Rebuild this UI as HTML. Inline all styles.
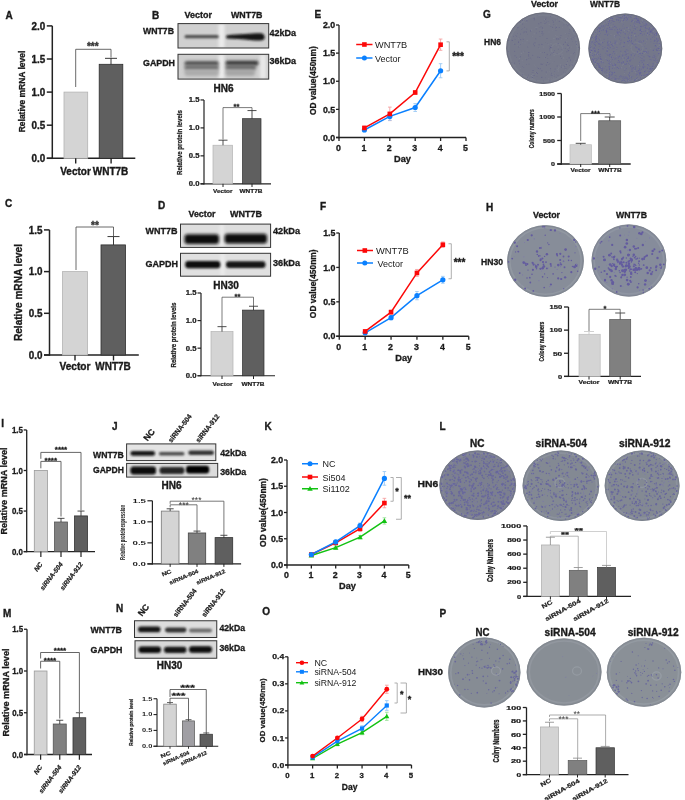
<!DOCTYPE html>
<html><head><meta charset="utf-8"><style>
html,body{margin:0;padding:0;background:#fff;}
svg{display:block;will-change:transform;filter:blur(0.3px);}
text{font-family:"Liberation Sans", sans-serif;}
</style></head><body>
<svg width="685" height="800" viewBox="0 0 685 800">
<defs>
<filter id="bl1" x="-30%" y="-100%" width="160%" height="300%"><feGaussianBlur stdDeviation="1.0"/></filter>
<filter id="bl2" x="-100%" y="-20%" width="300%" height="140%"><feGaussianBlur stdDeviation="1.5"/></filter>
<filter id="bl3" x="-20%" y="-20%" width="140%" height="140%"><feGaussianBlur stdDeviation="3"/></filter>
<filter id="bl15" x="-30%" y="-100%" width="160%" height="300%"><feGaussianBlur stdDeviation="1.4"/></filter>
<filter id="bl07" x="-100%" y="-100%" width="300%" height="300%"><feGaussianBlur stdDeviation="0.65"/></filter>
<filter id="bl05"><feGaussianBlur stdDeviation="0.4"/></filter>
</defs>
<rect width="685" height="800" fill="#fff"/>
<text x="5.60" y="18.80" font-size="10" font-weight="bold" text-anchor="start" fill="#1a1a1a" stroke="#1a1a1a" stroke-width="0.35">A</text>
<line x1="52.30" y1="159.05" x2="52.30" y2="25.90" stroke="#222" stroke-width="1.5"/>
<line x1="46.80" y1="158.30" x2="52.30" y2="158.30" stroke="#222" stroke-width="1.5"/>
<text x="45.30" y="161.90" font-size="10" font-weight="bold" text-anchor="end" fill="#1a1a1a" stroke="#1a1a1a" stroke-width="0.35" textLength="13.7" lengthAdjust="spacingAndGlyphs">0.0</text>
<line x1="46.80" y1="125.20" x2="52.30" y2="125.20" stroke="#222" stroke-width="1.5"/>
<text x="45.30" y="128.80" font-size="10" font-weight="bold" text-anchor="end" fill="#1a1a1a" stroke="#1a1a1a" stroke-width="0.35" textLength="13.7" lengthAdjust="spacingAndGlyphs">0.5</text>
<line x1="46.80" y1="92.10" x2="52.30" y2="92.10" stroke="#222" stroke-width="1.5"/>
<text x="45.30" y="95.70" font-size="10" font-weight="bold" text-anchor="end" fill="#1a1a1a" stroke="#1a1a1a" stroke-width="0.35" textLength="13.7" lengthAdjust="spacingAndGlyphs">1.0</text>
<line x1="46.80" y1="59.00" x2="52.30" y2="59.00" stroke="#222" stroke-width="1.5"/>
<text x="45.30" y="62.60" font-size="10" font-weight="bold" text-anchor="end" fill="#1a1a1a" stroke="#1a1a1a" stroke-width="0.35" textLength="13.7" lengthAdjust="spacingAndGlyphs">1.5</text>
<line x1="46.80" y1="25.90" x2="52.30" y2="25.90" stroke="#222" stroke-width="1.5"/>
<text x="45.30" y="29.50" font-size="10" font-weight="bold" text-anchor="end" fill="#1a1a1a" stroke="#1a1a1a" stroke-width="0.35" textLength="13.7" lengthAdjust="spacingAndGlyphs">2.0</text>
<line x1="46.80" y1="158.30" x2="135.30" y2="158.30" stroke="#222" stroke-width="1.5"/>
<rect x="64.00" y="92.10" width="23.70" height="66.20" fill="#d4d4d4" stroke="#b3b3b3" stroke-width="0.8"/>
<rect x="99.20" y="64.30" width="23.60" height="94.00" fill="#5f5f5f" stroke="#2e2e2e" stroke-width="0.8"/>
<line x1="111.00" y1="64.30" x2="111.00" y2="58.34" stroke="#222" stroke-width="0.9"/>
<line x1="105.00" y1="58.34" x2="117.00" y2="58.34" stroke="#222" stroke-width="0.9"/>
<polyline points="75.70,87.00 75.70,49.30 111.00,49.30 111.00,57.50" fill="none" stroke="#444" stroke-width="0.8"/>
<text x="92.80" y="50.10" font-size="10" font-weight="bold" text-anchor="middle" fill="#333" stroke="#333" stroke-width="0.35">***</text>
<line x1="75.70" y1="158.30" x2="75.70" y2="163.40" stroke="#222" stroke-width="1.4"/>
<line x1="111.10" y1="158.30" x2="111.10" y2="163.40" stroke="#222" stroke-width="1.4"/>
<text x="75.50" y="174.50" font-size="10" font-weight="bold" text-anchor="middle" fill="#1a1a1a" stroke="#1a1a1a" stroke-width="0.35">Vector</text>
<text x="110.50" y="174.50" font-size="10" font-weight="bold" text-anchor="middle" fill="#1a1a1a" stroke="#1a1a1a" stroke-width="0.35">WNT7B</text>
<text x="25.20" y="91.50" font-size="8.8" font-weight="bold" text-anchor="middle" fill="#1a1a1a" stroke="#1a1a1a" stroke-width="0.31" textLength="81.5" lengthAdjust="spacingAndGlyphs" transform="rotate(-90 25.20 91.50)">Relative mRNA level</text>
<text x="152.00" y="18.50" font-size="10" font-weight="bold" text-anchor="start" fill="#1a1a1a" stroke="#1a1a1a" stroke-width="0.35">B</text>
<text x="198.25" y="18.20" font-size="9" font-weight="bold" text-anchor="middle" fill="#1a1a1a" stroke="#1a1a1a" stroke-width="0.32" textLength="27.5" lengthAdjust="spacingAndGlyphs">Vector</text>
<text x="246.75" y="18.20" font-size="9" font-weight="bold" text-anchor="middle" fill="#1a1a1a" stroke="#1a1a1a" stroke-width="0.32" textLength="31.5" lengthAdjust="spacingAndGlyphs">WNT7B</text>
<text x="143.00" y="34.40" font-size="9" font-weight="bold" text-anchor="start" fill="#1a1a1a" stroke="#1a1a1a" stroke-width="0.32" textLength="31" lengthAdjust="spacingAndGlyphs">WNT7B</text>
<text x="143.00" y="65.60" font-size="9" font-weight="bold" text-anchor="start" fill="#1a1a1a" stroke="#1a1a1a" stroke-width="0.32" textLength="32" lengthAdjust="spacingAndGlyphs">GAPDH</text>
<text x="269.50" y="35.70" font-size="9" font-weight="bold" text-anchor="start" fill="#1a1a1a" stroke="#1a1a1a" stroke-width="0.32" textLength="26.5" lengthAdjust="spacingAndGlyphs">42kDa</text>
<text x="269.50" y="63.50" font-size="9" font-weight="bold" text-anchor="start" fill="#1a1a1a" stroke="#1a1a1a" stroke-width="0.32" textLength="26.5" lengthAdjust="spacingAndGlyphs">36kDa</text>
<text x="223.50" y="91.70" font-size="10" font-weight="bold" text-anchor="middle" fill="#1a1a1a" stroke="#1a1a1a" stroke-width="0.35">HN6</text>
<clipPath id="cl1"><rect x="178" y="23.6" width="90.69999999999999" height="24.4"/></clipPath>
<g clip-path="url(#cl1)">
<rect x="178.00" y="23.60" width="90.70" height="24.40" fill="#d0d0d0"/>
<rect x="218.50" y="23.6" width="6" height="24.4" fill="#ececec" filter="url(#bl2)"/>
<rect x="184.50" y="35.00" width="34.30" height="3.30" rx="1.65" fill="#4e4e4e" opacity="1" filter="url(#bl1)"/>
<path d="M227.5,35.2 C240,34.4 252,33.4 260,33.3 C264.5,33.3 265,36.5 264.5,38.5 C263.5,41 258,40.8 252,40.2 C242,39.4 234,38.8 227.5,38.6 C225.8,38.4 225.8,35.4 227.5,35.2 Z" fill="#141414" filter="url(#bl1)"/>
</g>
<rect x="178" y="23.6" width="90.69999999999999" height="24.4" fill="none" stroke="#333" stroke-width="1.0"/>
<clipPath id="cl2"><rect x="178" y="54.3" width="90.69999999999999" height="24.799999999999997"/></clipPath>
<g clip-path="url(#cl2)">
<rect x="178.00" y="54.30" width="90.70" height="24.80" fill="#cfcfcf"/>
<rect x="218.50" y="54.3" width="6" height="24.799999999999997" fill="#ececec" filter="url(#bl2)"/>
<rect x="260.00" y="54.3" width="6" height="24.799999999999997" fill="#e8e8e8" filter="url(#bl2)"/>
<rect x="184.50" y="61.30" width="34.30" height="4.30" rx="2.15" fill="#474747" opacity="1" filter="url(#bl15)"/>
<rect x="184.50" y="64.80" width="34.30" height="5.70" rx="2.85" fill="#707070" opacity="1" filter="url(#bl15)"/>
<rect x="184.50" y="69.50" width="34.30" height="6.50" rx="3.00" fill="#acacac" opacity="1" filter="url(#bl15)"/>
<rect x="225.50" y="60.80" width="33.00" height="4.60" rx="2.30" fill="#303030" opacity="1" filter="url(#bl15)"/>
<rect x="225.50" y="64.50" width="30.50" height="6.00" rx="3.00" fill="#6a6a6a" opacity="1" filter="url(#bl15)"/>
<rect x="225.50" y="69.50" width="29.50" height="6.50" rx="3.00" fill="#a6a6a6" opacity="1" filter="url(#bl15)"/>
</g>
<rect x="178" y="54.3" width="90.69999999999999" height="24.799999999999997" fill="none" stroke="#333" stroke-width="1.0"/>
<line x1="204.00" y1="184.40" x2="204.00" y2="99.95" stroke="#222" stroke-width="1.2"/>
<line x1="200.50" y1="183.80" x2="204.00" y2="183.80" stroke="#222" stroke-width="1.2"/>
<text x="199.50" y="186.14" font-size="6.5" font-weight="bold" text-anchor="end" fill="#1a1a1a" stroke="#1a1a1a" stroke-width="0.23" textLength="10.7" lengthAdjust="spacingAndGlyphs">0.0</text>
<line x1="200.50" y1="155.85" x2="204.00" y2="155.85" stroke="#222" stroke-width="1.2"/>
<text x="199.50" y="158.19" font-size="6.5" font-weight="bold" text-anchor="end" fill="#1a1a1a" stroke="#1a1a1a" stroke-width="0.23" textLength="10.7" lengthAdjust="spacingAndGlyphs">0.5</text>
<line x1="200.50" y1="127.90" x2="204.00" y2="127.90" stroke="#222" stroke-width="1.2"/>
<text x="199.50" y="130.24" font-size="6.5" font-weight="bold" text-anchor="end" fill="#1a1a1a" stroke="#1a1a1a" stroke-width="0.23" textLength="10.7" lengthAdjust="spacingAndGlyphs">1.0</text>
<line x1="200.50" y1="99.95" x2="204.00" y2="99.95" stroke="#222" stroke-width="1.2"/>
<text x="199.50" y="102.29" font-size="6.5" font-weight="bold" text-anchor="end" fill="#1a1a1a" stroke="#1a1a1a" stroke-width="0.23" textLength="10.7" lengthAdjust="spacingAndGlyphs">1.5</text>
<line x1="200.50" y1="183.80" x2="271.00" y2="183.80" stroke="#222" stroke-width="1.2"/>
<rect x="213.00" y="145.23" width="19.50" height="38.57" fill="#d4d4d4" stroke="#b3b3b3" stroke-width="0.7"/>
<rect x="242.50" y="118.68" width="18.50" height="65.12" fill="#5f5f5f" stroke="#2e2e2e" stroke-width="0.7"/>
<line x1="223.00" y1="145.23" x2="223.00" y2="140.20" stroke="#222" stroke-width="0.8"/>
<line x1="218.50" y1="140.20" x2="227.50" y2="140.20" stroke="#222" stroke-width="0.8"/>
<line x1="252.00" y1="118.68" x2="252.00" y2="110.57" stroke="#222" stroke-width="0.8"/>
<line x1="247.50" y1="110.57" x2="256.50" y2="110.57" stroke="#222" stroke-width="0.8"/>
<polyline points="223.00,139.50 223.00,107.60 252.00,107.60 252.00,110.80" fill="none" stroke="#444" stroke-width="0.7"/>
<text x="236.50" y="109.00" font-size="7.5" font-weight="bold" text-anchor="middle" fill="#1a1a1a" stroke="#1a1a1a" stroke-width="0.26">**</text>
<line x1="223.00" y1="183.80" x2="223.00" y2="187.00" stroke="#222" stroke-width="1.0"/>
<line x1="252.00" y1="183.80" x2="252.00" y2="187.00" stroke="#222" stroke-width="1.0"/>
<text x="222.75" y="193.30" font-size="5.8" font-weight="bold" text-anchor="middle" fill="#1a1a1a" stroke="#1a1a1a" stroke-width="0.20" textLength="19.5" lengthAdjust="spacingAndGlyphs">Vector</text>
<text x="251.00" y="193.30" font-size="5.8" font-weight="bold" text-anchor="middle" fill="#1a1a1a" stroke="#1a1a1a" stroke-width="0.20" textLength="23" lengthAdjust="spacingAndGlyphs">WNT7B</text>
<text x="181.60" y="142.50" font-size="7.2" font-weight="bold" text-anchor="middle" fill="#1a1a1a" stroke="#1a1a1a" stroke-width="0.25" textLength="65" lengthAdjust="spacingAndGlyphs" transform="rotate(-90 181.60 142.50)">Relative protein levels</text>
<text x="314.50" y="17.60" font-size="10" font-weight="bold" text-anchor="start" fill="#1a1a1a" stroke="#1a1a1a" stroke-width="0.35">E</text>
<line x1="339.00" y1="138.15" x2="339.00" y2="25.00" stroke="#222" stroke-width="1.3"/>
<line x1="336.00" y1="137.50" x2="339.00" y2="137.50" stroke="#222" stroke-width="1.3"/>
<text x="335.20" y="140.67" font-size="8.8" font-weight="bold" text-anchor="end" fill="#1a1a1a" stroke="#1a1a1a" stroke-width="0.31">0.0</text>
<line x1="336.00" y1="109.38" x2="339.00" y2="109.38" stroke="#222" stroke-width="1.3"/>
<text x="335.20" y="112.54" font-size="8.8" font-weight="bold" text-anchor="end" fill="#1a1a1a" stroke="#1a1a1a" stroke-width="0.31">0.5</text>
<line x1="336.00" y1="81.25" x2="339.00" y2="81.25" stroke="#222" stroke-width="1.3"/>
<text x="335.20" y="84.42" font-size="8.8" font-weight="bold" text-anchor="end" fill="#1a1a1a" stroke="#1a1a1a" stroke-width="0.31">1.0</text>
<line x1="336.00" y1="53.12" x2="339.00" y2="53.12" stroke="#222" stroke-width="1.3"/>
<text x="335.20" y="56.29" font-size="8.8" font-weight="bold" text-anchor="end" fill="#1a1a1a" stroke="#1a1a1a" stroke-width="0.31">1.5</text>
<line x1="336.00" y1="25.00" x2="339.00" y2="25.00" stroke="#222" stroke-width="1.3"/>
<text x="335.20" y="28.17" font-size="8.8" font-weight="bold" text-anchor="end" fill="#1a1a1a" stroke="#1a1a1a" stroke-width="0.31">2.0</text>
<line x1="336.00" y1="137.50" x2="466.00" y2="137.50" stroke="#222" stroke-width="1.3"/>
<line x1="339.00" y1="137.50" x2="339.00" y2="141.00" stroke="#222" stroke-width="1.3"/>
<text x="338.50" y="151.00" font-size="8.8" font-weight="bold" text-anchor="middle" fill="#1a1a1a" stroke="#1a1a1a" stroke-width="0.31">0</text>
<line x1="364.40" y1="137.50" x2="364.40" y2="141.00" stroke="#222" stroke-width="1.3"/>
<text x="363.90" y="151.00" font-size="8.8" font-weight="bold" text-anchor="middle" fill="#1a1a1a" stroke="#1a1a1a" stroke-width="0.31">1</text>
<line x1="389.80" y1="137.50" x2="389.80" y2="141.00" stroke="#222" stroke-width="1.3"/>
<text x="389.30" y="151.00" font-size="8.8" font-weight="bold" text-anchor="middle" fill="#1a1a1a" stroke="#1a1a1a" stroke-width="0.31">2</text>
<line x1="415.20" y1="137.50" x2="415.20" y2="141.00" stroke="#222" stroke-width="1.3"/>
<text x="414.70" y="151.00" font-size="8.8" font-weight="bold" text-anchor="middle" fill="#1a1a1a" stroke="#1a1a1a" stroke-width="0.31">3</text>
<line x1="440.60" y1="137.50" x2="440.60" y2="141.00" stroke="#222" stroke-width="1.3"/>
<text x="440.10" y="151.00" font-size="8.8" font-weight="bold" text-anchor="middle" fill="#1a1a1a" stroke="#1a1a1a" stroke-width="0.31">4</text>
<line x1="466.00" y1="137.50" x2="466.00" y2="141.00" stroke="#222" stroke-width="1.3"/>
<text x="465.50" y="151.00" font-size="8.8" font-weight="bold" text-anchor="middle" fill="#1a1a1a" stroke="#1a1a1a" stroke-width="0.31">5</text>
<text x="402.50" y="162.00" font-size="9.2" font-weight="bold" text-anchor="middle" fill="#1a1a1a" stroke="#1a1a1a" stroke-width="0.32">Day</text>
<text x="315.70" y="80.60" font-size="8.5" font-weight="bold" text-anchor="middle" fill="#1a1a1a" stroke="#1a1a1a" stroke-width="0.30" textLength="68.8" lengthAdjust="spacingAndGlyphs" transform="rotate(-90 315.70 80.60)">OD value(450nm)</text>
<line x1="364.40" y1="126.25" x2="364.40" y2="129.62" stroke="#f5a0a0" stroke-width="0.9"/>
<line x1="362.60" y1="126.25" x2="366.20" y2="126.25" stroke="#f5a0a0" stroke-width="0.9"/>
<line x1="362.60" y1="129.62" x2="366.20" y2="129.62" stroke="#f5a0a0" stroke-width="0.9"/>
<line x1="389.80" y1="107.12" x2="389.80" y2="120.62" stroke="#f5a0a0" stroke-width="0.9"/>
<line x1="388.00" y1="107.12" x2="391.60" y2="107.12" stroke="#f5a0a0" stroke-width="0.9"/>
<line x1="388.00" y1="120.62" x2="391.60" y2="120.62" stroke="#f5a0a0" stroke-width="0.9"/>
<line x1="415.20" y1="90.81" x2="415.20" y2="94.19" stroke="#f5a0a0" stroke-width="0.9"/>
<line x1="413.40" y1="90.81" x2="417.00" y2="90.81" stroke="#f5a0a0" stroke-width="0.9"/>
<line x1="413.40" y1="94.19" x2="417.00" y2="94.19" stroke="#f5a0a0" stroke-width="0.9"/>
<line x1="440.60" y1="39.06" x2="440.60" y2="50.31" stroke="#f5a0a0" stroke-width="0.9"/>
<line x1="438.80" y1="39.06" x2="442.40" y2="39.06" stroke="#f5a0a0" stroke-width="0.9"/>
<line x1="438.80" y1="50.31" x2="442.40" y2="50.31" stroke="#f5a0a0" stroke-width="0.9"/>
<line x1="364.40" y1="128.33" x2="364.40" y2="131.71" stroke="#9ccaf5" stroke-width="0.9"/>
<line x1="362.60" y1="128.33" x2="366.20" y2="128.33" stroke="#9ccaf5" stroke-width="0.9"/>
<line x1="362.60" y1="131.71" x2="366.20" y2="131.71" stroke="#9ccaf5" stroke-width="0.9"/>
<line x1="389.80" y1="112.47" x2="389.80" y2="120.34" stroke="#9ccaf5" stroke-width="0.9"/>
<line x1="388.00" y1="112.47" x2="391.60" y2="112.47" stroke="#9ccaf5" stroke-width="0.9"/>
<line x1="388.00" y1="120.34" x2="391.60" y2="120.34" stroke="#9ccaf5" stroke-width="0.9"/>
<line x1="415.20" y1="103.58" x2="415.20" y2="111.46" stroke="#9ccaf5" stroke-width="0.9"/>
<line x1="413.40" y1="103.58" x2="417.00" y2="103.58" stroke="#9ccaf5" stroke-width="0.9"/>
<line x1="413.40" y1="111.46" x2="417.00" y2="111.46" stroke="#9ccaf5" stroke-width="0.9"/>
<line x1="440.60" y1="63.70" x2="440.60" y2="77.76" stroke="#9ccaf5" stroke-width="0.9"/>
<line x1="438.80" y1="63.70" x2="442.40" y2="63.70" stroke="#9ccaf5" stroke-width="0.9"/>
<line x1="438.80" y1="77.76" x2="442.40" y2="77.76" stroke="#9ccaf5" stroke-width="0.9"/>
<polyline points="364.40,130.02 389.80,116.41 415.20,107.52 440.60,70.73" fill="none" stroke="#0a80ff" stroke-width="1.5"/>
<polyline points="364.40,127.94 389.80,113.88 415.20,92.50 440.60,44.69" fill="none" stroke="#fc0808" stroke-width="1.5"/>
<circle cx="364.40" cy="130.02" r="2.60" fill="#0a80ff"/>
<circle cx="389.80" cy="116.41" r="2.60" fill="#0a80ff"/>
<circle cx="415.20" cy="107.52" r="2.60" fill="#0a80ff"/>
<circle cx="440.60" cy="70.73" r="2.60" fill="#0a80ff"/>
<rect x="362.10" y="125.64" width="4.60" height="4.60" fill="#fc0808"/>
<rect x="387.50" y="111.58" width="4.60" height="4.60" fill="#fc0808"/>
<rect x="412.90" y="90.20" width="4.60" height="4.60" fill="#fc0808"/>
<rect x="438.30" y="42.39" width="4.60" height="4.60" fill="#fc0808"/>
<line x1="356.20" y1="44.50" x2="372.50" y2="44.50" stroke="#fc0808" stroke-width="1.5"/>
<rect x="362.10" y="42.20" width="4.60" height="4.60" fill="#fc0808"/>
<text x="375.00" y="48.00" font-size="9" font-weight="normal" text-anchor="start" fill="#1a1a1a" textLength="32.2" lengthAdjust="spacingAndGlyphs">WNT7B</text>
<line x1="356.20" y1="58.00" x2="372.50" y2="58.00" stroke="#0a80ff" stroke-width="1.5"/>
<circle cx="364.40" cy="58.00" r="2.50" fill="#0a80ff"/>
<text x="375.00" y="61.50" font-size="9" font-weight="normal" text-anchor="start" fill="#1a1a1a">Vector</text>
<polyline points="446.50,41.80 449.30,41.80 449.30,70.90 446.50,70.90" fill="none" stroke="#9a9a9a" stroke-width="0.8"/>
<text x="458.00" y="60.00" font-size="10" font-weight="bold" text-anchor="middle" fill="#1a1a1a" stroke="#1a1a1a" stroke-width="0.35">***</text>
<text x="483.00" y="17.60" font-size="10" font-weight="bold" text-anchor="start" fill="#1a1a1a" stroke="#1a1a1a" stroke-width="0.35">G</text>
<text x="544.50" y="7.20" font-size="9" font-weight="bold" text-anchor="middle" fill="#1a1a1a" stroke="#1a1a1a" stroke-width="0.32" textLength="27" lengthAdjust="spacingAndGlyphs">Vector</text>
<text x="605.00" y="7.20" font-size="9" font-weight="bold" text-anchor="middle" fill="#1a1a1a" stroke="#1a1a1a" stroke-width="0.32" textLength="30" lengthAdjust="spacingAndGlyphs">WNT7B</text>
<text x="484.00" y="45.20" font-size="9" font-weight="bold" text-anchor="start" fill="#1a1a1a" stroke="#1a1a1a" stroke-width="0.32" textLength="17" lengthAdjust="spacingAndGlyphs">HN6</text>
<clipPath id="pc1"><ellipse cx="543.1" cy="48.2" rx="36.9" ry="35.7"/></clipPath>
<ellipse cx="543.1" cy="48.2" rx="36.9" ry="35.7" fill="#76798a"/>
<g clip-path="url(#pc1)">
<ellipse cx="543.1" cy="48.2" rx="34.3" ry="33.1" fill="none" stroke="#7c808e" stroke-opacity="0.7" stroke-width="1.6" filter="url(#bl05)"/>
<ellipse cx="557" cy="49" rx="6" ry="5.4" fill="none" stroke="#7c808e" stroke-opacity="0.8" stroke-width="1.3" filter="url(#bl05)"/>
<g fill="#65658a" filter="url(#bl05)">
<circle cx="520.7" cy="39.7" r="0.58"/>
<circle cx="518.7" cy="47.0" r="0.48"/>
<circle cx="527.8" cy="47.1" r="0.49"/>
<circle cx="569.6" cy="65.4" r="0.39"/>
<circle cx="547.0" cy="38.5" r="0.51"/>
<circle cx="550.4" cy="47.4" r="0.59"/>
<circle cx="521.5" cy="29.6" r="0.35"/>
<circle cx="538.8" cy="47.4" r="0.32"/>
<circle cx="543.9" cy="63.3" r="0.31"/>
<circle cx="520.4" cy="56.8" r="0.55"/>
<circle cx="526.7" cy="28.9" r="0.45"/>
<circle cx="515.0" cy="55.7" r="0.38"/>
<circle cx="578.8" cy="47.3" r="0.55"/>
<circle cx="531.1" cy="74.9" r="0.37"/>
<circle cx="560.5" cy="56.2" r="0.53"/>
<circle cx="556.0" cy="30.2" r="0.42"/>
<circle cx="563.2" cy="20.4" r="0.30"/>
<circle cx="557.0" cy="39.7" r="0.44"/>
<circle cx="514.8" cy="68.8" r="0.32"/>
<circle cx="548.2" cy="21.2" r="0.38"/>
<circle cx="537.9" cy="57.1" r="0.59"/>
<circle cx="566.1" cy="68.6" r="0.37"/>
<circle cx="553.7" cy="52.2" r="0.54"/>
<circle cx="529.0" cy="42.9" r="0.43"/>
<circle cx="541.3" cy="33.2" r="0.34"/>
<circle cx="564.5" cy="66.8" r="0.43"/>
<circle cx="541.1" cy="64.1" r="0.59"/>
<circle cx="532.4" cy="77.5" r="0.57"/>
<circle cx="530.2" cy="58.0" r="0.56"/>
<circle cx="566.3" cy="64.6" r="0.60"/>
<circle cx="542.2" cy="64.2" r="0.53"/>
<circle cx="537.2" cy="67.2" r="0.32"/>
<circle cx="533.8" cy="43.0" r="0.37"/>
<circle cx="523.9" cy="67.6" r="0.44"/>
<circle cx="508.2" cy="51.7" r="0.47"/>
<circle cx="556.7" cy="77.6" r="0.35"/>
<circle cx="557.2" cy="18.1" r="0.37"/>
<circle cx="542.1" cy="33.1" r="0.58"/>
<circle cx="558.2" cy="43.5" r="0.56"/>
<circle cx="518.6" cy="60.9" r="0.33"/>
<circle cx="549.9" cy="46.6" r="0.37"/>
<circle cx="541.8" cy="77.2" r="0.55"/>
<circle cx="535.6" cy="74.0" r="0.35"/>
<circle cx="570.7" cy="60.5" r="0.37"/>
<circle cx="559.2" cy="27.5" r="0.48"/>
<circle cx="559.5" cy="39.1" r="0.36"/>
<circle cx="542.5" cy="52.6" r="0.43"/>
<circle cx="547.0" cy="55.8" r="0.41"/>
<circle cx="561.4" cy="67.5" r="0.41"/>
<circle cx="576.6" cy="44.2" r="0.50"/>
<circle cx="517.4" cy="33.6" r="0.34"/>
<circle cx="549.8" cy="48.9" r="0.57"/>
<circle cx="572.3" cy="41.5" r="0.31"/>
<circle cx="514.7" cy="51.3" r="0.52"/>
<circle cx="563.3" cy="48.1" r="0.32"/>
<circle cx="540.9" cy="22.7" r="0.57"/>
<circle cx="534.3" cy="19.7" r="0.54"/>
<circle cx="522.7" cy="74.8" r="0.51"/>
<circle cx="566.5" cy="24.4" r="0.43"/>
<circle cx="563.9" cy="24.9" r="0.47"/>
<circle cx="522.2" cy="66.6" r="0.47"/>
<circle cx="567.6" cy="61.2" r="0.49"/>
<circle cx="569.1" cy="24.5" r="0.52"/>
<circle cx="541.0" cy="26.7" r="0.47"/>
<circle cx="555.6" cy="28.7" r="0.33"/>
<circle cx="573.6" cy="53.8" r="0.48"/>
<circle cx="546.2" cy="72.0" r="0.51"/>
<circle cx="524.1" cy="32.1" r="0.58"/>
<circle cx="561.2" cy="49.4" r="0.39"/>
<circle cx="551.8" cy="75.5" r="0.35"/>
<circle cx="524.8" cy="20.4" r="0.43"/>
<circle cx="527.4" cy="77.2" r="0.50"/>
<circle cx="528.6" cy="54.7" r="0.54"/>
<circle cx="568.1" cy="25.6" r="0.42"/>
<circle cx="532.0" cy="72.4" r="0.34"/>
<circle cx="556.2" cy="27.4" r="0.55"/>
<circle cx="571.8" cy="39.2" r="0.38"/>
<circle cx="529.1" cy="52.5" r="0.38"/>
<circle cx="528.9" cy="56.4" r="0.49"/>
<circle cx="533.1" cy="70.5" r="0.55"/>
<circle cx="509.2" cy="58.3" r="0.32"/>
<circle cx="547.5" cy="43.8" r="0.31"/>
<circle cx="515.9" cy="35.7" r="0.39"/>
<circle cx="574.7" cy="51.9" r="0.34"/>
<circle cx="566.9" cy="51.8" r="0.55"/>
<circle cx="554.1" cy="61.3" r="0.31"/>
<circle cx="516.3" cy="57.3" r="0.49"/>
<circle cx="553.3" cy="22.0" r="0.59"/>
<circle cx="552.4" cy="75.4" r="0.44"/>
<circle cx="558.2" cy="49.2" r="0.44"/>
<circle cx="556.1" cy="74.6" r="0.38"/>
<circle cx="536.3" cy="28.9" r="0.46"/>
<circle cx="544.2" cy="21.1" r="0.42"/>
<circle cx="569.6" cy="31.1" r="0.33"/>
<circle cx="537.1" cy="15.3" r="0.34"/>
<circle cx="526.1" cy="31.7" r="0.57"/>
<circle cx="523.2" cy="39.3" r="0.56"/>
<circle cx="573.1" cy="37.6" r="0.44"/>
<circle cx="551.2" cy="75.0" r="0.52"/>
<circle cx="522.7" cy="23.9" r="0.52"/>
<circle cx="556.5" cy="38.8" r="0.59"/>
<circle cx="508.7" cy="40.3" r="0.54"/>
<circle cx="560.2" cy="37.7" r="0.56"/>
<circle cx="561.4" cy="58.4" r="0.43"/>
<circle cx="546.1" cy="22.7" r="0.45"/>
<circle cx="545.3" cy="42.8" r="0.32"/>
<circle cx="558.0" cy="75.6" r="0.40"/>
<circle cx="563.3" cy="71.9" r="0.34"/>
<circle cx="538.8" cy="23.7" r="0.55"/>
<circle cx="571.1" cy="38.6" r="0.45"/>
<circle cx="573.0" cy="65.6" r="0.37"/>
<circle cx="536.6" cy="72.5" r="0.52"/>
<circle cx="514.8" cy="44.3" r="0.55"/>
<circle cx="533.0" cy="72.2" r="0.41"/>
<circle cx="569.8" cy="29.6" r="0.36"/>
<circle cx="575.5" cy="41.9" r="0.46"/>
<circle cx="551.3" cy="73.2" r="0.46"/>
<circle cx="523.1" cy="33.1" r="0.31"/>
<circle cx="508.0" cy="44.8" r="0.42"/>
<circle cx="513.5" cy="36.3" r="0.45"/>
<circle cx="570.3" cy="59.8" r="0.46"/>
<circle cx="565.3" cy="42.2" r="0.58"/>
<circle cx="524.8" cy="51.2" r="0.34"/>
<circle cx="552.6" cy="27.3" r="0.57"/>
<circle cx="533.0" cy="70.0" r="0.36"/>
<circle cx="568.2" cy="35.9" r="0.34"/>
<circle cx="574.4" cy="52.6" r="0.36"/>
<circle cx="536.5" cy="33.0" r="0.40"/>
<circle cx="527.5" cy="34.1" r="0.33"/>
<circle cx="565.0" cy="68.8" r="0.45"/>
<circle cx="548.9" cy="64.6" r="0.46"/>
<circle cx="526.3" cy="64.3" r="0.42"/>
<circle cx="557.1" cy="69.4" r="0.36"/>
<circle cx="524.8" cy="27.2" r="0.46"/>
<circle cx="517.9" cy="27.6" r="0.56"/>
<circle cx="542.1" cy="31.5" r="0.54"/>
<circle cx="529.4" cy="78.3" r="0.39"/>
<circle cx="549.9" cy="80.8" r="0.60"/>
<circle cx="565.6" cy="72.5" r="0.37"/>
<circle cx="541.3" cy="77.7" r="0.33"/>
<circle cx="514.3" cy="63.1" r="0.54"/>
<circle cx="532.7" cy="55.3" r="0.51"/>
<circle cx="544.5" cy="52.6" r="0.50"/>
<circle cx="576.6" cy="41.7" r="0.33"/>
<circle cx="544.4" cy="23.6" r="0.45"/>
<circle cx="554.2" cy="74.8" r="0.32"/>
<circle cx="554.4" cy="50.8" r="0.47"/>
<circle cx="519.8" cy="37.8" r="0.34"/>
<circle cx="547.5" cy="62.5" r="0.55"/>
<circle cx="575.0" cy="32.9" r="0.33"/>
<circle cx="551.6" cy="45.6" r="0.44"/>
<circle cx="528.6" cy="75.0" r="0.44"/>
<circle cx="519.8" cy="58.8" r="0.48"/>
<circle cx="541.9" cy="44.4" r="0.55"/>
<circle cx="528.5" cy="52.4" r="0.52"/>
<circle cx="550.8" cy="68.9" r="0.35"/>
<circle cx="568.6" cy="50.6" r="0.57"/>
<circle cx="534.1" cy="18.4" r="0.56"/>
<circle cx="519.7" cy="63.7" r="0.48"/>
<circle cx="568.4" cy="45.5" r="0.54"/>
<circle cx="558.5" cy="38.9" r="0.52"/>
<circle cx="555.6" cy="20.1" r="0.42"/>
<circle cx="567.8" cy="25.7" r="0.51"/>
<circle cx="546.1" cy="18.0" r="0.42"/>
<circle cx="570.6" cy="60.8" r="0.40"/>
<circle cx="567.6" cy="49.8" r="0.41"/>
<circle cx="522.7" cy="28.8" r="0.37"/>
<circle cx="525.6" cy="19.1" r="0.40"/>
<circle cx="516.8" cy="36.3" r="0.46"/>
<circle cx="565.4" cy="48.2" r="0.49"/>
<circle cx="545.3" cy="19.3" r="0.59"/>
<circle cx="539.1" cy="44.7" r="0.52"/>
<circle cx="528.3" cy="58.4" r="0.32"/>
<circle cx="531.9" cy="59.0" r="0.33"/>
<circle cx="558.0" cy="38.5" r="0.47"/>
<circle cx="568.1" cy="43.1" r="0.47"/>
<circle cx="520.0" cy="21.9" r="0.54"/>
<circle cx="535.0" cy="42.7" r="0.53"/>
<circle cx="550.0" cy="45.1" r="0.35"/>
<circle cx="555.1" cy="69.0" r="0.45"/>
<circle cx="569.2" cy="57.9" r="0.58"/>
<circle cx="520.2" cy="44.4" r="0.48"/>
<circle cx="538.3" cy="68.6" r="0.50"/>
<circle cx="537.5" cy="73.6" r="0.51"/>
<circle cx="562.5" cy="49.9" r="0.37"/>
<circle cx="547.2" cy="54.2" r="0.53"/>
<circle cx="561.0" cy="35.2" r="0.52"/>
<circle cx="551.1" cy="47.7" r="0.58"/>
<circle cx="551.1" cy="42.9" r="0.43"/>
<circle cx="567.5" cy="44.2" r="0.37"/>
<circle cx="567.0" cy="38.6" r="0.52"/>
<circle cx="567.4" cy="45.1" r="0.55"/>
<circle cx="563.9" cy="66.0" r="0.49"/>
<circle cx="550.0" cy="70.6" r="0.32"/>
<circle cx="561.6" cy="65.9" r="0.43"/>
<circle cx="515.0" cy="56.0" r="0.38"/>
<circle cx="519.2" cy="61.0" r="0.53"/>
<circle cx="569.2" cy="47.8" r="0.59"/>
<circle cx="545.3" cy="77.8" r="0.33"/>
<circle cx="550.3" cy="16.2" r="0.49"/>
<circle cx="540.2" cy="68.8" r="0.51"/>
<circle cx="520.5" cy="34.0" r="0.49"/>
<circle cx="554.6" cy="76.1" r="0.37"/>
<circle cx="573.7" cy="30.9" r="0.56"/>
<circle cx="549.7" cy="50.8" r="0.38"/>
<circle cx="526.4" cy="32.4" r="0.33"/>
<circle cx="566.8" cy="59.4" r="0.33"/>
<circle cx="515.1" cy="39.3" r="0.49"/>
<circle cx="521.4" cy="51.0" r="0.36"/>
<circle cx="542.4" cy="27.9" r="0.55"/>
<circle cx="550.2" cy="54.7" r="0.54"/>
<circle cx="546.4" cy="21.0" r="0.36"/>
<circle cx="541.9" cy="70.7" r="0.54"/>
<circle cx="530.7" cy="30.9" r="0.60"/>
<circle cx="523.6" cy="42.3" r="0.52"/>
<circle cx="512.2" cy="62.8" r="0.41"/>
<circle cx="551.0" cy="40.6" r="0.32"/>
<circle cx="533.6" cy="44.3" r="0.45"/>
<circle cx="534.1" cy="75.5" r="0.53"/>
<circle cx="545.4" cy="57.5" r="0.50"/>
<circle cx="539.7" cy="57.5" r="0.52"/>
<circle cx="537.0" cy="76.4" r="0.34"/>
<circle cx="539.9" cy="27.7" r="0.41"/>
<circle cx="540.0" cy="36.7" r="0.47"/>
<circle cx="575.0" cy="36.0" r="0.57"/>
<circle cx="550.9" cy="26.5" r="0.39"/>
<circle cx="526.8" cy="59.7" r="0.58"/>
<circle cx="543.5" cy="81.0" r="0.41"/>
<circle cx="529.0" cy="64.1" r="0.42"/>
<circle cx="550.7" cy="68.5" r="0.47"/>
<circle cx="512.2" cy="40.4" r="0.55"/>
<circle cx="555.1" cy="71.5" r="0.53"/>
<circle cx="536.5" cy="80.1" r="0.31"/>
<circle cx="518.4" cy="41.4" r="0.47"/>
<circle cx="522.6" cy="20.5" r="0.54"/>
<circle cx="534.4" cy="45.7" r="0.54"/>
<circle cx="552.1" cy="53.1" r="0.52"/>
<circle cx="572.3" cy="64.9" r="0.49"/>
<circle cx="542.7" cy="35.1" r="0.49"/>
<circle cx="546.4" cy="65.1" r="0.53"/>
<circle cx="545.5" cy="23.3" r="0.42"/>
<circle cx="563.5" cy="44.2" r="0.50"/>
<circle cx="518.6" cy="42.5" r="0.52"/>
<circle cx="569.0" cy="33.4" r="0.42"/>
<circle cx="526.8" cy="20.9" r="0.56"/>
<circle cx="559.3" cy="21.3" r="0.57"/>
<circle cx="520.8" cy="22.1" r="0.46"/>
<circle cx="552.8" cy="20.6" r="0.43"/>
<circle cx="557.2" cy="66.0" r="0.52"/>
<circle cx="517.8" cy="72.5" r="0.35"/>
<circle cx="528.7" cy="55.3" r="0.39"/>
<circle cx="575.9" cy="60.6" r="0.39"/>
<circle cx="535.8" cy="38.8" r="0.53"/>
<circle cx="557.1" cy="53.8" r="0.44"/>
<circle cx="566.1" cy="33.9" r="0.31"/>
<circle cx="547.8" cy="58.7" r="0.37"/>
<circle cx="539.6" cy="31.8" r="0.48"/>
<circle cx="549.8" cy="63.2" r="0.38"/>
<circle cx="543.8" cy="33.8" r="0.39"/>
<circle cx="553.9" cy="24.8" r="0.44"/>
</g>
<g fill="#7f8392" filter="url(#bl05)">
<circle cx="557.0" cy="36.7" r="0.57"/>
<circle cx="523.1" cy="42.3" r="0.59"/>
<circle cx="547.6" cy="71.9" r="0.31"/>
<circle cx="554.2" cy="16.2" r="0.42"/>
<circle cx="517.2" cy="45.7" r="0.38"/>
<circle cx="523.6" cy="19.4" r="0.37"/>
<circle cx="539.4" cy="48.8" r="0.41"/>
<circle cx="535.8" cy="18.1" r="0.48"/>
<circle cx="550.9" cy="59.7" r="0.40"/>
<circle cx="555.5" cy="35.3" r="0.45"/>
<circle cx="571.6" cy="47.0" r="0.38"/>
<circle cx="558.4" cy="68.7" r="0.53"/>
<circle cx="543.7" cy="47.0" r="0.55"/>
<circle cx="571.3" cy="63.7" r="0.38"/>
<circle cx="567.9" cy="65.0" r="0.44"/>
<circle cx="566.7" cy="41.7" r="0.48"/>
<circle cx="532.1" cy="78.5" r="0.54"/>
<circle cx="563.1" cy="37.0" r="0.33"/>
<circle cx="551.5" cy="78.6" r="0.46"/>
<circle cx="557.3" cy="69.2" r="0.55"/>
<circle cx="535.7" cy="66.1" r="0.32"/>
<circle cx="523.7" cy="52.1" r="0.51"/>
<circle cx="534.8" cy="29.0" r="0.33"/>
<circle cx="521.3" cy="53.4" r="0.59"/>
<circle cx="524.6" cy="22.2" r="0.30"/>
<circle cx="537.6" cy="27.6" r="0.37"/>
<circle cx="517.1" cy="55.0" r="0.30"/>
<circle cx="554.0" cy="15.4" r="0.36"/>
<circle cx="536.0" cy="74.5" r="0.41"/>
<circle cx="535.3" cy="72.5" r="0.40"/>
<circle cx="531.9" cy="29.4" r="0.38"/>
<circle cx="541.2" cy="32.8" r="0.40"/>
<circle cx="511.0" cy="35.3" r="0.52"/>
<circle cx="552.7" cy="30.5" r="0.33"/>
<circle cx="554.2" cy="55.5" r="0.50"/>
<circle cx="555.9" cy="74.6" r="0.42"/>
<circle cx="515.8" cy="30.8" r="0.33"/>
<circle cx="552.5" cy="62.0" r="0.34"/>
<circle cx="563.6" cy="57.9" r="0.58"/>
<circle cx="519.8" cy="46.6" r="0.49"/>
<circle cx="556.6" cy="20.9" r="0.42"/>
<circle cx="525.6" cy="58.7" r="0.30"/>
<circle cx="536.1" cy="27.4" r="0.59"/>
<circle cx="526.1" cy="22.2" r="0.48"/>
<circle cx="540.7" cy="52.3" r="0.40"/>
<circle cx="565.8" cy="65.5" r="0.41"/>
<circle cx="549.2" cy="24.2" r="0.55"/>
<circle cx="558.3" cy="70.9" r="0.53"/>
<circle cx="510.6" cy="38.4" r="0.41"/>
<circle cx="559.0" cy="67.2" r="0.51"/>
<circle cx="507.7" cy="44.7" r="0.51"/>
<circle cx="553.8" cy="78.1" r="0.58"/>
<circle cx="552.2" cy="74.2" r="0.32"/>
<circle cx="527.4" cy="40.3" r="0.51"/>
<circle cx="561.6" cy="39.6" r="0.41"/>
<circle cx="560.4" cy="64.8" r="0.59"/>
<circle cx="554.0" cy="41.0" r="0.46"/>
<circle cx="518.2" cy="38.6" r="0.38"/>
<circle cx="577.2" cy="46.6" r="0.55"/>
<circle cx="563.0" cy="66.9" r="0.55"/>
<circle cx="558.4" cy="37.0" r="0.37"/>
<circle cx="556.3" cy="25.3" r="0.36"/>
<circle cx="566.6" cy="60.0" r="0.31"/>
<circle cx="558.2" cy="47.0" r="0.58"/>
<circle cx="532.8" cy="74.5" r="0.50"/>
<circle cx="520.5" cy="68.3" r="0.48"/>
<circle cx="575.0" cy="51.4" r="0.36"/>
<circle cx="558.4" cy="66.7" r="0.42"/>
<circle cx="555.6" cy="71.4" r="0.46"/>
<circle cx="526.4" cy="40.8" r="0.40"/>
<circle cx="571.0" cy="54.7" r="0.50"/>
<circle cx="556.3" cy="44.9" r="0.48"/>
<circle cx="522.3" cy="60.7" r="0.49"/>
<circle cx="544.6" cy="19.5" r="0.53"/>
<circle cx="568.0" cy="47.4" r="0.55"/>
<circle cx="515.3" cy="65.5" r="0.43"/>
<circle cx="565.4" cy="33.6" r="0.46"/>
<circle cx="519.5" cy="58.6" r="0.57"/>
<circle cx="562.2" cy="54.8" r="0.52"/>
<circle cx="539.3" cy="15.6" r="0.48"/>
<circle cx="532.6" cy="76.5" r="0.48"/>
<circle cx="549.8" cy="54.6" r="0.43"/>
<circle cx="522.9" cy="63.0" r="0.32"/>
<circle cx="513.7" cy="43.5" r="0.37"/>
<circle cx="527.4" cy="59.9" r="0.37"/>
<circle cx="551.0" cy="43.4" r="0.59"/>
<circle cx="562.6" cy="27.2" r="0.43"/>
<circle cx="548.8" cy="78.8" r="0.52"/>
<circle cx="565.2" cy="33.3" r="0.33"/>
<circle cx="565.8" cy="69.8" r="0.46"/>
<circle cx="578.0" cy="48.3" r="0.37"/>
<circle cx="534.2" cy="65.1" r="0.32"/>
<circle cx="556.6" cy="18.2" r="0.42"/>
<circle cx="524.7" cy="37.6" r="0.31"/>
<circle cx="548.2" cy="44.6" r="0.39"/>
<circle cx="566.2" cy="38.3" r="0.59"/>
<circle cx="549.7" cy="71.1" r="0.39"/>
<circle cx="570.5" cy="28.1" r="0.36"/>
<circle cx="523.2" cy="73.3" r="0.44"/>
<circle cx="553.9" cy="38.4" r="0.60"/>
<circle cx="532.3" cy="36.7" r="0.36"/>
<circle cx="575.0" cy="58.2" r="0.33"/>
<circle cx="531.3" cy="75.4" r="0.57"/>
<circle cx="535.4" cy="16.8" r="0.34"/>
<circle cx="570.7" cy="37.2" r="0.43"/>
<circle cx="544.8" cy="57.8" r="0.39"/>
<circle cx="553.1" cy="75.8" r="0.35"/>
<circle cx="534.2" cy="33.8" r="0.54"/>
<circle cx="531.6" cy="30.2" r="0.57"/>
<circle cx="546.7" cy="74.6" r="0.39"/>
<circle cx="525.9" cy="19.3" r="0.38"/>
<circle cx="567.3" cy="63.0" r="0.59"/>
<circle cx="519.7" cy="44.1" r="0.46"/>
<circle cx="536.9" cy="43.9" r="0.39"/>
<circle cx="549.0" cy="31.8" r="0.33"/>
<circle cx="543.8" cy="29.7" r="0.37"/>
<circle cx="525.0" cy="42.8" r="0.36"/>
<circle cx="576.9" cy="45.7" r="0.31"/>
<circle cx="543.2" cy="24.7" r="0.42"/>
<circle cx="508.6" cy="48.2" r="0.35"/>
</g>
</g>
<ellipse cx="543.1" cy="48.2" rx="36.5" ry="35.300000000000004" fill="none" stroke="#676a76" stroke-opacity="0.8" stroke-width="0.9"/>
<clipPath id="pc2"><ellipse cx="625.3" cy="48.6" rx="36.9" ry="35.0"/></clipPath>
<ellipse cx="625.3" cy="48.6" rx="36.9" ry="35.0" fill="#74778a"/>
<g clip-path="url(#pc2)">
<ellipse cx="625.3" cy="48.6" rx="34.3" ry="32.4" fill="none" stroke="#7b7e8d" stroke-opacity="0.7" stroke-width="1.6" filter="url(#bl05)"/>
<ellipse cx="637" cy="48" rx="6" ry="5.4" fill="none" stroke="#7b7e8d" stroke-opacity="0.8" stroke-width="1.3" filter="url(#bl05)"/>
<g fill="#63629a" filter="url(#bl05)">
<circle cx="611.8" cy="29.1" r="0.50"/>
<circle cx="638.8" cy="49.5" r="0.41"/>
<circle cx="632.2" cy="32.1" r="0.51"/>
<circle cx="599.4" cy="39.2" r="0.50"/>
<circle cx="612.6" cy="53.4" r="0.35"/>
<circle cx="657.1" cy="60.3" r="0.55"/>
<circle cx="621.5" cy="40.0" r="0.40"/>
<circle cx="637.8" cy="30.5" r="0.31"/>
<circle cx="632.9" cy="44.3" r="0.45"/>
<circle cx="636.1" cy="47.8" r="0.58"/>
<circle cx="614.7" cy="53.9" r="0.34"/>
<circle cx="610.8" cy="35.5" r="0.35"/>
<circle cx="653.6" cy="57.6" r="0.35"/>
<circle cx="599.1" cy="66.5" r="0.43"/>
<circle cx="598.0" cy="52.4" r="0.42"/>
<circle cx="624.4" cy="42.7" r="0.59"/>
<circle cx="607.0" cy="19.9" r="0.41"/>
<circle cx="617.4" cy="29.6" r="0.50"/>
<circle cx="626.4" cy="60.0" r="0.41"/>
<circle cx="634.7" cy="26.0" r="0.45"/>
<circle cx="627.9" cy="43.5" r="0.43"/>
<circle cx="629.8" cy="72.7" r="0.43"/>
<circle cx="628.4" cy="27.6" r="0.33"/>
<circle cx="636.9" cy="71.2" r="0.51"/>
<circle cx="624.2" cy="55.0" r="0.40"/>
<circle cx="652.4" cy="57.3" r="0.44"/>
<circle cx="622.0" cy="63.8" r="0.44"/>
<circle cx="590.5" cy="52.6" r="0.59"/>
<circle cx="638.3" cy="42.2" r="0.41"/>
<circle cx="625.2" cy="33.8" r="0.57"/>
<circle cx="625.0" cy="51.4" r="0.53"/>
<circle cx="626.4" cy="68.4" r="0.30"/>
<circle cx="620.1" cy="44.0" r="0.60"/>
<circle cx="589.5" cy="47.8" r="0.31"/>
<circle cx="630.0" cy="29.9" r="0.55"/>
<circle cx="629.0" cy="75.5" r="0.46"/>
<circle cx="608.0" cy="31.8" r="0.38"/>
<circle cx="652.7" cy="28.2" r="0.35"/>
<circle cx="638.8" cy="35.5" r="0.38"/>
<circle cx="590.7" cy="45.5" r="0.51"/>
<circle cx="632.0" cy="76.4" r="0.39"/>
<circle cx="617.9" cy="32.9" r="0.51"/>
<circle cx="635.1" cy="40.5" r="0.43"/>
<circle cx="609.2" cy="55.2" r="0.59"/>
<circle cx="606.3" cy="30.7" r="0.58"/>
<circle cx="627.6" cy="15.4" r="0.43"/>
<circle cx="647.6" cy="33.4" r="0.54"/>
<circle cx="609.6" cy="69.8" r="0.41"/>
<circle cx="597.0" cy="37.3" r="0.31"/>
<circle cx="650.1" cy="32.3" r="0.54"/>
<circle cx="654.0" cy="31.5" r="0.46"/>
<circle cx="602.2" cy="69.3" r="0.33"/>
<circle cx="617.2" cy="67.3" r="0.58"/>
<circle cx="596.6" cy="41.3" r="0.49"/>
<circle cx="613.0" cy="46.0" r="0.51"/>
<circle cx="625.9" cy="69.9" r="0.42"/>
<circle cx="617.2" cy="30.9" r="0.34"/>
<circle cx="621.2" cy="58.0" r="0.51"/>
<circle cx="608.5" cy="23.7" r="0.58"/>
<circle cx="646.6" cy="52.4" r="0.45"/>
<circle cx="635.5" cy="69.0" r="0.50"/>
<circle cx="626.8" cy="68.4" r="0.40"/>
<circle cx="660.0" cy="50.2" r="0.41"/>
<circle cx="631.0" cy="65.7" r="0.43"/>
<circle cx="640.0" cy="40.8" r="0.45"/>
<circle cx="641.0" cy="72.8" r="0.44"/>
<circle cx="640.7" cy="26.5" r="0.37"/>
<circle cx="640.2" cy="30.4" r="0.55"/>
<circle cx="608.7" cy="44.8" r="0.53"/>
<circle cx="614.9" cy="29.7" r="0.50"/>
<circle cx="592.0" cy="37.5" r="0.50"/>
<circle cx="622.9" cy="28.6" r="0.40"/>
<circle cx="609.1" cy="67.0" r="0.39"/>
<circle cx="627.3" cy="61.0" r="0.46"/>
<circle cx="642.5" cy="53.4" r="0.54"/>
<circle cx="642.9" cy="41.5" r="0.48"/>
<circle cx="640.9" cy="33.4" r="0.57"/>
<circle cx="639.6" cy="62.3" r="0.49"/>
<circle cx="599.8" cy="29.0" r="0.54"/>
<circle cx="608.3" cy="33.9" r="0.38"/>
<circle cx="608.7" cy="63.5" r="0.42"/>
<circle cx="633.3" cy="28.5" r="0.35"/>
<circle cx="624.8" cy="64.0" r="0.59"/>
<circle cx="649.8" cy="56.6" r="0.55"/>
<circle cx="639.8" cy="20.0" r="0.41"/>
<circle cx="614.8" cy="75.9" r="0.34"/>
<circle cx="641.9" cy="21.2" r="0.36"/>
<circle cx="658.5" cy="53.5" r="0.39"/>
<circle cx="627.2" cy="52.0" r="0.35"/>
<circle cx="616.6" cy="76.1" r="0.36"/>
<circle cx="619.5" cy="62.1" r="0.56"/>
<circle cx="647.6" cy="64.5" r="0.51"/>
<circle cx="600.5" cy="56.5" r="0.46"/>
<circle cx="634.3" cy="22.6" r="0.45"/>
<circle cx="597.4" cy="54.1" r="0.49"/>
<circle cx="606.1" cy="59.4" r="0.45"/>
<circle cx="619.9" cy="76.8" r="0.58"/>
<circle cx="640.7" cy="29.8" r="0.51"/>
<circle cx="610.9" cy="18.3" r="0.43"/>
<circle cx="607.5" cy="35.1" r="0.53"/>
<circle cx="647.8" cy="71.2" r="0.32"/>
<circle cx="635.5" cy="54.2" r="0.32"/>
<circle cx="625.3" cy="51.7" r="0.33"/>
<circle cx="603.2" cy="29.9" r="0.59"/>
<circle cx="624.6" cy="15.3" r="0.58"/>
<circle cx="626.1" cy="54.2" r="0.58"/>
<circle cx="631.9" cy="71.1" r="0.53"/>
<circle cx="602.9" cy="42.7" r="0.39"/>
<circle cx="640.3" cy="57.3" r="0.48"/>
<circle cx="660.1" cy="45.8" r="0.53"/>
<circle cx="602.9" cy="73.6" r="0.39"/>
<circle cx="597.5" cy="29.4" r="0.50"/>
<circle cx="625.8" cy="52.4" r="0.44"/>
<circle cx="639.3" cy="22.8" r="0.53"/>
<circle cx="609.9" cy="62.0" r="0.56"/>
<circle cx="589.9" cy="51.8" r="0.36"/>
<circle cx="597.7" cy="42.6" r="0.41"/>
<circle cx="612.4" cy="59.4" r="0.48"/>
<circle cx="613.0" cy="45.5" r="0.59"/>
<circle cx="624.9" cy="77.9" r="0.43"/>
<circle cx="624.4" cy="37.8" r="0.49"/>
<circle cx="611.1" cy="44.4" r="0.48"/>
<circle cx="605.7" cy="66.4" r="0.39"/>
<circle cx="646.6" cy="48.3" r="0.40"/>
<circle cx="600.7" cy="54.6" r="0.35"/>
<circle cx="631.6" cy="69.2" r="0.40"/>
<circle cx="612.6" cy="65.3" r="0.58"/>
<circle cx="615.7" cy="64.7" r="0.50"/>
<circle cx="602.9" cy="46.5" r="0.49"/>
<circle cx="620.7" cy="40.5" r="0.33"/>
<circle cx="631.9" cy="32.8" r="0.60"/>
<circle cx="639.2" cy="73.2" r="0.43"/>
<circle cx="635.6" cy="33.4" r="0.37"/>
<circle cx="615.0" cy="37.1" r="0.49"/>
<circle cx="598.1" cy="52.1" r="0.59"/>
<circle cx="647.7" cy="39.7" r="0.42"/>
<circle cx="609.8" cy="66.5" r="0.51"/>
<circle cx="627.4" cy="78.0" r="0.46"/>
<circle cx="594.8" cy="48.3" r="0.50"/>
<circle cx="619.1" cy="22.6" r="0.41"/>
<circle cx="644.9" cy="51.5" r="0.57"/>
<circle cx="600.8" cy="67.8" r="0.59"/>
<circle cx="645.0" cy="74.9" r="0.55"/>
<circle cx="616.2" cy="68.9" r="0.38"/>
<circle cx="647.1" cy="55.6" r="0.32"/>
<circle cx="621.0" cy="59.5" r="0.35"/>
<circle cx="631.4" cy="38.3" r="0.41"/>
<circle cx="605.1" cy="34.5" r="0.58"/>
<circle cx="627.2" cy="61.5" r="0.56"/>
<circle cx="656.4" cy="35.1" r="0.46"/>
<circle cx="633.5" cy="67.7" r="0.57"/>
<circle cx="595.6" cy="39.1" r="0.54"/>
<circle cx="607.4" cy="45.0" r="0.57"/>
<circle cx="616.6" cy="41.1" r="0.36"/>
<circle cx="642.7" cy="22.3" r="0.49"/>
<circle cx="648.7" cy="51.6" r="0.45"/>
<circle cx="607.9" cy="60.5" r="0.32"/>
<circle cx="591.3" cy="44.1" r="0.47"/>
<circle cx="651.4" cy="29.7" r="0.46"/>
<circle cx="640.4" cy="28.1" r="0.41"/>
<circle cx="658.9" cy="53.5" r="0.54"/>
<circle cx="606.6" cy="31.4" r="0.60"/>
<circle cx="611.3" cy="57.4" r="0.54"/>
<circle cx="594.7" cy="44.2" r="0.53"/>
<circle cx="645.4" cy="28.1" r="0.50"/>
<circle cx="620.4" cy="68.5" r="0.32"/>
<circle cx="637.4" cy="51.7" r="0.59"/>
<circle cx="614.6" cy="40.9" r="0.34"/>
<circle cx="590.9" cy="41.8" r="0.35"/>
<circle cx="646.1" cy="24.8" r="0.59"/>
<circle cx="611.5" cy="57.8" r="0.50"/>
<circle cx="608.1" cy="41.0" r="0.51"/>
<circle cx="639.2" cy="22.3" r="0.53"/>
<circle cx="626.0" cy="30.5" r="0.43"/>
<circle cx="639.9" cy="50.4" r="0.49"/>
<circle cx="643.1" cy="59.9" r="0.45"/>
<circle cx="614.8" cy="68.1" r="0.47"/>
<circle cx="599.5" cy="44.0" r="0.60"/>
<circle cx="615.0" cy="79.4" r="0.56"/>
<circle cx="643.8" cy="41.3" r="0.32"/>
<circle cx="643.7" cy="40.7" r="0.50"/>
<circle cx="633.8" cy="76.0" r="0.34"/>
<circle cx="657.4" cy="62.0" r="0.35"/>
<circle cx="635.2" cy="28.4" r="0.50"/>
<circle cx="631.8" cy="15.2" r="0.43"/>
<circle cx="611.4" cy="78.2" r="0.32"/>
<circle cx="651.0" cy="26.0" r="0.50"/>
<circle cx="632.4" cy="71.1" r="0.37"/>
<circle cx="633.0" cy="53.5" r="0.44"/>
<circle cx="656.2" cy="35.3" r="0.45"/>
<circle cx="596.5" cy="54.2" r="0.53"/>
<circle cx="655.2" cy="45.9" r="0.55"/>
<circle cx="600.5" cy="33.6" r="0.35"/>
<circle cx="602.0" cy="56.1" r="0.35"/>
<circle cx="611.7" cy="56.7" r="0.35"/>
<circle cx="612.0" cy="72.3" r="0.60"/>
<circle cx="595.9" cy="45.7" r="0.43"/>
<circle cx="632.2" cy="68.8" r="0.59"/>
<circle cx="605.2" cy="22.3" r="0.50"/>
<circle cx="612.2" cy="45.3" r="0.35"/>
<circle cx="607.9" cy="38.5" r="0.35"/>
<circle cx="623.2" cy="32.3" r="0.45"/>
<circle cx="643.5" cy="75.6" r="0.33"/>
<circle cx="598.4" cy="27.8" r="0.51"/>
<circle cx="641.2" cy="69.0" r="0.59"/>
<circle cx="646.5" cy="35.7" r="0.34"/>
<circle cx="607.4" cy="43.2" r="0.37"/>
<circle cx="623.1" cy="80.0" r="0.32"/>
<circle cx="623.3" cy="62.2" r="0.58"/>
<circle cx="609.1" cy="20.8" r="0.43"/>
<circle cx="628.9" cy="42.6" r="0.34"/>
<circle cx="610.6" cy="54.6" r="0.56"/>
<circle cx="639.4" cy="54.2" r="0.57"/>
<circle cx="625.0" cy="45.5" r="0.34"/>
<circle cx="630.5" cy="66.5" r="0.43"/>
<circle cx="643.7" cy="21.1" r="0.46"/>
<circle cx="630.1" cy="57.6" r="0.39"/>
<circle cx="652.8" cy="33.4" r="0.31"/>
<circle cx="645.3" cy="43.7" r="0.35"/>
<circle cx="624.3" cy="58.1" r="0.57"/>
<circle cx="622.0" cy="31.5" r="0.34"/>
<circle cx="639.4" cy="72.7" r="0.48"/>
<circle cx="647.6" cy="28.4" r="0.43"/>
<circle cx="595.8" cy="67.3" r="0.58"/>
<circle cx="659.5" cy="48.3" r="0.33"/>
<circle cx="619.1" cy="31.9" r="0.57"/>
<circle cx="627.4" cy="31.5" r="0.44"/>
<circle cx="627.3" cy="49.7" r="0.30"/>
<circle cx="640.9" cy="41.9" r="0.50"/>
<circle cx="654.1" cy="32.8" r="0.42"/>
<circle cx="608.4" cy="25.2" r="0.51"/>
<circle cx="633.6" cy="41.9" r="0.35"/>
<circle cx="616.2" cy="27.7" r="0.52"/>
<circle cx="612.9" cy="77.1" r="0.39"/>
<circle cx="654.5" cy="57.0" r="0.56"/>
<circle cx="609.6" cy="60.5" r="0.39"/>
<circle cx="639.2" cy="74.1" r="0.34"/>
<circle cx="631.6" cy="55.0" r="0.49"/>
<circle cx="660.9" cy="49.8" r="0.44"/>
<circle cx="617.4" cy="67.4" r="0.40"/>
<circle cx="614.9" cy="53.7" r="0.38"/>
<circle cx="631.1" cy="54.8" r="0.58"/>
<circle cx="655.5" cy="45.5" r="0.54"/>
<circle cx="629.8" cy="77.5" r="0.33"/>
<circle cx="611.1" cy="17.7" r="0.52"/>
<circle cx="628.8" cy="36.2" r="0.46"/>
<circle cx="627.9" cy="58.4" r="0.59"/>
<circle cx="649.1" cy="63.1" r="0.32"/>
<circle cx="606.7" cy="72.2" r="0.44"/>
<circle cx="631.1" cy="59.9" r="0.45"/>
<circle cx="634.5" cy="69.0" r="0.35"/>
<circle cx="643.4" cy="63.4" r="0.32"/>
<circle cx="648.7" cy="56.0" r="0.52"/>
<circle cx="616.6" cy="20.0" r="0.59"/>
<circle cx="612.5" cy="55.1" r="0.42"/>
<circle cx="631.4" cy="41.6" r="0.31"/>
<circle cx="609.3" cy="18.5" r="0.60"/>
<circle cx="632.2" cy="43.4" r="0.59"/>
<circle cx="597.6" cy="34.2" r="0.49"/>
<circle cx="640.3" cy="29.8" r="0.47"/>
<circle cx="603.4" cy="62.7" r="0.49"/>
<circle cx="650.8" cy="39.1" r="0.53"/>
<circle cx="621.5" cy="29.4" r="0.37"/>
<circle cx="600.8" cy="44.8" r="0.52"/>
<circle cx="631.1" cy="55.9" r="0.35"/>
<circle cx="638.8" cy="72.1" r="0.47"/>
<circle cx="595.1" cy="62.6" r="0.37"/>
<circle cx="601.8" cy="62.5" r="0.43"/>
<circle cx="619.1" cy="35.5" r="0.40"/>
<circle cx="589.8" cy="49.3" r="0.50"/>
<circle cx="659.5" cy="45.3" r="0.31"/>
<circle cx="652.7" cy="68.4" r="0.58"/>
<circle cx="624.0" cy="78.7" r="0.51"/>
<circle cx="599.6" cy="56.1" r="0.49"/>
<circle cx="612.0" cy="29.4" r="0.51"/>
<circle cx="623.6" cy="46.6" r="0.51"/>
<circle cx="592.8" cy="41.5" r="0.46"/>
<circle cx="629.9" cy="60.8" r="0.57"/>
<circle cx="632.5" cy="43.7" r="0.34"/>
<circle cx="609.4" cy="34.0" r="0.31"/>
<circle cx="632.5" cy="26.9" r="0.42"/>
<circle cx="639.3" cy="53.8" r="0.58"/>
<circle cx="619.7" cy="39.0" r="0.49"/>
<circle cx="607.6" cy="42.2" r="0.51"/>
<circle cx="625.8" cy="64.1" r="0.58"/>
<circle cx="609.0" cy="49.7" r="0.44"/>
<circle cx="645.0" cy="25.2" r="0.53"/>
<circle cx="597.9" cy="41.8" r="0.33"/>
<circle cx="600.5" cy="59.1" r="0.53"/>
<circle cx="641.1" cy="63.1" r="0.42"/>
<circle cx="592.7" cy="49.3" r="0.50"/>
<circle cx="626.8" cy="56.5" r="0.38"/>
<circle cx="643.6" cy="64.7" r="0.58"/>
<circle cx="645.9" cy="48.7" r="0.37"/>
<circle cx="606.4" cy="32.6" r="0.54"/>
<circle cx="635.7" cy="46.8" r="0.56"/>
<circle cx="609.8" cy="29.2" r="0.39"/>
<circle cx="639.1" cy="49.4" r="0.59"/>
<circle cx="593.4" cy="59.2" r="0.48"/>
<circle cx="616.0" cy="26.9" r="0.33"/>
<circle cx="639.4" cy="74.9" r="0.48"/>
<circle cx="641.6" cy="26.7" r="0.48"/>
<circle cx="631.3" cy="35.5" r="0.41"/>
<circle cx="633.7" cy="24.4" r="0.59"/>
<circle cx="614.2" cy="51.7" r="0.39"/>
<circle cx="598.9" cy="67.3" r="0.57"/>
<circle cx="597.4" cy="63.3" r="0.53"/>
<circle cx="647.2" cy="67.4" r="0.39"/>
<circle cx="631.8" cy="37.7" r="0.42"/>
<circle cx="621.3" cy="30.4" r="0.60"/>
<circle cx="620.5" cy="36.7" r="0.37"/>
<circle cx="624.5" cy="18.4" r="0.53"/>
<circle cx="644.9" cy="66.7" r="0.56"/>
<circle cx="614.9" cy="43.2" r="0.59"/>
<circle cx="606.9" cy="50.7" r="0.50"/>
<circle cx="612.5" cy="73.0" r="0.42"/>
<circle cx="618.1" cy="17.2" r="0.35"/>
<circle cx="643.0" cy="26.2" r="0.48"/>
<circle cx="622.1" cy="80.6" r="0.39"/>
<circle cx="623.9" cy="80.2" r="0.34"/>
<circle cx="635.5" cy="39.8" r="0.55"/>
<circle cx="624.5" cy="33.5" r="0.36"/>
<circle cx="653.5" cy="50.4" r="0.47"/>
<circle cx="594.3" cy="47.7" r="0.49"/>
<circle cx="613.5" cy="51.7" r="0.54"/>
<circle cx="624.4" cy="27.9" r="0.48"/>
<circle cx="623.1" cy="18.2" r="0.39"/>
<circle cx="638.5" cy="20.5" r="0.43"/>
<circle cx="599.3" cy="63.4" r="0.47"/>
<circle cx="605.5" cy="53.2" r="0.39"/>
<circle cx="599.6" cy="27.7" r="0.48"/>
<circle cx="600.1" cy="54.1" r="0.35"/>
<circle cx="598.1" cy="57.7" r="0.40"/>
<circle cx="642.8" cy="66.4" r="0.49"/>
<circle cx="604.1" cy="70.9" r="0.35"/>
<circle cx="599.6" cy="25.8" r="0.40"/>
<circle cx="615.7" cy="44.1" r="0.37"/>
<circle cx="618.2" cy="17.1" r="0.38"/>
<circle cx="644.8" cy="59.8" r="0.37"/>
<circle cx="645.1" cy="31.5" r="0.43"/>
<circle cx="624.0" cy="81.9" r="0.33"/>
<circle cx="601.7" cy="70.2" r="0.38"/>
<circle cx="607.1" cy="34.0" r="0.37"/>
<circle cx="615.7" cy="42.2" r="0.50"/>
<circle cx="639.7" cy="70.0" r="0.56"/>
<circle cx="602.6" cy="42.8" r="0.57"/>
<circle cx="612.2" cy="48.9" r="0.43"/>
<circle cx="629.7" cy="75.4" r="0.37"/>
<circle cx="609.4" cy="42.8" r="0.39"/>
<circle cx="649.0" cy="24.9" r="0.52"/>
<circle cx="635.6" cy="29.3" r="0.47"/>
<circle cx="655.7" cy="40.2" r="0.34"/>
<circle cx="651.0" cy="31.8" r="0.42"/>
<circle cx="645.8" cy="52.5" r="0.57"/>
<circle cx="641.6" cy="49.4" r="0.33"/>
<circle cx="614.8" cy="26.4" r="0.57"/>
<circle cx="648.7" cy="65.1" r="0.58"/>
<circle cx="637.0" cy="18.9" r="0.57"/>
<circle cx="612.1" cy="20.2" r="0.53"/>
<circle cx="630.7" cy="48.3" r="0.30"/>
<circle cx="604.1" cy="39.2" r="0.45"/>
<circle cx="604.5" cy="47.6" r="0.39"/>
<circle cx="653.9" cy="53.8" r="0.40"/>
<circle cx="597.5" cy="56.0" r="0.31"/>
<circle cx="647.1" cy="38.5" r="0.46"/>
<circle cx="602.6" cy="68.1" r="0.59"/>
<circle cx="634.9" cy="25.8" r="0.49"/>
<circle cx="600.1" cy="67.8" r="0.58"/>
<circle cx="653.8" cy="28.4" r="0.57"/>
<circle cx="613.9" cy="66.0" r="0.57"/>
<circle cx="597.9" cy="31.9" r="0.47"/>
<circle cx="621.7" cy="47.3" r="0.32"/>
<circle cx="629.6" cy="72.9" r="0.48"/>
<circle cx="618.6" cy="60.5" r="0.53"/>
<circle cx="643.6" cy="67.8" r="0.60"/>
<circle cx="620.8" cy="51.2" r="0.51"/>
<circle cx="609.6" cy="27.4" r="0.57"/>
<circle cx="614.2" cy="48.1" r="0.38"/>
<circle cx="598.3" cy="54.4" r="0.49"/>
<circle cx="593.3" cy="48.3" r="0.43"/>
<circle cx="638.4" cy="70.6" r="0.57"/>
<circle cx="602.9" cy="48.8" r="0.55"/>
<circle cx="658.0" cy="48.1" r="0.51"/>
<circle cx="601.7" cy="59.2" r="0.53"/>
<circle cx="653.4" cy="50.4" r="0.47"/>
<circle cx="606.8" cy="70.1" r="0.55"/>
<circle cx="648.5" cy="29.4" r="0.39"/>
<circle cx="598.3" cy="38.2" r="0.40"/>
<circle cx="641.9" cy="58.3" r="0.55"/>
<circle cx="614.6" cy="63.3" r="0.38"/>
<circle cx="598.6" cy="49.5" r="0.56"/>
<circle cx="619.7" cy="56.6" r="0.55"/>
<circle cx="654.7" cy="60.4" r="0.43"/>
<circle cx="660.7" cy="44.2" r="0.40"/>
<circle cx="610.3" cy="74.2" r="0.32"/>
<circle cx="649.2" cy="71.4" r="0.60"/>
<circle cx="639.8" cy="30.4" r="0.44"/>
<circle cx="624.5" cy="16.4" r="0.35"/>
<circle cx="628.0" cy="53.2" r="0.48"/>
<circle cx="635.9" cy="53.6" r="0.41"/>
<circle cx="622.4" cy="56.0" r="0.49"/>
<circle cx="629.6" cy="33.0" r="0.38"/>
<circle cx="607.5" cy="60.2" r="0.55"/>
<circle cx="628.2" cy="41.7" r="0.33"/>
<circle cx="592.2" cy="37.2" r="0.53"/>
<circle cx="613.0" cy="27.2" r="0.51"/>
<circle cx="630.0" cy="60.8" r="0.57"/>
<circle cx="626.0" cy="64.5" r="0.32"/>
<circle cx="632.4" cy="20.7" r="0.31"/>
<circle cx="650.3" cy="69.4" r="0.45"/>
<circle cx="624.9" cy="72.9" r="0.40"/>
<circle cx="630.5" cy="25.3" r="0.38"/>
<circle cx="642.4" cy="46.2" r="0.38"/>
<circle cx="635.8" cy="44.0" r="0.58"/>
<circle cx="609.0" cy="45.7" r="0.56"/>
<circle cx="614.3" cy="64.8" r="0.30"/>
<circle cx="615.2" cy="41.0" r="0.45"/>
<circle cx="594.0" cy="59.2" r="0.38"/>
<circle cx="639.6" cy="65.0" r="0.44"/>
<circle cx="637.2" cy="74.5" r="0.48"/>
<circle cx="613.5" cy="16.6" r="0.40"/>
<circle cx="647.5" cy="66.0" r="0.33"/>
<circle cx="616.8" cy="19.2" r="0.49"/>
<circle cx="609.5" cy="69.1" r="0.55"/>
<circle cx="637.0" cy="26.9" r="0.52"/>
<circle cx="633.6" cy="30.6" r="0.40"/>
<circle cx="640.8" cy="26.4" r="0.59"/>
<circle cx="634.0" cy="74.1" r="0.35"/>
<circle cx="613.7" cy="77.5" r="0.34"/>
<circle cx="601.7" cy="61.4" r="0.52"/>
<circle cx="610.2" cy="47.6" r="0.59"/>
<circle cx="613.9" cy="57.7" r="0.42"/>
<circle cx="633.3" cy="58.2" r="0.39"/>
<circle cx="642.6" cy="67.7" r="0.49"/>
<circle cx="618.5" cy="68.3" r="0.56"/>
<circle cx="596.3" cy="58.5" r="0.38"/>
<circle cx="610.1" cy="29.1" r="0.53"/>
<circle cx="654.4" cy="48.8" r="0.35"/>
<circle cx="591.1" cy="38.8" r="0.45"/>
<circle cx="628.1" cy="37.4" r="0.55"/>
<circle cx="622.7" cy="67.3" r="0.32"/>
<circle cx="605.6" cy="47.1" r="0.43"/>
<circle cx="628.0" cy="50.4" r="0.37"/>
<circle cx="657.1" cy="41.8" r="0.56"/>
<circle cx="609.0" cy="66.7" r="0.57"/>
<circle cx="606.4" cy="25.1" r="0.51"/>
<circle cx="591.1" cy="43.2" r="0.38"/>
<circle cx="653.1" cy="36.3" r="0.37"/>
<circle cx="627.0" cy="27.6" r="0.54"/>
<circle cx="628.1" cy="41.4" r="0.37"/>
<circle cx="637.5" cy="52.2" r="0.44"/>
<circle cx="634.7" cy="69.6" r="0.51"/>
<circle cx="639.2" cy="42.2" r="0.60"/>
<circle cx="645.7" cy="51.4" r="0.32"/>
<circle cx="609.3" cy="68.3" r="0.53"/>
<circle cx="624.3" cy="70.3" r="0.35"/>
<circle cx="628.5" cy="14.9" r="0.50"/>
<circle cx="609.5" cy="54.2" r="0.53"/>
<circle cx="620.3" cy="75.5" r="0.41"/>
<circle cx="655.7" cy="58.8" r="0.49"/>
<circle cx="595.4" cy="45.7" r="0.47"/>
<circle cx="609.8" cy="77.7" r="0.53"/>
<circle cx="623.2" cy="19.8" r="0.32"/>
<circle cx="604.2" cy="68.5" r="0.34"/>
<circle cx="622.0" cy="80.8" r="0.44"/>
<circle cx="640.4" cy="60.8" r="0.39"/>
<circle cx="607.3" cy="28.2" r="0.52"/>
<circle cx="623.2" cy="61.7" r="0.55"/>
<circle cx="623.5" cy="24.1" r="0.44"/>
<circle cx="648.0" cy="53.1" r="0.55"/>
<circle cx="617.9" cy="17.1" r="0.36"/>
<circle cx="613.2" cy="24.2" r="0.38"/>
<circle cx="642.2" cy="35.3" r="0.38"/>
<circle cx="652.1" cy="56.3" r="0.31"/>
<circle cx="622.8" cy="55.2" r="0.58"/>
<circle cx="598.2" cy="51.2" r="0.34"/>
<circle cx="643.6" cy="67.0" r="0.32"/>
<circle cx="624.3" cy="68.2" r="0.53"/>
<circle cx="608.2" cy="28.9" r="0.38"/>
<circle cx="642.2" cy="62.6" r="0.39"/>
<circle cx="608.0" cy="19.0" r="0.40"/>
<circle cx="649.4" cy="34.3" r="0.54"/>
<circle cx="639.7" cy="69.0" r="0.32"/>
<circle cx="629.4" cy="40.4" r="0.53"/>
<circle cx="620.2" cy="20.6" r="0.34"/>
<circle cx="652.5" cy="50.1" r="0.31"/>
<circle cx="653.4" cy="49.8" r="0.42"/>
<circle cx="639.8" cy="33.9" r="0.41"/>
<circle cx="618.4" cy="34.7" r="0.35"/>
<circle cx="656.6" cy="32.9" r="0.60"/>
<circle cx="637.1" cy="72.8" r="0.36"/>
<circle cx="597.2" cy="59.3" r="0.51"/>
<circle cx="610.4" cy="42.1" r="0.56"/>
<circle cx="635.0" cy="32.9" r="0.34"/>
<circle cx="653.5" cy="55.8" r="0.37"/>
<circle cx="628.4" cy="57.2" r="0.46"/>
<circle cx="637.8" cy="20.4" r="0.57"/>
<circle cx="641.7" cy="42.1" r="0.43"/>
<circle cx="620.3" cy="21.3" r="0.38"/>
<circle cx="607.8" cy="55.6" r="0.40"/>
<circle cx="645.7" cy="27.0" r="0.50"/>
<circle cx="627.6" cy="41.4" r="0.53"/>
<circle cx="638.7" cy="79.8" r="0.58"/>
<circle cx="604.1" cy="41.3" r="0.36"/>
<circle cx="609.5" cy="56.6" r="0.47"/>
<circle cx="608.2" cy="43.0" r="0.43"/>
<circle cx="615.2" cy="35.9" r="0.40"/>
<circle cx="625.7" cy="55.1" r="0.43"/>
<circle cx="650.9" cy="59.7" r="0.57"/>
<circle cx="634.8" cy="45.5" r="0.31"/>
<circle cx="615.1" cy="64.8" r="0.50"/>
<circle cx="628.1" cy="58.4" r="0.55"/>
<circle cx="657.5" cy="59.8" r="0.33"/>
<circle cx="611.8" cy="63.7" r="0.50"/>
<circle cx="602.3" cy="23.9" r="0.40"/>
<circle cx="640.8" cy="54.8" r="0.32"/>
<circle cx="647.3" cy="24.9" r="0.41"/>
<circle cx="636.2" cy="36.5" r="0.37"/>
<circle cx="642.7" cy="34.6" r="0.31"/>
<circle cx="632.0" cy="67.8" r="0.43"/>
<circle cx="658.7" cy="40.1" r="0.53"/>
<circle cx="601.8" cy="70.5" r="0.52"/>
<circle cx="650.5" cy="32.2" r="0.41"/>
<circle cx="637.5" cy="77.7" r="0.48"/>
<circle cx="624.0" cy="15.6" r="0.53"/>
<circle cx="614.7" cy="59.0" r="0.47"/>
<circle cx="627.7" cy="79.0" r="0.46"/>
<circle cx="613.7" cy="21.4" r="0.38"/>
<circle cx="618.1" cy="56.8" r="0.36"/>
<circle cx="598.8" cy="44.4" r="0.31"/>
<circle cx="655.1" cy="31.8" r="0.36"/>
<circle cx="643.3" cy="44.0" r="0.31"/>
<circle cx="615.8" cy="58.8" r="0.55"/>
<circle cx="616.9" cy="47.2" r="0.53"/>
<circle cx="598.8" cy="58.2" r="0.50"/>
<circle cx="595.3" cy="51.5" r="0.38"/>
<circle cx="635.1" cy="23.2" r="0.33"/>
<circle cx="600.2" cy="61.9" r="0.35"/>
<circle cx="643.9" cy="56.8" r="0.55"/>
<circle cx="600.7" cy="58.6" r="0.56"/>
<circle cx="599.4" cy="67.4" r="0.31"/>
<circle cx="628.3" cy="74.5" r="0.48"/>
<circle cx="628.7" cy="38.4" r="0.56"/>
<circle cx="631.7" cy="35.5" r="0.33"/>
<circle cx="612.8" cy="43.6" r="0.37"/>
<circle cx="609.9" cy="64.1" r="0.53"/>
<circle cx="648.9" cy="28.8" r="0.37"/>
<circle cx="634.3" cy="33.5" r="0.42"/>
<circle cx="613.2" cy="48.3" r="0.37"/>
<circle cx="601.8" cy="63.8" r="0.35"/>
<circle cx="649.4" cy="30.0" r="0.35"/>
<circle cx="608.8" cy="48.6" r="0.35"/>
<circle cx="593.0" cy="61.6" r="0.32"/>
<circle cx="628.5" cy="63.5" r="0.38"/>
<circle cx="645.6" cy="30.4" r="0.42"/>
<circle cx="650.9" cy="41.9" r="0.45"/>
<circle cx="640.6" cy="33.5" r="0.50"/>
<circle cx="634.4" cy="28.5" r="0.37"/>
<circle cx="626.4" cy="59.3" r="0.40"/>
<circle cx="624.5" cy="80.0" r="0.32"/>
<circle cx="629.0" cy="38.0" r="0.45"/>
<circle cx="607.7" cy="77.2" r="0.34"/>
<circle cx="625.5" cy="34.1" r="0.45"/>
<circle cx="656.5" cy="38.7" r="0.45"/>
<circle cx="631.6" cy="40.3" r="0.56"/>
<circle cx="598.7" cy="43.5" r="0.53"/>
<circle cx="646.5" cy="51.2" r="0.59"/>
<circle cx="612.3" cy="68.3" r="0.56"/>
<circle cx="593.6" cy="60.6" r="0.52"/>
<circle cx="589.7" cy="45.0" r="0.45"/>
<circle cx="648.5" cy="73.0" r="0.51"/>
<circle cx="618.0" cy="62.3" r="0.53"/>
<circle cx="633.9" cy="43.9" r="0.52"/>
<circle cx="644.9" cy="21.7" r="0.48"/>
<circle cx="644.0" cy="60.8" r="0.57"/>
<circle cx="611.9" cy="75.7" r="0.39"/>
<circle cx="608.4" cy="77.9" r="0.35"/>
<circle cx="620.8" cy="32.9" r="0.54"/>
<circle cx="617.3" cy="32.7" r="0.48"/>
<circle cx="640.5" cy="72.3" r="0.53"/>
<circle cx="634.4" cy="55.3" r="0.48"/>
<circle cx="612.7" cy="18.6" r="0.56"/>
<circle cx="609.1" cy="21.2" r="0.58"/>
<circle cx="643.7" cy="20.0" r="0.34"/>
<circle cx="607.1" cy="54.3" r="0.46"/>
<circle cx="644.2" cy="33.9" r="0.49"/>
<circle cx="659.6" cy="46.4" r="0.31"/>
<circle cx="644.4" cy="46.8" r="0.33"/>
<circle cx="635.6" cy="67.1" r="0.50"/>
<circle cx="641.6" cy="31.6" r="0.59"/>
<circle cx="612.8" cy="78.2" r="0.49"/>
<circle cx="593.8" cy="64.4" r="0.43"/>
<circle cx="593.2" cy="34.0" r="0.30"/>
<circle cx="643.6" cy="67.2" r="0.31"/>
<circle cx="626.3" cy="16.8" r="0.42"/>
<circle cx="631.9" cy="80.8" r="0.31"/>
<circle cx="616.8" cy="49.2" r="0.38"/>
<circle cx="653.9" cy="43.4" r="0.44"/>
<circle cx="649.9" cy="69.0" r="0.52"/>
<circle cx="635.4" cy="36.4" r="0.46"/>
<circle cx="608.7" cy="61.6" r="0.37"/>
<circle cx="595.0" cy="51.2" r="0.34"/>
<circle cx="611.6" cy="60.9" r="0.38"/>
<circle cx="611.7" cy="44.4" r="0.51"/>
<circle cx="624.5" cy="46.6" r="0.36"/>
<circle cx="634.5" cy="26.2" r="0.39"/>
<circle cx="653.1" cy="65.2" r="0.39"/>
<circle cx="626.2" cy="49.8" r="0.51"/>
<circle cx="629.7" cy="16.2" r="0.37"/>
<circle cx="606.7" cy="29.0" r="0.38"/>
<circle cx="631.2" cy="42.0" r="0.58"/>
<circle cx="641.8" cy="60.8" r="0.54"/>
<circle cx="640.3" cy="53.2" r="0.60"/>
<circle cx="626.4" cy="63.8" r="0.50"/>
<circle cx="607.0" cy="25.6" r="0.35"/>
<circle cx="602.5" cy="72.5" r="0.36"/>
<circle cx="629.7" cy="78.5" r="0.43"/>
<circle cx="607.2" cy="51.4" r="0.53"/>
<circle cx="638.0" cy="48.6" r="0.45"/>
<circle cx="593.8" cy="57.9" r="0.41"/>
<circle cx="649.6" cy="59.6" r="0.36"/>
<circle cx="630.8" cy="59.2" r="0.38"/>
<circle cx="638.3" cy="41.8" r="0.31"/>
<circle cx="641.9" cy="55.5" r="0.48"/>
<circle cx="593.3" cy="38.6" r="0.42"/>
<circle cx="599.5" cy="31.3" r="0.51"/>
<circle cx="623.4" cy="77.4" r="0.32"/>
<circle cx="630.3" cy="66.6" r="0.52"/>
<circle cx="655.5" cy="60.9" r="0.47"/>
<circle cx="600.5" cy="56.9" r="0.37"/>
<circle cx="636.3" cy="16.4" r="0.53"/>
<circle cx="654.3" cy="34.6" r="0.57"/>
<circle cx="609.8" cy="22.4" r="0.31"/>
<circle cx="615.2" cy="65.3" r="0.53"/>
<circle cx="624.4" cy="42.6" r="0.43"/>
<circle cx="617.1" cy="56.2" r="0.38"/>
<circle cx="623.8" cy="76.4" r="0.37"/>
<circle cx="599.5" cy="67.0" r="0.53"/>
<circle cx="615.9" cy="57.5" r="0.35"/>
<circle cx="607.5" cy="48.1" r="0.56"/>
<circle cx="643.1" cy="31.4" r="0.40"/>
<circle cx="630.0" cy="41.3" r="0.39"/>
<circle cx="617.1" cy="32.0" r="0.60"/>
<circle cx="599.3" cy="46.5" r="0.37"/>
<circle cx="619.6" cy="55.4" r="0.36"/>
<circle cx="643.2" cy="66.9" r="0.38"/>
<circle cx="643.8" cy="51.4" r="0.54"/>
<circle cx="619.6" cy="29.0" r="0.52"/>
<circle cx="595.2" cy="44.8" r="0.36"/>
<circle cx="610.7" cy="71.2" r="0.38"/>
<circle cx="649.6" cy="27.9" r="0.56"/>
<circle cx="598.9" cy="28.2" r="0.55"/>
<circle cx="647.9" cy="32.4" r="0.36"/>
<circle cx="638.1" cy="56.6" r="0.42"/>
<circle cx="593.1" cy="34.5" r="0.39"/>
<circle cx="613.0" cy="73.1" r="0.48"/>
<circle cx="618.7" cy="20.3" r="0.48"/>
<circle cx="635.3" cy="68.1" r="0.33"/>
<circle cx="618.3" cy="57.1" r="0.55"/>
<circle cx="636.5" cy="78.4" r="0.52"/>
<circle cx="610.0" cy="63.2" r="0.57"/>
<circle cx="599.5" cy="39.8" r="0.58"/>
<circle cx="619.8" cy="66.1" r="0.33"/>
<circle cx="620.7" cy="30.8" r="0.32"/>
<circle cx="639.3" cy="68.7" r="0.45"/>
<circle cx="620.9" cy="42.2" r="0.44"/>
<circle cx="627.7" cy="80.1" r="0.34"/>
<circle cx="614.6" cy="72.3" r="0.58"/>
<circle cx="643.5" cy="27.4" r="0.48"/>
<circle cx="625.1" cy="76.9" r="0.46"/>
<circle cx="616.9" cy="35.2" r="0.43"/>
<circle cx="597.1" cy="29.9" r="0.52"/>
<circle cx="636.9" cy="47.5" r="0.53"/>
<circle cx="618.1" cy="33.0" r="0.51"/>
<circle cx="620.2" cy="67.8" r="0.32"/>
<circle cx="618.1" cy="58.7" r="0.38"/>
<circle cx="636.9" cy="38.0" r="0.36"/>
<circle cx="642.4" cy="62.1" r="0.42"/>
<circle cx="628.4" cy="56.8" r="0.56"/>
<circle cx="606.0" cy="30.0" r="0.46"/>
<circle cx="640.4" cy="70.7" r="0.31"/>
<circle cx="629.1" cy="73.8" r="0.30"/>
<circle cx="600.4" cy="28.0" r="0.53"/>
<circle cx="632.2" cy="65.7" r="0.53"/>
<circle cx="621.4" cy="62.8" r="0.58"/>
<circle cx="631.7" cy="21.6" r="0.55"/>
<circle cx="634.2" cy="55.9" r="0.38"/>
<circle cx="652.6" cy="29.1" r="0.33"/>
<circle cx="649.8" cy="56.9" r="0.44"/>
<circle cx="594.6" cy="58.6" r="0.38"/>
<circle cx="628.1" cy="34.1" r="0.45"/>
<circle cx="626.7" cy="54.1" r="0.33"/>
<circle cx="640.0" cy="66.7" r="0.42"/>
<circle cx="638.9" cy="48.5" r="0.52"/>
<circle cx="623.5" cy="41.9" r="0.33"/>
<circle cx="596.6" cy="35.8" r="0.53"/>
<circle cx="622.8" cy="26.0" r="0.41"/>
<circle cx="621.6" cy="76.0" r="0.34"/>
<circle cx="652.6" cy="37.6" r="0.48"/>
<circle cx="629.4" cy="64.3" r="0.36"/>
</g>
<g fill="#63629a" filter="url(#bl05)">
<circle cx="595.3" cy="58.3" r="0.39"/>
<circle cx="599.3" cy="30.9" r="0.36"/>
<circle cx="653.7" cy="64.6" r="0.34"/>
<circle cx="604.4" cy="28.0" r="0.42"/>
<circle cx="611.2" cy="78.2" r="0.35"/>
<circle cx="648.8" cy="29.0" r="0.36"/>
<circle cx="590.9" cy="50.3" r="0.47"/>
<circle cx="640.2" cy="78.3" r="0.36"/>
<circle cx="636.6" cy="18.5" r="0.58"/>
<circle cx="657.1" cy="39.8" r="0.50"/>
<circle cx="640.2" cy="19.1" r="0.40"/>
<circle cx="638.4" cy="20.2" r="0.49"/>
<circle cx="602.8" cy="71.4" r="0.43"/>
<circle cx="628.5" cy="79.7" r="0.37"/>
<circle cx="592.8" cy="58.8" r="0.51"/>
<circle cx="654.4" cy="66.7" r="0.33"/>
<circle cx="629.9" cy="76.4" r="0.56"/>
<circle cx="615.5" cy="75.4" r="0.40"/>
<circle cx="605.2" cy="25.9" r="0.31"/>
<circle cx="604.6" cy="73.0" r="0.53"/>
<circle cx="656.4" cy="34.0" r="0.46"/>
<circle cx="626.2" cy="78.3" r="0.57"/>
<circle cx="603.2" cy="25.8" r="0.54"/>
<circle cx="601.4" cy="68.3" r="0.47"/>
<circle cx="644.0" cy="75.5" r="0.53"/>
<circle cx="616.4" cy="79.0" r="0.41"/>
<circle cx="640.6" cy="72.7" r="0.40"/>
<circle cx="606.8" cy="75.8" r="0.47"/>
<circle cx="656.0" cy="35.6" r="0.38"/>
<circle cx="594.1" cy="62.3" r="0.37"/>
<circle cx="640.1" cy="74.0" r="0.51"/>
<circle cx="659.2" cy="43.5" r="0.56"/>
<circle cx="621.4" cy="81.3" r="0.40"/>
<circle cx="609.4" cy="74.2" r="0.57"/>
<circle cx="609.4" cy="77.1" r="0.37"/>
<circle cx="624.2" cy="15.7" r="0.44"/>
<circle cx="612.3" cy="18.7" r="0.37"/>
<circle cx="604.4" cy="26.7" r="0.32"/>
<circle cx="653.9" cy="63.3" r="0.33"/>
<circle cx="595.8" cy="62.7" r="0.41"/>
<circle cx="627.4" cy="19.6" r="0.53"/>
<circle cx="614.6" cy="21.4" r="0.43"/>
<circle cx="658.4" cy="50.1" r="0.36"/>
<circle cx="654.0" cy="41.1" r="0.48"/>
<circle cx="598.5" cy="64.8" r="0.54"/>
<circle cx="595.2" cy="62.3" r="0.56"/>
<circle cx="646.9" cy="24.1" r="0.59"/>
<circle cx="653.0" cy="33.4" r="0.34"/>
<circle cx="647.3" cy="68.4" r="0.50"/>
<circle cx="593.5" cy="43.4" r="0.35"/>
<circle cx="600.2" cy="65.9" r="0.32"/>
<circle cx="594.8" cy="51.2" r="0.40"/>
<circle cx="596.2" cy="60.7" r="0.36"/>
<circle cx="624.8" cy="15.6" r="0.48"/>
<circle cx="655.8" cy="33.4" r="0.31"/>
<circle cx="617.4" cy="16.3" r="0.38"/>
<circle cx="621.2" cy="17.9" r="0.59"/>
<circle cx="591.0" cy="46.8" r="0.44"/>
<circle cx="655.7" cy="59.2" r="0.42"/>
<circle cx="654.0" cy="60.3" r="0.36"/>
<circle cx="653.4" cy="29.7" r="0.46"/>
<circle cx="651.7" cy="31.9" r="0.50"/>
<circle cx="610.9" cy="18.4" r="0.51"/>
<circle cx="619.0" cy="78.8" r="0.54"/>
<circle cx="632.1" cy="20.0" r="0.58"/>
<circle cx="592.0" cy="42.2" r="0.59"/>
<circle cx="640.1" cy="23.4" r="0.44"/>
<circle cx="649.6" cy="66.4" r="0.33"/>
<circle cx="626.2" cy="77.1" r="0.52"/>
<circle cx="657.8" cy="41.0" r="0.55"/>
<circle cx="603.6" cy="26.0" r="0.43"/>
<circle cx="658.3" cy="55.0" r="0.34"/>
<circle cx="649.1" cy="29.8" r="0.44"/>
<circle cx="602.7" cy="27.1" r="0.43"/>
<circle cx="659.3" cy="48.1" r="0.35"/>
<circle cx="607.8" cy="21.4" r="0.39"/>
<circle cx="650.0" cy="68.6" r="0.42"/>
<circle cx="595.1" cy="61.7" r="0.33"/>
<circle cx="595.7" cy="32.3" r="0.54"/>
<circle cx="618.3" cy="20.5" r="0.39"/>
<circle cx="608.8" cy="77.9" r="0.56"/>
<circle cx="596.5" cy="38.2" r="0.51"/>
<circle cx="656.5" cy="33.9" r="0.57"/>
<circle cx="625.8" cy="81.8" r="0.51"/>
<circle cx="634.7" cy="21.2" r="0.58"/>
<circle cx="652.3" cy="30.1" r="0.50"/>
<circle cx="596.6" cy="36.5" r="0.54"/>
<circle cx="620.0" cy="17.3" r="0.48"/>
<circle cx="637.6" cy="20.6" r="0.53"/>
<circle cx="616.1" cy="17.0" r="0.43"/>
<circle cx="654.6" cy="39.9" r="0.46"/>
<circle cx="590.5" cy="47.6" r="0.50"/>
<circle cx="612.0" cy="74.6" r="0.45"/>
<circle cx="602.9" cy="69.4" r="0.41"/>
<circle cx="601.2" cy="26.8" r="0.33"/>
<circle cx="651.3" cy="68.8" r="0.44"/>
<circle cx="637.8" cy="22.2" r="0.56"/>
<circle cx="620.0" cy="17.7" r="0.58"/>
<circle cx="641.6" cy="75.6" r="0.60"/>
<circle cx="644.6" cy="71.5" r="0.52"/>
<circle cx="624.3" cy="80.5" r="0.30"/>
<circle cx="650.7" cy="68.5" r="0.39"/>
<circle cx="625.0" cy="17.1" r="0.47"/>
<circle cx="655.9" cy="56.6" r="0.33"/>
<circle cx="596.6" cy="60.2" r="0.36"/>
<circle cx="619.5" cy="81.1" r="0.38"/>
<circle cx="639.9" cy="23.6" r="0.49"/>
<circle cx="598.1" cy="64.2" r="0.35"/>
<circle cx="613.7" cy="21.2" r="0.42"/>
<circle cx="609.5" cy="75.4" r="0.36"/>
<circle cx="640.4" cy="77.5" r="0.49"/>
<circle cx="631.6" cy="17.3" r="0.39"/>
<circle cx="656.3" cy="39.1" r="0.30"/>
<circle cx="600.2" cy="27.3" r="0.31"/>
<circle cx="612.4" cy="21.2" r="0.35"/>
<circle cx="591.7" cy="49.9" r="0.55"/>
<circle cx="654.4" cy="35.9" r="0.34"/>
<circle cx="618.2" cy="19.3" r="0.49"/>
<circle cx="595.4" cy="37.3" r="0.49"/>
<circle cx="616.0" cy="16.9" r="0.47"/>
<circle cx="602.0" cy="70.5" r="0.59"/>
<circle cx="609.6" cy="72.4" r="0.32"/>
<circle cx="640.6" cy="18.9" r="0.44"/>
<circle cx="645.8" cy="70.7" r="0.45"/>
<circle cx="626.2" cy="17.4" r="0.55"/>
<circle cx="656.5" cy="46.1" r="0.41"/>
<circle cx="657.0" cy="62.4" r="0.58"/>
<circle cx="598.8" cy="69.9" r="0.54"/>
<circle cx="628.8" cy="16.9" r="0.51"/>
<circle cx="596.0" cy="39.1" r="0.42"/>
<circle cx="610.0" cy="76.3" r="0.37"/>
<circle cx="645.1" cy="25.3" r="0.33"/>
<circle cx="591.0" cy="55.1" r="0.49"/>
<circle cx="609.5" cy="72.7" r="0.32"/>
<circle cx="651.4" cy="69.7" r="0.48"/>
<circle cx="603.3" cy="29.7" r="0.42"/>
<circle cx="624.7" cy="80.7" r="0.42"/>
<circle cx="627.8" cy="81.7" r="0.31"/>
<circle cx="652.8" cy="66.4" r="0.57"/>
<circle cx="611.1" cy="75.0" r="0.35"/>
<circle cx="593.2" cy="56.4" r="0.43"/>
<circle cx="656.5" cy="50.3" r="0.49"/>
<circle cx="615.3" cy="78.8" r="0.59"/>
<circle cx="593.2" cy="61.8" r="0.31"/>
<circle cx="621.9" cy="76.8" r="0.54"/>
<circle cx="605.3" cy="71.2" r="0.36"/>
<circle cx="623.4" cy="20.6" r="0.51"/>
<circle cx="655.3" cy="65.1" r="0.49"/>
<circle cx="596.0" cy="53.5" r="0.30"/>
<circle cx="596.7" cy="65.3" r="0.50"/>
<circle cx="595.7" cy="40.1" r="0.53"/>
<circle cx="601.3" cy="25.9" r="0.56"/>
<circle cx="650.0" cy="31.5" r="0.51"/>
<circle cx="634.6" cy="18.5" r="0.44"/>
<circle cx="596.3" cy="41.6" r="0.51"/>
<circle cx="636.4" cy="17.8" r="0.41"/>
<circle cx="651.1" cy="30.9" r="0.55"/>
<circle cx="638.3" cy="21.0" r="0.50"/>
<circle cx="593.5" cy="36.3" r="0.30"/>
<circle cx="647.4" cy="74.4" r="0.55"/>
<circle cx="658.5" cy="48.3" r="0.60"/>
<circle cx="625.0" cy="19.7" r="0.51"/>
<circle cx="656.4" cy="33.9" r="0.49"/>
<circle cx="654.5" cy="31.7" r="0.31"/>
<circle cx="634.7" cy="80.3" r="0.59"/>
<circle cx="609.1" cy="72.4" r="0.53"/>
<circle cx="592.3" cy="59.5" r="0.55"/>
<circle cx="650.2" cy="68.4" r="0.45"/>
<circle cx="659.8" cy="50.6" r="0.43"/>
<circle cx="599.2" cy="65.6" r="0.53"/>
<circle cx="654.8" cy="40.9" r="0.55"/>
<circle cx="595.4" cy="36.6" r="0.31"/>
<circle cx="627.7" cy="81.1" r="0.55"/>
<circle cx="591.8" cy="46.9" r="0.37"/>
<circle cx="635.3" cy="18.0" r="0.57"/>
<circle cx="595.0" cy="50.7" r="0.52"/>
<circle cx="646.0" cy="23.6" r="0.51"/>
<circle cx="634.8" cy="18.7" r="0.34"/>
<circle cx="657.2" cy="50.4" r="0.55"/>
<circle cx="614.9" cy="77.8" r="0.41"/>
<circle cx="599.4" cy="31.6" r="0.39"/>
<circle cx="595.0" cy="42.4" r="0.58"/>
<circle cx="654.6" cy="37.5" r="0.37"/>
<circle cx="627.1" cy="18.4" r="0.54"/>
<circle cx="658.7" cy="53.7" r="0.49"/>
<circle cx="645.4" cy="27.8" r="0.33"/>
<circle cx="645.4" cy="22.7" r="0.37"/>
<circle cx="599.2" cy="27.8" r="0.44"/>
<circle cx="610.9" cy="23.6" r="0.33"/>
<circle cx="657.5" cy="43.5" r="0.32"/>
<circle cx="636.3" cy="75.1" r="0.51"/>
<circle cx="652.5" cy="63.8" r="0.41"/>
<circle cx="656.1" cy="43.7" r="0.38"/>
<circle cx="591.6" cy="50.4" r="0.59"/>
<circle cx="599.1" cy="35.0" r="0.55"/>
<circle cx="653.4" cy="63.1" r="0.40"/>
<circle cx="639.4" cy="21.6" r="0.44"/>
<circle cx="656.3" cy="49.2" r="0.60"/>
<circle cx="654.3" cy="55.2" r="0.49"/>
<circle cx="596.9" cy="37.6" r="0.35"/>
<circle cx="601.3" cy="30.5" r="0.40"/>
<circle cx="635.2" cy="79.6" r="0.54"/>
<circle cx="643.9" cy="24.0" r="0.42"/>
<circle cx="594.8" cy="50.1" r="0.59"/>
<circle cx="629.9" cy="80.5" r="0.50"/>
<circle cx="646.5" cy="74.2" r="0.50"/>
<circle cx="631.6" cy="77.4" r="0.44"/>
<circle cx="622.6" cy="16.5" r="0.57"/>
<circle cx="597.9" cy="63.5" r="0.50"/>
<circle cx="594.4" cy="54.8" r="0.58"/>
<circle cx="646.6" cy="28.5" r="0.39"/>
<circle cx="655.9" cy="54.3" r="0.32"/>
<circle cx="652.4" cy="32.6" r="0.35"/>
<circle cx="609.3" cy="76.0" r="0.38"/>
<circle cx="653.2" cy="60.0" r="0.45"/>
<circle cx="622.4" cy="78.4" r="0.43"/>
<circle cx="643.9" cy="25.3" r="0.36"/>
<circle cx="592.3" cy="53.2" r="0.50"/>
<circle cx="623.2" cy="80.8" r="0.30"/>
<circle cx="611.5" cy="22.7" r="0.36"/>
<circle cx="651.1" cy="70.8" r="0.42"/>
<circle cx="658.3" cy="38.6" r="0.40"/>
<circle cx="632.9" cy="20.6" r="0.46"/>
<circle cx="656.9" cy="38.0" r="0.53"/>
<circle cx="627.1" cy="20.5" r="0.55"/>
<circle cx="651.0" cy="66.7" r="0.51"/>
<circle cx="609.7" cy="20.6" r="0.59"/>
<circle cx="612.1" cy="74.0" r="0.53"/>
<circle cx="594.1" cy="63.6" r="0.46"/>
<circle cx="622.3" cy="80.2" r="0.40"/>
<circle cx="650.5" cy="31.4" r="0.47"/>
<circle cx="634.3" cy="80.0" r="0.39"/>
<circle cx="639.9" cy="73.3" r="0.58"/>
<circle cx="650.3" cy="30.1" r="0.33"/>
<circle cx="631.8" cy="78.9" r="0.32"/>
<circle cx="640.2" cy="73.1" r="0.48"/>
<circle cx="644.6" cy="71.7" r="0.57"/>
<circle cx="596.2" cy="38.8" r="0.52"/>
<circle cx="638.2" cy="18.9" r="0.58"/>
<circle cx="617.2" cy="78.8" r="0.42"/>
<circle cx="636.5" cy="21.9" r="0.59"/>
<circle cx="650.6" cy="31.6" r="0.45"/>
<circle cx="595.3" cy="37.1" r="0.43"/>
<circle cx="650.6" cy="71.1" r="0.49"/>
<circle cx="655.2" cy="33.6" r="0.37"/>
<circle cx="631.5" cy="76.9" r="0.39"/>
<circle cx="627.7" cy="79.5" r="0.35"/>
<circle cx="592.7" cy="55.5" r="0.54"/>
<circle cx="593.4" cy="61.5" r="0.40"/>
<circle cx="630.6" cy="16.8" r="0.58"/>
</g>
<g fill="#808494" filter="url(#bl05)">
<circle cx="635.9" cy="25.8" r="0.54"/>
<circle cx="624.4" cy="30.6" r="0.53"/>
<circle cx="605.6" cy="58.1" r="0.44"/>
<circle cx="601.2" cy="42.1" r="0.59"/>
<circle cx="634.5" cy="20.7" r="0.47"/>
<circle cx="627.4" cy="81.8" r="0.36"/>
<circle cx="625.0" cy="16.8" r="0.31"/>
<circle cx="615.1" cy="20.6" r="0.44"/>
<circle cx="621.8" cy="67.7" r="0.59"/>
<circle cx="627.5" cy="43.8" r="0.31"/>
<circle cx="646.4" cy="50.8" r="0.51"/>
<circle cx="595.3" cy="53.2" r="0.49"/>
<circle cx="628.8" cy="45.1" r="0.35"/>
<circle cx="602.7" cy="61.8" r="0.49"/>
<circle cx="590.8" cy="45.4" r="0.36"/>
<circle cx="622.6" cy="65.2" r="0.43"/>
<circle cx="659.3" cy="45.6" r="0.50"/>
<circle cx="657.2" cy="46.4" r="0.36"/>
<circle cx="638.8" cy="42.9" r="0.55"/>
<circle cx="604.1" cy="73.6" r="0.40"/>
<circle cx="651.1" cy="71.4" r="0.48"/>
<circle cx="645.4" cy="52.3" r="0.56"/>
<circle cx="611.1" cy="26.2" r="0.48"/>
<circle cx="617.9" cy="56.9" r="0.33"/>
<circle cx="614.4" cy="35.6" r="0.52"/>
<circle cx="615.2" cy="39.0" r="0.31"/>
<circle cx="627.4" cy="20.2" r="0.40"/>
<circle cx="613.0" cy="77.9" r="0.47"/>
<circle cx="614.3" cy="37.1" r="0.50"/>
<circle cx="614.7" cy="35.2" r="0.39"/>
<circle cx="629.0" cy="30.5" r="0.59"/>
<circle cx="660.1" cy="45.3" r="0.31"/>
<circle cx="634.2" cy="58.0" r="0.36"/>
<circle cx="643.3" cy="27.8" r="0.45"/>
<circle cx="592.7" cy="52.9" r="0.31"/>
<circle cx="648.0" cy="37.9" r="0.40"/>
<circle cx="633.9" cy="24.8" r="0.54"/>
<circle cx="628.2" cy="70.9" r="0.46"/>
<circle cx="614.2" cy="66.6" r="0.54"/>
<circle cx="623.6" cy="59.4" r="0.32"/>
<circle cx="635.8" cy="72.3" r="0.50"/>
<circle cx="653.9" cy="31.5" r="0.54"/>
<circle cx="607.2" cy="77.5" r="0.59"/>
<circle cx="638.4" cy="65.6" r="0.59"/>
<circle cx="641.0" cy="56.9" r="0.46"/>
<circle cx="627.8" cy="52.5" r="0.39"/>
<circle cx="617.1" cy="43.1" r="0.54"/>
<circle cx="621.3" cy="21.4" r="0.42"/>
<circle cx="634.7" cy="70.1" r="0.53"/>
<circle cx="629.4" cy="36.2" r="0.46"/>
<circle cx="636.9" cy="26.0" r="0.41"/>
<circle cx="634.6" cy="36.8" r="0.30"/>
<circle cx="610.9" cy="60.6" r="0.44"/>
<circle cx="601.9" cy="61.0" r="0.32"/>
<circle cx="624.2" cy="34.0" r="0.30"/>
<circle cx="611.0" cy="34.5" r="0.38"/>
<circle cx="622.1" cy="45.0" r="0.49"/>
<circle cx="609.6" cy="18.4" r="0.55"/>
<circle cx="610.7" cy="63.5" r="0.50"/>
<circle cx="597.4" cy="54.6" r="0.55"/>
<circle cx="594.2" cy="49.4" r="0.32"/>
<circle cx="639.7" cy="54.5" r="0.41"/>
<circle cx="623.1" cy="64.4" r="0.52"/>
<circle cx="594.7" cy="60.7" r="0.36"/>
<circle cx="642.6" cy="20.8" r="0.54"/>
<circle cx="629.2" cy="82.0" r="0.52"/>
<circle cx="650.8" cy="48.7" r="0.35"/>
<circle cx="647.7" cy="35.6" r="0.38"/>
<circle cx="634.6" cy="35.4" r="0.53"/>
<circle cx="622.8" cy="57.7" r="0.47"/>
<circle cx="592.1" cy="49.4" r="0.44"/>
<circle cx="628.4" cy="27.9" r="0.57"/>
<circle cx="642.6" cy="41.7" r="0.40"/>
<circle cx="635.2" cy="39.9" r="0.31"/>
<circle cx="624.4" cy="21.3" r="0.31"/>
<circle cx="616.6" cy="56.4" r="0.35"/>
<circle cx="651.2" cy="34.6" r="0.45"/>
<circle cx="647.3" cy="63.6" r="0.34"/>
<circle cx="642.0" cy="30.4" r="0.37"/>
<circle cx="616.6" cy="48.2" r="0.32"/>
<circle cx="622.0" cy="15.9" r="0.38"/>
<circle cx="595.7" cy="63.4" r="0.39"/>
<circle cx="608.5" cy="20.5" r="0.58"/>
<circle cx="650.4" cy="72.4" r="0.53"/>
<circle cx="619.1" cy="33.4" r="0.34"/>
<circle cx="607.8" cy="49.6" r="0.33"/>
<circle cx="622.3" cy="19.2" r="0.55"/>
<circle cx="625.4" cy="63.3" r="0.33"/>
<circle cx="623.3" cy="60.8" r="0.31"/>
<circle cx="591.9" cy="49.1" r="0.57"/>
<circle cx="629.4" cy="66.0" r="0.57"/>
<circle cx="610.9" cy="58.0" r="0.49"/>
<circle cx="600.8" cy="60.2" r="0.53"/>
<circle cx="605.0" cy="64.8" r="0.31"/>
<circle cx="628.7" cy="80.7" r="0.49"/>
<circle cx="633.8" cy="21.2" r="0.51"/>
<circle cx="630.7" cy="76.2" r="0.45"/>
<circle cx="607.2" cy="74.4" r="0.53"/>
<circle cx="600.1" cy="38.9" r="0.50"/>
<circle cx="595.6" cy="47.5" r="0.30"/>
<circle cx="616.8" cy="53.1" r="0.33"/>
<circle cx="601.7" cy="67.5" r="0.51"/>
<circle cx="622.0" cy="22.5" r="0.48"/>
<circle cx="606.7" cy="25.9" r="0.43"/>
<circle cx="598.0" cy="35.4" r="0.46"/>
<circle cx="646.9" cy="43.8" r="0.42"/>
<circle cx="638.7" cy="80.1" r="0.31"/>
<circle cx="624.4" cy="68.7" r="0.51"/>
<circle cx="608.8" cy="72.6" r="0.42"/>
<circle cx="613.3" cy="44.9" r="0.51"/>
<circle cx="646.2" cy="40.4" r="0.30"/>
<circle cx="647.3" cy="31.1" r="0.58"/>
<circle cx="624.4" cy="73.5" r="0.46"/>
<circle cx="644.6" cy="53.5" r="0.38"/>
<circle cx="636.6" cy="79.4" r="0.51"/>
<circle cx="609.2" cy="42.5" r="0.51"/>
<circle cx="590.6" cy="53.8" r="0.49"/>
<circle cx="621.5" cy="53.1" r="0.43"/>
<circle cx="641.1" cy="22.9" r="0.49"/>
<circle cx="647.5" cy="34.7" r="0.50"/>
</g>
</g>
<ellipse cx="625.3" cy="48.6" rx="36.5" ry="34.6" fill="none" stroke="#666a76" stroke-opacity="0.8" stroke-width="0.9"/>
<line x1="561.30" y1="164.65" x2="561.30" y2="93.50" stroke="#222" stroke-width="1.3"/>
<line x1="557.20" y1="164.00" x2="561.30" y2="164.00" stroke="#222" stroke-width="1.3"/>
<text x="555.10" y="166.23" font-size="6.2" font-weight="bold" text-anchor="end" fill="#1a1a1a" stroke="#1a1a1a" stroke-width="0.22" textLength="4" lengthAdjust="spacingAndGlyphs">0</text>
<line x1="557.20" y1="140.50" x2="561.30" y2="140.50" stroke="#222" stroke-width="1.3"/>
<text x="555.10" y="142.73" font-size="6.2" font-weight="bold" text-anchor="end" fill="#1a1a1a" stroke="#1a1a1a" stroke-width="0.22" textLength="12" lengthAdjust="spacingAndGlyphs">500</text>
<line x1="557.20" y1="117.00" x2="561.30" y2="117.00" stroke="#222" stroke-width="1.3"/>
<text x="555.10" y="119.23" font-size="6.2" font-weight="bold" text-anchor="end" fill="#1a1a1a" stroke="#1a1a1a" stroke-width="0.22" textLength="15.9" lengthAdjust="spacingAndGlyphs">1000</text>
<line x1="557.20" y1="93.50" x2="561.30" y2="93.50" stroke="#222" stroke-width="1.3"/>
<text x="555.10" y="95.73" font-size="6.2" font-weight="bold" text-anchor="end" fill="#1a1a1a" stroke="#1a1a1a" stroke-width="0.22" textLength="15.9" lengthAdjust="spacingAndGlyphs">1500</text>
<line x1="557.20" y1="164.00" x2="630.70" y2="164.00" stroke="#222" stroke-width="1.3"/>
<rect x="570.00" y="144.73" width="21.50" height="19.27" fill="#d4d4d4" stroke="#bdbdbd" stroke-width="0.7"/>
<rect x="598.70" y="120.76" width="22.00" height="43.24" fill="#808080" stroke="#555" stroke-width="0.7"/>
<line x1="580.70" y1="144.73" x2="580.70" y2="143.32" stroke="#222" stroke-width="0.8"/>
<line x1="575.70" y1="143.32" x2="585.70" y2="143.32" stroke="#222" stroke-width="0.8"/>
<line x1="609.70" y1="120.76" x2="609.70" y2="117.00" stroke="#222" stroke-width="0.8"/>
<line x1="604.70" y1="117.00" x2="614.70" y2="117.00" stroke="#222" stroke-width="0.8"/>
<polyline points="580.70,141.00 580.70,113.60 610.00,113.60 610.00,116.50" fill="none" stroke="#444" stroke-width="0.7"/>
<text x="595.50" y="115.50" font-size="7.5" font-weight="bold" text-anchor="middle" fill="#1a1a1a" stroke="#1a1a1a" stroke-width="0.26">***</text>
<line x1="580.70" y1="164.00" x2="580.70" y2="167.00" stroke="#222" stroke-width="1.0"/>
<line x1="609.70" y1="164.00" x2="609.70" y2="167.00" stroke="#222" stroke-width="1.0"/>
<text x="580.50" y="172.20" font-size="5.6" font-weight="bold" text-anchor="middle" fill="#1a1a1a" stroke="#1a1a1a" stroke-width="0.20" textLength="20" lengthAdjust="spacingAndGlyphs">Vector</text>
<text x="610.00" y="172.20" font-size="5.6" font-weight="bold" text-anchor="middle" fill="#1a1a1a" stroke="#1a1a1a" stroke-width="0.20" textLength="23.5" lengthAdjust="spacingAndGlyphs">WNT7B</text>
<text x="534.50" y="128.70" font-size="7.6" font-weight="bold" text-anchor="middle" fill="#1a1a1a" stroke="#1a1a1a" stroke-width="0.27" textLength="39" lengthAdjust="spacingAndGlyphs" transform="rotate(-90 534.50 128.70)">Colony numbers</text>
<text x="5.00" y="207.30" font-size="10" font-weight="bold" text-anchor="start" fill="#1a1a1a" stroke="#1a1a1a" stroke-width="0.35">C</text>
<line x1="49.50" y1="355.75" x2="49.50" y2="229.90" stroke="#222" stroke-width="1.5"/>
<line x1="44.00" y1="355.00" x2="49.50" y2="355.00" stroke="#222" stroke-width="1.5"/>
<text x="42.50" y="358.60" font-size="10" font-weight="bold" text-anchor="end" fill="#1a1a1a" stroke="#1a1a1a" stroke-width="0.35" textLength="13.7" lengthAdjust="spacingAndGlyphs">0.0</text>
<line x1="44.00" y1="313.30" x2="49.50" y2="313.30" stroke="#222" stroke-width="1.5"/>
<text x="42.50" y="316.90" font-size="10" font-weight="bold" text-anchor="end" fill="#1a1a1a" stroke="#1a1a1a" stroke-width="0.35" textLength="13.7" lengthAdjust="spacingAndGlyphs">0.5</text>
<line x1="44.00" y1="271.60" x2="49.50" y2="271.60" stroke="#222" stroke-width="1.5"/>
<text x="42.50" y="275.20" font-size="10" font-weight="bold" text-anchor="end" fill="#1a1a1a" stroke="#1a1a1a" stroke-width="0.35" textLength="13.7" lengthAdjust="spacingAndGlyphs">1.0</text>
<line x1="44.00" y1="229.90" x2="49.50" y2="229.90" stroke="#222" stroke-width="1.5"/>
<text x="42.50" y="233.50" font-size="10" font-weight="bold" text-anchor="end" fill="#1a1a1a" stroke="#1a1a1a" stroke-width="0.35" textLength="13.7" lengthAdjust="spacingAndGlyphs">1.5</text>
<line x1="44.00" y1="355.00" x2="138.80" y2="355.00" stroke="#222" stroke-width="1.5"/>
<rect x="62.50" y="271.60" width="25.00" height="83.40" fill="#d4d4d4" stroke="#b3b3b3" stroke-width="0.8"/>
<rect x="101.00" y="244.91" width="24.50" height="110.09" fill="#5f5f5f" stroke="#2e2e2e" stroke-width="0.8"/>
<line x1="113.50" y1="244.91" x2="113.50" y2="236.57" stroke="#222" stroke-width="0.9"/>
<line x1="107.50" y1="236.57" x2="119.50" y2="236.57" stroke="#222" stroke-width="0.9"/>
<polyline points="76.00,270.00 76.00,227.00 113.50,227.00 113.50,237.00" fill="none" stroke="#444" stroke-width="0.8"/>
<text x="95.00" y="229.00" font-size="10" font-weight="bold" text-anchor="middle" fill="#333" stroke="#333" stroke-width="0.35">**</text>
<line x1="75.00" y1="355.00" x2="75.00" y2="360.50" stroke="#222" stroke-width="1.4"/>
<line x1="113.50" y1="355.00" x2="113.50" y2="360.50" stroke="#222" stroke-width="1.4"/>
<text x="75.00" y="370.40" font-size="10" font-weight="bold" text-anchor="middle" fill="#1a1a1a" stroke="#1a1a1a" stroke-width="0.35" textLength="31" lengthAdjust="spacingAndGlyphs">Vector</text>
<text x="113.00" y="370.40" font-size="10" font-weight="bold" text-anchor="middle" fill="#1a1a1a" stroke="#1a1a1a" stroke-width="0.35" textLength="35.5" lengthAdjust="spacingAndGlyphs">WNT7B</text>
<text x="22.00" y="292.50" font-size="10" font-weight="bold" text-anchor="middle" fill="#1a1a1a" stroke="#1a1a1a" stroke-width="0.35" textLength="97" lengthAdjust="spacingAndGlyphs" transform="rotate(-90 22.00 292.50)">Relative mRNA level</text>
<text x="158.00" y="209.00" font-size="10" font-weight="bold" text-anchor="start" fill="#1a1a1a" stroke="#1a1a1a" stroke-width="0.35">D</text>
<text x="202.00" y="217.00" font-size="9" font-weight="bold" text-anchor="middle" fill="#1a1a1a" stroke="#1a1a1a" stroke-width="0.32" textLength="27" lengthAdjust="spacingAndGlyphs">Vector</text>
<text x="246.00" y="217.00" font-size="9" font-weight="bold" text-anchor="middle" fill="#1a1a1a" stroke="#1a1a1a" stroke-width="0.32" textLength="32" lengthAdjust="spacingAndGlyphs">WNT7B</text>
<text x="145.50" y="234.30" font-size="9" font-weight="bold" text-anchor="start" fill="#1a1a1a" stroke="#1a1a1a" stroke-width="0.32" textLength="32" lengthAdjust="spacingAndGlyphs">WNT7B</text>
<text x="145.50" y="267.30" font-size="9" font-weight="bold" text-anchor="start" fill="#1a1a1a" stroke="#1a1a1a" stroke-width="0.32" textLength="32.5" lengthAdjust="spacingAndGlyphs">GAPDH</text>
<text x="273.00" y="234.30" font-size="9" font-weight="bold" text-anchor="start" fill="#1a1a1a" stroke="#1a1a1a" stroke-width="0.32" textLength="27" lengthAdjust="spacingAndGlyphs">42kDa</text>
<text x="273.00" y="265.80" font-size="9" font-weight="bold" text-anchor="start" fill="#1a1a1a" stroke="#1a1a1a" stroke-width="0.32" textLength="27" lengthAdjust="spacingAndGlyphs">36kDa</text>
<text x="226.00" y="289.00" font-size="10" font-weight="bold" text-anchor="middle" fill="#1a1a1a" stroke="#1a1a1a" stroke-width="0.35">HN30</text>
<clipPath id="cl3"><rect x="180.5" y="224.1" width="90.10000000000002" height="23.30000000000001"/></clipPath>
<g clip-path="url(#cl3)">
<rect x="180.50" y="224.10" width="90.10" height="23.30" fill="#dedede"/>
<rect x="219.80" y="224.1" width="4" height="23.30000000000001" fill="#ebebeb" filter="url(#bl2)"/>
<rect x="184.50" y="234.20" width="34.50" height="9.80" rx="3.00" fill="#0e0e0e" opacity="1" filter="url(#bl15)"/>
<rect x="224.60" y="233.80" width="42.40" height="9.60" rx="3.00" fill="#0c0c0c" opacity="1" filter="url(#bl15)"/>
</g>
<rect x="180.5" y="224.1" width="90.10000000000002" height="23.30000000000001" fill="none" stroke="#333" stroke-width="1.0"/>
<clipPath id="cl4"><rect x="180.5" y="253.3" width="90.10000000000002" height="22.899999999999977"/></clipPath>
<g clip-path="url(#cl4)">
<rect x="180.50" y="253.30" width="90.10" height="22.90" fill="#e0e0e0"/>
<rect x="220.50" y="253.3" width="4" height="22.899999999999977" fill="#ececec" filter="url(#bl2)"/>
<rect x="185.20" y="261.00" width="35.10" height="7.20" rx="3.00" fill="#0e0e0e" opacity="1" filter="url(#bl1)"/>
<rect x="226.00" y="261.30" width="39.50" height="6.70" rx="3.00" fill="#171717" opacity="1" filter="url(#bl1)"/>
</g>
<rect x="180.5" y="253.3" width="90.10000000000002" height="22.899999999999977" fill="none" stroke="#333" stroke-width="1.0"/>
<line x1="201.00" y1="376.35" x2="201.00" y2="293.00" stroke="#222" stroke-width="1.2"/>
<line x1="197.50" y1="375.75" x2="201.00" y2="375.75" stroke="#222" stroke-width="1.2"/>
<text x="196.50" y="378.09" font-size="6.5" font-weight="bold" text-anchor="end" fill="#1a1a1a" stroke="#1a1a1a" stroke-width="0.23" textLength="10.7" lengthAdjust="spacingAndGlyphs">0.0</text>
<line x1="197.50" y1="348.17" x2="201.00" y2="348.17" stroke="#222" stroke-width="1.2"/>
<text x="196.50" y="350.50" font-size="6.5" font-weight="bold" text-anchor="end" fill="#1a1a1a" stroke="#1a1a1a" stroke-width="0.23" textLength="10.7" lengthAdjust="spacingAndGlyphs">0.5</text>
<line x1="197.50" y1="320.58" x2="201.00" y2="320.58" stroke="#222" stroke-width="1.2"/>
<text x="196.50" y="322.92" font-size="6.5" font-weight="bold" text-anchor="end" fill="#1a1a1a" stroke="#1a1a1a" stroke-width="0.23" textLength="10.7" lengthAdjust="spacingAndGlyphs">1.0</text>
<line x1="197.50" y1="293.00" x2="201.00" y2="293.00" stroke="#222" stroke-width="1.2"/>
<text x="196.50" y="295.33" font-size="6.5" font-weight="bold" text-anchor="end" fill="#1a1a1a" stroke="#1a1a1a" stroke-width="0.23" textLength="10.7" lengthAdjust="spacingAndGlyphs">1.5</text>
<line x1="197.50" y1="375.75" x2="275.00" y2="375.75" stroke="#222" stroke-width="1.2"/>
<rect x="211.00" y="331.61" width="22.00" height="44.14" fill="#d4d4d4" stroke="#b3b3b3" stroke-width="0.7"/>
<rect x="242.50" y="310.10" width="21.50" height="65.65" fill="#5f5f5f" stroke="#2e2e2e" stroke-width="0.7"/>
<line x1="222.00" y1="331.61" x2="222.00" y2="326.65" stroke="#222" stroke-width="0.8"/>
<line x1="217.50" y1="326.65" x2="226.50" y2="326.65" stroke="#222" stroke-width="0.8"/>
<line x1="253.50" y1="310.10" x2="253.50" y2="306.24" stroke="#222" stroke-width="0.8"/>
<line x1="249.00" y1="306.24" x2="258.00" y2="306.24" stroke="#222" stroke-width="0.8"/>
<polyline points="222.00,326.50 222.00,297.20 253.50,297.20 253.50,306.50" fill="none" stroke="#444" stroke-width="0.7"/>
<text x="237.50" y="298.50" font-size="7.5" font-weight="bold" text-anchor="middle" fill="#1a1a1a" stroke="#1a1a1a" stroke-width="0.26">**</text>
<line x1="222.00" y1="375.75" x2="222.00" y2="379.00" stroke="#222" stroke-width="1.0"/>
<line x1="253.50" y1="375.75" x2="253.50" y2="379.00" stroke="#222" stroke-width="1.0"/>
<text x="222.50" y="385.50" font-size="5.8" font-weight="bold" text-anchor="middle" fill="#1a1a1a" stroke="#1a1a1a" stroke-width="0.20" textLength="20" lengthAdjust="spacingAndGlyphs">Vector</text>
<text x="253.00" y="385.50" font-size="5.8" font-weight="bold" text-anchor="middle" fill="#1a1a1a" stroke="#1a1a1a" stroke-width="0.20" textLength="23" lengthAdjust="spacingAndGlyphs">WNT7B</text>
<text x="176.20" y="335.00" font-size="7.2" font-weight="bold" text-anchor="middle" fill="#1a1a1a" stroke="#1a1a1a" stroke-width="0.25" textLength="65" lengthAdjust="spacingAndGlyphs" transform="rotate(-90 176.20 335.00)">Relative protein levels</text>
<text x="320.00" y="210.30" font-size="10" font-weight="bold" text-anchor="start" fill="#1a1a1a" stroke="#1a1a1a" stroke-width="0.35">F</text>
<line x1="339.25" y1="336.90" x2="339.25" y2="233.00" stroke="#222" stroke-width="1.3"/>
<line x1="336.25" y1="336.25" x2="339.25" y2="336.25" stroke="#222" stroke-width="1.3"/>
<text x="335.45" y="339.42" font-size="8.8" font-weight="bold" text-anchor="end" fill="#1a1a1a" stroke="#1a1a1a" stroke-width="0.31">0.0</text>
<line x1="336.25" y1="301.83" x2="339.25" y2="301.83" stroke="#222" stroke-width="1.3"/>
<text x="335.45" y="305.00" font-size="8.8" font-weight="bold" text-anchor="end" fill="#1a1a1a" stroke="#1a1a1a" stroke-width="0.31">0.5</text>
<line x1="336.25" y1="267.42" x2="339.25" y2="267.42" stroke="#222" stroke-width="1.3"/>
<text x="335.45" y="270.59" font-size="8.8" font-weight="bold" text-anchor="end" fill="#1a1a1a" stroke="#1a1a1a" stroke-width="0.31">1.0</text>
<line x1="336.25" y1="233.00" x2="339.25" y2="233.00" stroke="#222" stroke-width="1.3"/>
<text x="335.45" y="236.17" font-size="8.8" font-weight="bold" text-anchor="end" fill="#1a1a1a" stroke="#1a1a1a" stroke-width="0.31">1.5</text>
<line x1="336.25" y1="336.25" x2="468.75" y2="336.25" stroke="#222" stroke-width="1.3"/>
<line x1="339.25" y1="336.25" x2="339.25" y2="339.75" stroke="#222" stroke-width="1.3"/>
<text x="338.75" y="349.50" font-size="8.8" font-weight="bold" text-anchor="middle" fill="#1a1a1a" stroke="#1a1a1a" stroke-width="0.31">0</text>
<line x1="365.15" y1="336.25" x2="365.15" y2="339.75" stroke="#222" stroke-width="1.3"/>
<text x="364.65" y="349.50" font-size="8.8" font-weight="bold" text-anchor="middle" fill="#1a1a1a" stroke="#1a1a1a" stroke-width="0.31">1</text>
<line x1="391.05" y1="336.25" x2="391.05" y2="339.75" stroke="#222" stroke-width="1.3"/>
<text x="390.55" y="349.50" font-size="8.8" font-weight="bold" text-anchor="middle" fill="#1a1a1a" stroke="#1a1a1a" stroke-width="0.31">2</text>
<line x1="416.95" y1="336.25" x2="416.95" y2="339.75" stroke="#222" stroke-width="1.3"/>
<text x="416.45" y="349.50" font-size="8.8" font-weight="bold" text-anchor="middle" fill="#1a1a1a" stroke="#1a1a1a" stroke-width="0.31">3</text>
<line x1="442.85" y1="336.25" x2="442.85" y2="339.75" stroke="#222" stroke-width="1.3"/>
<text x="442.35" y="349.50" font-size="8.8" font-weight="bold" text-anchor="middle" fill="#1a1a1a" stroke="#1a1a1a" stroke-width="0.31">4</text>
<line x1="468.75" y1="336.25" x2="468.75" y2="339.75" stroke="#222" stroke-width="1.3"/>
<text x="468.25" y="349.50" font-size="8.8" font-weight="bold" text-anchor="middle" fill="#1a1a1a" stroke="#1a1a1a" stroke-width="0.31">5</text>
<text x="403.75" y="360.50" font-size="9.2" font-weight="bold" text-anchor="middle" fill="#1a1a1a" stroke="#1a1a1a" stroke-width="0.32">Day</text>
<text x="316.20" y="283.75" font-size="8.5" font-weight="bold" text-anchor="middle" fill="#1a1a1a" stroke="#1a1a1a" stroke-width="0.30" textLength="68.8" lengthAdjust="spacingAndGlyphs" transform="rotate(-90 316.20 283.75)">OD value(450nm)</text>
<line x1="365.15" y1="330.06" x2="365.15" y2="332.81" stroke="#f5a0a0" stroke-width="0.9"/>
<line x1="363.35" y1="330.06" x2="366.95" y2="330.06" stroke="#f5a0a0" stroke-width="0.9"/>
<line x1="363.35" y1="332.81" x2="366.95" y2="332.81" stroke="#f5a0a0" stroke-width="0.9"/>
<line x1="391.05" y1="310.09" x2="391.05" y2="314.22" stroke="#f5a0a0" stroke-width="0.9"/>
<line x1="389.25" y1="310.09" x2="392.85" y2="310.09" stroke="#f5a0a0" stroke-width="0.9"/>
<line x1="389.25" y1="314.22" x2="392.85" y2="314.22" stroke="#f5a0a0" stroke-width="0.9"/>
<line x1="416.95" y1="269.48" x2="416.95" y2="276.37" stroke="#f5a0a0" stroke-width="0.9"/>
<line x1="415.15" y1="269.48" x2="418.75" y2="269.48" stroke="#f5a0a0" stroke-width="0.9"/>
<line x1="415.15" y1="276.37" x2="418.75" y2="276.37" stroke="#f5a0a0" stroke-width="0.9"/>
<line x1="442.85" y1="241.95" x2="442.85" y2="247.46" stroke="#f5a0a0" stroke-width="0.9"/>
<line x1="441.05" y1="241.95" x2="444.65" y2="241.95" stroke="#f5a0a0" stroke-width="0.9"/>
<line x1="441.05" y1="247.46" x2="444.65" y2="247.46" stroke="#f5a0a0" stroke-width="0.9"/>
<line x1="365.15" y1="331.43" x2="365.15" y2="334.19" stroke="#9ccaf5" stroke-width="0.9"/>
<line x1="363.35" y1="331.43" x2="366.95" y2="331.43" stroke="#9ccaf5" stroke-width="0.9"/>
<line x1="363.35" y1="334.19" x2="366.95" y2="334.19" stroke="#9ccaf5" stroke-width="0.9"/>
<line x1="391.05" y1="315.60" x2="391.05" y2="319.73" stroke="#9ccaf5" stroke-width="0.9"/>
<line x1="389.25" y1="315.60" x2="392.85" y2="315.60" stroke="#9ccaf5" stroke-width="0.9"/>
<line x1="389.25" y1="319.73" x2="392.85" y2="319.73" stroke="#9ccaf5" stroke-width="0.9"/>
<line x1="416.95" y1="291.51" x2="416.95" y2="299.77" stroke="#9ccaf5" stroke-width="0.9"/>
<line x1="415.15" y1="291.51" x2="418.75" y2="291.51" stroke="#9ccaf5" stroke-width="0.9"/>
<line x1="415.15" y1="299.77" x2="418.75" y2="299.77" stroke="#9ccaf5" stroke-width="0.9"/>
<line x1="442.85" y1="276.37" x2="442.85" y2="283.25" stroke="#9ccaf5" stroke-width="0.9"/>
<line x1="441.05" y1="276.37" x2="444.65" y2="276.37" stroke="#9ccaf5" stroke-width="0.9"/>
<line x1="441.05" y1="283.25" x2="444.65" y2="283.25" stroke="#9ccaf5" stroke-width="0.9"/>
<polyline points="365.15,332.81 391.05,317.67 416.95,295.64 442.85,279.81" fill="none" stroke="#0a80ff" stroke-width="1.5"/>
<polyline points="365.15,331.43 391.05,312.16 416.95,272.93 442.85,244.71" fill="none" stroke="#fc0808" stroke-width="1.5"/>
<circle cx="365.15" cy="332.81" r="2.60" fill="#0a80ff"/>
<circle cx="391.05" cy="317.67" r="2.60" fill="#0a80ff"/>
<circle cx="416.95" cy="295.64" r="2.60" fill="#0a80ff"/>
<circle cx="442.85" cy="279.81" r="2.60" fill="#0a80ff"/>
<rect x="362.85" y="329.13" width="4.60" height="4.60" fill="#fc0808"/>
<rect x="388.75" y="309.86" width="4.60" height="4.60" fill="#fc0808"/>
<rect x="414.65" y="270.63" width="4.60" height="4.60" fill="#fc0808"/>
<rect x="440.55" y="242.41" width="4.60" height="4.60" fill="#fc0808"/>
<line x1="357.00" y1="250.50" x2="373.00" y2="250.50" stroke="#fc0808" stroke-width="1.5"/>
<rect x="362.50" y="248.20" width="4.60" height="4.60" fill="#fc0808"/>
<text x="376.00" y="254.00" font-size="9" font-weight="normal" text-anchor="start" fill="#1a1a1a" textLength="32.7" lengthAdjust="spacingAndGlyphs">WNT7B</text>
<line x1="357.00" y1="263.00" x2="373.00" y2="263.00" stroke="#0a80ff" stroke-width="1.5"/>
<circle cx="364.80" cy="263.00" r="2.50" fill="#0a80ff"/>
<text x="377.50" y="266.50" font-size="9" font-weight="normal" text-anchor="start" fill="#1a1a1a">Vector</text>
<polyline points="448.50,243.75 451.30,243.75 451.30,278.75 448.50,278.75" fill="none" stroke="#9a9a9a" stroke-width="0.8"/>
<text x="459.50" y="266.00" font-size="10" font-weight="bold" text-anchor="middle" fill="#1a1a1a" stroke="#1a1a1a" stroke-width="0.35">***</text>
<text x="486.00" y="210.60" font-size="10" font-weight="bold" text-anchor="start" fill="#1a1a1a" stroke="#1a1a1a" stroke-width="0.35">H</text>
<text x="546.50" y="217.80" font-size="9" font-weight="bold" text-anchor="middle" fill="#1a1a1a" stroke="#1a1a1a" stroke-width="0.32" textLength="27" lengthAdjust="spacingAndGlyphs">Vector</text>
<text x="631.50" y="217.80" font-size="9" font-weight="bold" text-anchor="middle" fill="#1a1a1a" stroke="#1a1a1a" stroke-width="0.32" textLength="31" lengthAdjust="spacingAndGlyphs">WNT7B</text>
<text x="481.00" y="264.80" font-size="9" font-weight="bold" text-anchor="start" fill="#1a1a1a" stroke="#1a1a1a" stroke-width="0.32" textLength="22" lengthAdjust="spacingAndGlyphs">HN30</text>
<clipPath id="pc3"><ellipse cx="545.5" cy="261" rx="38.3" ry="35.8"/></clipPath>
<ellipse cx="545.5" cy="261" rx="38.3" ry="35.8" fill="#878d99"/>
<g clip-path="url(#pc3)">
<ellipse cx="545.5" cy="261" rx="35.699999999999996" ry="33.199999999999996" fill="none" stroke="#979ea7" stroke-opacity="0.6" stroke-width="1.6" filter="url(#bl05)"/>
<g fill="#635b9f" filter="url(#bl07)">
<circle cx="539.9" cy="247.9" r="0.98"/>
<circle cx="550.9" cy="284.5" r="1.08"/>
<circle cx="512.2" cy="258.6" r="0.90"/>
<circle cx="563.5" cy="261.3" r="0.82"/>
<circle cx="571.3" cy="272.2" r="1.08"/>
<circle cx="547.4" cy="277.6" r="0.63"/>
<circle cx="542.9" cy="226.4" r="1.13"/>
<circle cx="574.0" cy="266.8" r="0.80"/>
<circle cx="565.1" cy="277.3" r="1.17"/>
<circle cx="558.2" cy="278.4" r="1.09"/>
<circle cx="557.3" cy="255.6" r="0.87"/>
<circle cx="530.3" cy="282.5" r="0.89"/>
<circle cx="561.1" cy="264.5" r="1.12"/>
<circle cx="548.9" cy="244.5" r="0.73"/>
<circle cx="574.2" cy="239.9" r="1.05"/>
<circle cx="517.1" cy="246.3" r="1.04"/>
<circle cx="532.6" cy="262.8" r="1.10"/>
<circle cx="560.3" cy="253.8" r="1.13"/>
<circle cx="529.8" cy="277.7" r="0.87"/>
<circle cx="568.6" cy="260.3" r="0.83"/>
<circle cx="550.6" cy="264.1" r="1.03"/>
<circle cx="508.5" cy="261.9" r="0.89"/>
<circle cx="545.2" cy="235.2" r="0.73"/>
<circle cx="518.3" cy="251.6" r="0.97"/>
<circle cx="553.1" cy="273.9" r="0.81"/>
<circle cx="525.1" cy="288.5" r="0.96"/>
<circle cx="561.9" cy="272.6" r="0.64"/>
<circle cx="551.2" cy="230.1" r="0.82"/>
<circle cx="531.7" cy="235.3" r="1.14"/>
<circle cx="515.2" cy="279.7" r="1.19"/>
<circle cx="514.8" cy="242.7" r="1.13"/>
<circle cx="527.0" cy="278.1" r="0.75"/>
<circle cx="563.7" cy="288.7" r="0.64"/>
<circle cx="550.5" cy="230.2" r="0.89"/>
<circle cx="577.7" cy="271.2" r="0.75"/>
<circle cx="528.0" cy="270.1" r="0.70"/>
<circle cx="540.4" cy="268.8" r="1.14"/>
<circle cx="544.5" cy="226.6" r="0.89"/>
<circle cx="563.5" cy="256.5" r="0.92"/>
<circle cx="576.7" cy="266.2" r="0.73"/>
<circle cx="555.0" cy="230.5" r="1.13"/>
<circle cx="519.7" cy="273.1" r="0.95"/>
<circle cx="533.3" cy="290.9" r="0.92"/>
<circle cx="547.7" cy="242.9" r="0.61"/>
<circle cx="575.0" cy="252.8" r="0.61"/>
<circle cx="527.8" cy="240.0" r="1.11"/>
<circle cx="544.2" cy="287.5" r="0.84"/>
<circle cx="575.7" cy="242.0" r="0.68"/>
<circle cx="555.0" cy="267.0" r="0.62"/>
<circle cx="561.2" cy="279.0" r="1.12"/>
</g>
<g fill="#635b9f" filter="url(#bl07)">
<circle cx="540.5" cy="260.3" r="1.00"/>
<circle cx="536.5" cy="268.8" r="0.76"/>
<circle cx="551.0" cy="265.9" r="0.88"/>
<circle cx="540.1" cy="255.8" r="0.63"/>
<circle cx="537.0" cy="251.5" r="1.18"/>
<circle cx="546.0" cy="262.1" r="0.95"/>
<circle cx="572.5" cy="266.6" r="0.73"/>
<circle cx="542.3" cy="258.5" r="1.12"/>
<circle cx="543.5" cy="264.3" r="0.89"/>
<circle cx="532.0" cy="274.3" r="0.82"/>
<circle cx="523.7" cy="262.6" r="1.31"/>
<circle cx="564.5" cy="267.3" r="0.98"/>
<circle cx="541.1" cy="247.9" r="0.83"/>
<circle cx="538.9" cy="256.1" r="1.02"/>
<circle cx="574.6" cy="266.9" r="1.33"/>
<circle cx="536.2" cy="266.7" r="1.34"/>
<circle cx="550.8" cy="264.2" r="0.65"/>
<circle cx="556.9" cy="253.9" r="0.94"/>
<circle cx="543.0" cy="262.0" r="1.08"/>
<circle cx="526.0" cy="265.2" r="0.89"/>
<circle cx="535.5" cy="265.2" r="0.64"/>
<circle cx="533.6" cy="264.5" r="1.13"/>
<circle cx="556.8" cy="254.4" r="0.94"/>
<circle cx="546.9" cy="268.4" r="0.97"/>
<circle cx="515.6" cy="251.9" r="0.66"/>
<circle cx="525.6" cy="263.6" r="1.14"/>
<circle cx="568.7" cy="256.5" r="1.07"/>
<circle cx="546.9" cy="254.3" r="1.24"/>
<circle cx="537.3" cy="254.5" r="0.78"/>
<circle cx="560.2" cy="260.0" r="1.06"/>
<circle cx="565.6" cy="249.6" r="1.34"/>
<circle cx="560.4" cy="263.0" r="0.83"/>
<circle cx="538.0" cy="264.8" r="1.01"/>
<circle cx="558.3" cy="265.1" r="1.31"/>
<circle cx="544.6" cy="256.4" r="0.68"/>
<circle cx="571.4" cy="260.4" r="0.75"/>
<circle cx="532.9" cy="269.8" r="1.11"/>
<circle cx="542.6" cy="276.8" r="0.84"/>
<circle cx="544.6" cy="273.9" r="0.72"/>
<circle cx="540.7" cy="259.3" r="1.05"/>
<circle cx="542.6" cy="268.3" r="1.31"/>
<circle cx="527.4" cy="264.1" r="1.06"/>
<circle cx="543.5" cy="266.3" r="0.89"/>
<circle cx="543.9" cy="266.5" r="1.32"/>
<circle cx="576.2" cy="265.0" r="1.30"/>
</g>
<g fill="#7d7aa8" filter="url(#bl07)">
<circle cx="576.5" cy="264.5" r="0.55"/>
<circle cx="539.8" cy="256.7" r="0.61"/>
<circle cx="563.7" cy="261.8" r="0.56"/>
<circle cx="541.4" cy="271.0" r="0.54"/>
<circle cx="521.4" cy="284.9" r="0.44"/>
<circle cx="560.0" cy="233.2" r="0.56"/>
<circle cx="548.6" cy="268.1" r="0.52"/>
<circle cx="549.8" cy="286.5" r="0.64"/>
<circle cx="575.9" cy="246.5" r="0.67"/>
<circle cx="541.2" cy="258.7" r="0.42"/>
<circle cx="544.8" cy="228.1" r="0.63"/>
<circle cx="560.5" cy="266.5" r="0.64"/>
<circle cx="524.4" cy="242.5" r="0.54"/>
<circle cx="528.0" cy="287.4" r="0.48"/>
<circle cx="538.9" cy="280.7" r="0.59"/>
<circle cx="577.1" cy="275.1" r="0.42"/>
<circle cx="533.9" cy="238.7" r="0.46"/>
<circle cx="563.5" cy="267.5" r="0.41"/>
<circle cx="534.5" cy="238.8" r="0.60"/>
<circle cx="557.2" cy="269.4" r="0.68"/>
<circle cx="522.6" cy="274.9" r="0.61"/>
<circle cx="514.2" cy="256.4" r="0.42"/>
<circle cx="553.1" cy="291.8" r="0.41"/>
<circle cx="523.9" cy="256.8" r="0.59"/>
<circle cx="541.6" cy="247.0" r="0.55"/>
</g>
</g>
<ellipse cx="545.5" cy="261" rx="37.9" ry="35.4" fill="none" stroke="#7c838c" stroke-opacity="0.8" stroke-width="0.9"/>
<clipPath id="pc4"><ellipse cx="628.9" cy="260.5" rx="37.3" ry="36.1"/></clipPath>
<ellipse cx="628.9" cy="260.5" rx="37.3" ry="36.1" fill="#868c9b"/>
<g clip-path="url(#pc4)">
<ellipse cx="628.9" cy="260.5" rx="34.699999999999996" ry="33.5" fill="none" stroke="#959ba6" stroke-opacity="0.6" stroke-width="1.6" filter="url(#bl05)"/>
<g fill="#635b9f" filter="url(#bl07)">
<circle cx="651.4" cy="287.0" r="0.62"/>
<circle cx="643.4" cy="292.5" r="0.68"/>
<circle cx="612.4" cy="283.8" r="1.22"/>
<circle cx="645.8" cy="256.3" r="0.82"/>
<circle cx="654.4" cy="249.3" r="1.08"/>
<circle cx="619.9" cy="228.0" r="0.63"/>
<circle cx="600.2" cy="243.0" r="0.82"/>
<circle cx="638.2" cy="248.1" r="1.01"/>
<circle cx="634.2" cy="227.0" r="1.27"/>
<circle cx="620.2" cy="235.5" r="1.03"/>
<circle cx="646.6" cy="255.7" r="0.82"/>
<circle cx="659.6" cy="251.8" r="1.06"/>
<circle cx="635.1" cy="248.7" r="1.07"/>
<circle cx="643.7" cy="265.1" r="0.97"/>
<circle cx="634.7" cy="257.6" r="0.95"/>
<circle cx="607.0" cy="274.1" r="1.06"/>
<circle cx="616.7" cy="291.9" r="0.86"/>
<circle cx="620.8" cy="286.1" r="1.02"/>
<circle cx="604.5" cy="271.0" r="1.07"/>
<circle cx="651.3" cy="273.9" r="1.30"/>
<circle cx="609.3" cy="269.2" r="0.88"/>
<circle cx="662.2" cy="250.5" r="0.96"/>
<circle cx="647.7" cy="273.1" r="1.23"/>
<circle cx="614.6" cy="256.3" r="0.84"/>
<circle cx="616.0" cy="276.2" r="0.73"/>
<circle cx="622.1" cy="259.0" r="1.16"/>
<circle cx="637.6" cy="287.4" r="1.09"/>
<circle cx="621.9" cy="264.8" r="1.18"/>
<circle cx="595.2" cy="268.7" r="1.19"/>
<circle cx="603.6" cy="256.8" r="1.01"/>
<circle cx="627.5" cy="225.7" r="0.93"/>
<circle cx="609.7" cy="237.1" r="0.85"/>
<circle cx="642.5" cy="232.4" r="1.03"/>
<circle cx="663.8" cy="264.4" r="0.95"/>
<circle cx="613.4" cy="284.0" r="0.72"/>
<circle cx="601.3" cy="272.2" r="0.79"/>
<circle cx="636.1" cy="259.0" r="0.85"/>
<circle cx="631.5" cy="272.3" r="0.78"/>
<circle cx="643.1" cy="290.0" r="0.79"/>
<circle cx="617.8" cy="262.5" r="0.75"/>
<circle cx="626.9" cy="240.1" r="1.25"/>
<circle cx="661.0" cy="268.1" r="0.86"/>
<circle cx="661.5" cy="267.1" r="0.74"/>
<circle cx="610.2" cy="277.0" r="1.13"/>
<circle cx="599.0" cy="267.1" r="0.77"/>
<circle cx="627.1" cy="277.2" r="0.65"/>
<circle cx="645.1" cy="284.4" r="1.22"/>
<circle cx="656.1" cy="270.3" r="0.95"/>
<circle cx="656.0" cy="267.6" r="0.94"/>
<circle cx="629.5" cy="254.5" r="0.60"/>
<circle cx="657.5" cy="258.0" r="1.19"/>
<circle cx="611.8" cy="256.9" r="0.70"/>
<circle cx="642.8" cy="245.0" r="1.17"/>
<circle cx="626.4" cy="262.8" r="1.05"/>
<circle cx="633.8" cy="246.6" r="1.23"/>
<circle cx="611.5" cy="280.3" r="1.19"/>
<circle cx="638.7" cy="283.7" r="0.79"/>
<circle cx="636.5" cy="248.6" r="0.96"/>
<circle cx="641.3" cy="233.9" r="1.28"/>
<circle cx="615.8" cy="269.0" r="1.21"/>
<circle cx="605.0" cy="280.5" r="1.06"/>
<circle cx="637.3" cy="273.6" r="0.64"/>
<circle cx="630.9" cy="282.0" r="0.96"/>
<circle cx="649.3" cy="288.8" r="0.99"/>
<circle cx="601.5" cy="241.6" r="0.97"/>
<circle cx="660.3" cy="264.7" r="1.26"/>
<circle cx="639.3" cy="233.3" r="1.18"/>
<circle cx="639.3" cy="265.0" r="0.72"/>
<circle cx="652.7" cy="251.1" r="1.24"/>
<circle cx="612.2" cy="244.9" r="1.12"/>
</g>
<g fill="#635b9f" filter="url(#bl07)">
<circle cx="612.7" cy="282.4" r="1.45"/>
<circle cx="625.1" cy="247.2" r="1.33"/>
<circle cx="622.7" cy="258.4" r="0.89"/>
<circle cx="629.2" cy="266.8" r="1.44"/>
<circle cx="628.1" cy="265.8" r="0.92"/>
<circle cx="639.6" cy="269.3" r="0.93"/>
<circle cx="635.2" cy="272.2" r="1.00"/>
<circle cx="615.2" cy="275.7" r="0.91"/>
<circle cx="604.5" cy="259.9" r="1.47"/>
<circle cx="626.4" cy="265.7" r="1.46"/>
<circle cx="620.3" cy="263.6" r="0.76"/>
<circle cx="629.6" cy="270.9" r="0.77"/>
<circle cx="631.5" cy="260.6" r="1.06"/>
<circle cx="633.5" cy="255.2" r="0.71"/>
<circle cx="622.5" cy="270.7" r="1.43"/>
<circle cx="617.1" cy="259.7" r="1.19"/>
<circle cx="646.8" cy="267.7" r="1.34"/>
<circle cx="623.3" cy="257.5" r="0.89"/>
<circle cx="634.0" cy="264.3" r="0.78"/>
<circle cx="608.4" cy="268.1" r="0.83"/>
<circle cx="611.7" cy="266.1" r="1.19"/>
<circle cx="656.4" cy="266.4" r="1.15"/>
<circle cx="625.9" cy="269.7" r="1.24"/>
<circle cx="639.1" cy="261.2" r="0.99"/>
<circle cx="621.8" cy="262.4" r="0.99"/>
<circle cx="642.5" cy="259.1" r="1.35"/>
<circle cx="627.1" cy="280.1" r="1.32"/>
<circle cx="631.2" cy="273.8" r="1.23"/>
<circle cx="613.9" cy="259.3" r="0.85"/>
<circle cx="618.0" cy="261.6" r="1.33"/>
<circle cx="605.0" cy="280.0" r="1.14"/>
<circle cx="630.7" cy="272.3" r="0.76"/>
<circle cx="628.6" cy="261.7" r="1.16"/>
<circle cx="621.3" cy="277.0" r="0.76"/>
<circle cx="620.7" cy="252.7" r="0.85"/>
<circle cx="637.0" cy="269.7" r="1.20"/>
<circle cx="628.8" cy="265.2" r="1.03"/>
<circle cx="631.5" cy="259.8" r="1.45"/>
<circle cx="621.6" cy="263.9" r="0.74"/>
<circle cx="619.3" cy="270.7" r="0.80"/>
<circle cx="641.4" cy="268.8" r="0.87"/>
<circle cx="616.2" cy="267.1" r="1.24"/>
<circle cx="621.1" cy="261.4" r="0.80"/>
<circle cx="631.4" cy="262.1" r="0.75"/>
<circle cx="649.7" cy="270.4" r="1.11"/>
<circle cx="644.2" cy="259.0" r="0.94"/>
<circle cx="610.8" cy="269.6" r="0.85"/>
<circle cx="633.0" cy="256.4" r="0.69"/>
<circle cx="620.1" cy="272.6" r="0.77"/>
<circle cx="652.2" cy="254.0" r="1.08"/>
<circle cx="644.5" cy="257.3" r="1.11"/>
<circle cx="645.5" cy="280.6" r="1.43"/>
<circle cx="617.3" cy="266.4" r="0.71"/>
<circle cx="611.2" cy="253.5" r="0.98"/>
<circle cx="624.8" cy="274.7" r="1.32"/>
<circle cx="633.7" cy="269.8" r="1.20"/>
<circle cx="650.8" cy="267.9" r="0.92"/>
<circle cx="635.6" cy="256.5" r="0.79"/>
<circle cx="634.9" cy="264.6" r="0.87"/>
<circle cx="629.9" cy="250.0" r="1.19"/>
<circle cx="622.5" cy="275.1" r="1.27"/>
<circle cx="625.5" cy="266.5" r="1.05"/>
<circle cx="630.3" cy="269.2" r="0.98"/>
<circle cx="652.4" cy="271.8" r="0.89"/>
<circle cx="645.1" cy="256.4" r="0.66"/>
<circle cx="647.0" cy="255.6" r="1.10"/>
<circle cx="639.4" cy="258.1" r="0.67"/>
<circle cx="635.1" cy="269.6" r="1.38"/>
<circle cx="631.9" cy="260.6" r="0.95"/>
<circle cx="635.7" cy="267.8" r="0.95"/>
<circle cx="622.9" cy="266.4" r="1.21"/>
<circle cx="630.2" cy="280.8" r="1.06"/>
<circle cx="609.9" cy="269.9" r="0.94"/>
<circle cx="628.6" cy="268.2" r="0.90"/>
<circle cx="630.8" cy="277.0" r="0.95"/>
<circle cx="626.3" cy="258.0" r="0.71"/>
<circle cx="624.7" cy="271.6" r="1.42"/>
<circle cx="631.6" cy="269.3" r="0.78"/>
<circle cx="628.3" cy="284.3" r="1.44"/>
<circle cx="629.5" cy="266.6" r="1.06"/>
<circle cx="623.7" cy="262.2" r="1.01"/>
<circle cx="629.0" cy="263.7" r="1.26"/>
<circle cx="620.3" cy="251.3" r="1.06"/>
<circle cx="614.4" cy="266.3" r="0.77"/>
<circle cx="619.8" cy="263.6" r="0.92"/>
<circle cx="635.8" cy="265.4" r="0.70"/>
<circle cx="620.2" cy="262.6" r="1.12"/>
<circle cx="619.9" cy="264.0" r="0.76"/>
<circle cx="613.7" cy="257.3" r="1.24"/>
<circle cx="612.7" cy="263.6" r="0.67"/>
<circle cx="621.2" cy="277.5" r="0.97"/>
<circle cx="639.1" cy="269.2" r="1.36"/>
<circle cx="633.8" cy="266.3" r="1.07"/>
<circle cx="637.4" cy="258.4" r="0.86"/>
<circle cx="629.5" cy="260.6" r="0.90"/>
<circle cx="609.4" cy="255.2" r="1.38"/>
<circle cx="624.5" cy="269.7" r="0.96"/>
<circle cx="636.0" cy="268.5" r="1.30"/>
<circle cx="638.6" cy="263.3" r="0.71"/>
<circle cx="626.8" cy="243.5" r="1.33"/>
<circle cx="611.6" cy="270.9" r="1.30"/>
<circle cx="628.4" cy="254.9" r="1.50"/>
<circle cx="630.6" cy="258.4" r="1.02"/>
<circle cx="639.0" cy="268.2" r="1.34"/>
<circle cx="614.0" cy="264.9" r="1.31"/>
<circle cx="638.7" cy="268.0" r="1.06"/>
<circle cx="610.2" cy="264.6" r="1.45"/>
<circle cx="633.8" cy="254.7" r="1.23"/>
<circle cx="593.9" cy="258.5" r="1.16"/>
</g>
<g fill="#7d7aa8" filter="url(#bl07)">
<circle cx="606.8" cy="276.9" r="0.53"/>
<circle cx="606.8" cy="282.4" r="0.67"/>
<circle cx="658.5" cy="252.2" r="0.61"/>
<circle cx="610.6" cy="280.1" r="0.41"/>
<circle cx="629.1" cy="232.0" r="0.62"/>
<circle cx="659.6" cy="267.3" r="0.61"/>
<circle cx="614.3" cy="272.4" r="0.66"/>
<circle cx="606.4" cy="265.1" r="0.42"/>
<circle cx="632.7" cy="275.0" r="0.46"/>
<circle cx="653.9" cy="268.0" r="0.43"/>
<circle cx="627.8" cy="250.3" r="0.69"/>
<circle cx="597.7" cy="257.7" r="0.44"/>
<circle cx="650.9" cy="283.0" r="0.42"/>
<circle cx="645.7" cy="241.4" r="0.49"/>
<circle cx="612.3" cy="288.8" r="0.69"/>
<circle cx="649.5" cy="237.9" r="0.70"/>
<circle cx="639.7" cy="290.4" r="0.55"/>
<circle cx="624.3" cy="235.0" r="0.47"/>
<circle cx="623.0" cy="286.5" r="0.46"/>
<circle cx="636.9" cy="238.3" r="0.57"/>
<circle cx="632.2" cy="281.1" r="0.51"/>
<circle cx="625.8" cy="282.4" r="0.49"/>
<circle cx="624.2" cy="276.6" r="0.60"/>
<circle cx="608.9" cy="240.7" r="0.68"/>
<circle cx="649.1" cy="281.3" r="0.52"/>
<circle cx="628.3" cy="235.2" r="0.56"/>
<circle cx="618.0" cy="262.1" r="0.60"/>
<circle cx="598.7" cy="270.8" r="0.46"/>
<circle cx="622.3" cy="260.4" r="0.62"/>
<circle cx="617.0" cy="258.8" r="0.58"/>
</g>
</g>
<ellipse cx="628.9" cy="260.5" rx="36.9" ry="35.7" fill="none" stroke="#7a808c" stroke-opacity="0.8" stroke-width="0.9"/>
<line x1="568.50" y1="377.05" x2="568.50" y2="307.00" stroke="#222" stroke-width="1.3"/>
<line x1="564.00" y1="376.40" x2="568.50" y2="376.40" stroke="#222" stroke-width="1.3"/>
<text x="562.20" y="378.63" font-size="6.2" font-weight="bold" text-anchor="end" fill="#1a1a1a" stroke="#1a1a1a" stroke-width="0.22" textLength="4.2" lengthAdjust="spacingAndGlyphs">0</text>
<line x1="564.00" y1="353.26" x2="568.50" y2="353.26" stroke="#222" stroke-width="1.3"/>
<text x="562.20" y="355.50" font-size="6.2" font-weight="bold" text-anchor="end" fill="#1a1a1a" stroke="#1a1a1a" stroke-width="0.22" textLength="9.3" lengthAdjust="spacingAndGlyphs">50</text>
<line x1="564.00" y1="330.13" x2="568.50" y2="330.13" stroke="#222" stroke-width="1.3"/>
<text x="562.20" y="332.36" font-size="6.2" font-weight="bold" text-anchor="end" fill="#1a1a1a" stroke="#1a1a1a" stroke-width="0.22" textLength="12.7" lengthAdjust="spacingAndGlyphs">100</text>
<line x1="564.00" y1="307.00" x2="568.50" y2="307.00" stroke="#222" stroke-width="1.3"/>
<text x="562.20" y="309.23" font-size="6.2" font-weight="bold" text-anchor="end" fill="#1a1a1a" stroke="#1a1a1a" stroke-width="0.22" textLength="12.7" lengthAdjust="spacingAndGlyphs">150</text>
<line x1="564.00" y1="376.40" x2="641.00" y2="376.40" stroke="#222" stroke-width="1.3"/>
<rect x="579.00" y="334.29" width="21.20" height="42.11" fill="#d4d4d4" stroke="#bdbdbd" stroke-width="0.7"/>
<rect x="609.70" y="319.49" width="21.00" height="56.91" fill="#808080" stroke="#555" stroke-width="0.7"/>
<line x1="589.00" y1="334.29" x2="589.00" y2="331.52" stroke="#c4c4c4" stroke-width="0.8"/>
<line x1="584.00" y1="331.52" x2="594.00" y2="331.52" stroke="#c4c4c4" stroke-width="0.8"/>
<line x1="620.20" y1="319.49" x2="620.20" y2="313.01" stroke="#444" stroke-width="0.9"/>
<line x1="615.20" y1="313.01" x2="625.20" y2="313.01" stroke="#444" stroke-width="0.9"/>
<polyline points="589.00,331.00 589.00,309.30 620.20,309.30 620.20,313.00" fill="none" stroke="#444" stroke-width="0.7"/>
<text x="605.00" y="311.00" font-size="7.5" font-weight="bold" text-anchor="middle" fill="#1a1a1a" stroke="#1a1a1a" stroke-width="0.26">*</text>
<line x1="589.00" y1="376.40" x2="589.00" y2="379.50" stroke="#222" stroke-width="1.0"/>
<line x1="620.20" y1="376.40" x2="620.20" y2="379.50" stroke="#222" stroke-width="1.0"/>
<text x="589.00" y="384.30" font-size="5.6" font-weight="bold" text-anchor="middle" fill="#1a1a1a" stroke="#1a1a1a" stroke-width="0.20" textLength="21" lengthAdjust="spacingAndGlyphs">Vector</text>
<text x="620.00" y="384.30" font-size="5.6" font-weight="bold" text-anchor="middle" fill="#1a1a1a" stroke="#1a1a1a" stroke-width="0.20" textLength="24.2" lengthAdjust="spacingAndGlyphs">WNT7B</text>
<text x="544.20" y="341.60" font-size="7.6" font-weight="bold" text-anchor="middle" fill="#1a1a1a" stroke="#1a1a1a" stroke-width="0.27" textLength="40" lengthAdjust="spacingAndGlyphs" transform="rotate(-90 544.20 341.60)">Colony numbers</text>
<text x="1.30" y="426.70" font-size="10" font-weight="bold" text-anchor="start" fill="#1a1a1a" stroke="#1a1a1a" stroke-width="0.35">I</text>
<line x1="26.70" y1="552.25" x2="26.70" y2="429.95" stroke="#222" stroke-width="1.3"/>
<line x1="23.70" y1="551.60" x2="26.70" y2="551.60" stroke="#222" stroke-width="1.3"/>
<text x="22.90" y="554.62" font-size="8.4" font-weight="bold" text-anchor="end" fill="#1a1a1a" stroke="#1a1a1a" stroke-width="0.29" textLength="11" lengthAdjust="spacingAndGlyphs">0.0</text>
<line x1="23.70" y1="511.05" x2="26.70" y2="511.05" stroke="#222" stroke-width="1.3"/>
<text x="22.90" y="514.07" font-size="8.4" font-weight="bold" text-anchor="end" fill="#1a1a1a" stroke="#1a1a1a" stroke-width="0.29" textLength="11" lengthAdjust="spacingAndGlyphs">0.5</text>
<line x1="23.70" y1="470.50" x2="26.70" y2="470.50" stroke="#222" stroke-width="1.3"/>
<text x="22.90" y="473.52" font-size="8.4" font-weight="bold" text-anchor="end" fill="#1a1a1a" stroke="#1a1a1a" stroke-width="0.29" textLength="11" lengthAdjust="spacingAndGlyphs">1.0</text>
<line x1="23.70" y1="429.95" x2="26.70" y2="429.95" stroke="#222" stroke-width="1.3"/>
<text x="22.90" y="432.97" font-size="8.4" font-weight="bold" text-anchor="end" fill="#1a1a1a" stroke="#1a1a1a" stroke-width="0.29" textLength="11" lengthAdjust="spacingAndGlyphs">1.5</text>
<line x1="23.70" y1="551.60" x2="95.00" y2="551.60" stroke="#222" stroke-width="1.3"/>
<rect x="34.30" y="470.50" width="13.10" height="81.10" fill="#d4d4d4" stroke="#9a9a9a" stroke-width="0.8"/>
<rect x="54.50" y="522.00" width="13.00" height="29.60" fill="#808080" stroke="#555" stroke-width="0.8"/>
<rect x="74.50" y="515.92" width="13.00" height="35.68" fill="#5f5f5f" stroke="#333" stroke-width="0.8"/>
<line x1="61.00" y1="522.00" x2="61.00" y2="518.35" stroke="#222" stroke-width="0.8"/>
<line x1="57.50" y1="518.35" x2="64.50" y2="518.35" stroke="#222" stroke-width="0.8"/>
<line x1="81.00" y1="515.92" x2="81.00" y2="511.05" stroke="#222" stroke-width="0.8"/>
<line x1="77.50" y1="511.05" x2="84.50" y2="511.05" stroke="#222" stroke-width="0.8"/>
<polyline points="40.85,468.30 40.85,461.40 61.00,461.40 61.00,516.50" fill="none" stroke="#555" stroke-width="0.9"/>
<polyline points="40.85,458.80 40.85,452.40 81.00,452.40 81.00,510.50" fill="none" stroke="#555" stroke-width="0.9"/>
<text x="50.80" y="462.60" font-size="8" font-weight="bold" text-anchor="middle" fill="#1a1a1a" stroke="#1a1a1a" stroke-width="0.28">****</text>
<text x="61.00" y="452.30" font-size="8" font-weight="bold" text-anchor="middle" fill="#1a1a1a" stroke="#1a1a1a" stroke-width="0.28">****</text>
<line x1="40.85" y1="551.60" x2="40.85" y2="556.90" stroke="#222" stroke-width="1.2"/>
<line x1="61.00" y1="551.60" x2="61.00" y2="556.90" stroke="#222" stroke-width="1.2"/>
<line x1="81.00" y1="551.60" x2="81.00" y2="556.90" stroke="#222" stroke-width="1.2"/>
<text x="42.95" y="564.40" font-size="6.6" font-weight="bold" text-anchor="end" fill="#1a1a1a" font-style="italic" stroke="#1a1a1a" stroke-width="0.23" transform="rotate(-53 42.95 564.40)">NC</text>
<text x="63.10" y="564.40" font-size="6.6" font-weight="bold" text-anchor="end" fill="#1a1a1a" font-style="italic" stroke="#1a1a1a" stroke-width="0.23" transform="rotate(-53 63.10 564.40)">siRNA-504</text>
<text x="83.10" y="564.40" font-size="6.6" font-weight="bold" text-anchor="end" fill="#1a1a1a" font-style="italic" stroke="#1a1a1a" stroke-width="0.23" transform="rotate(-53 83.10 564.40)">siRNA-912</text>
<text x="6.80" y="491.00" font-size="9" font-weight="bold" text-anchor="middle" fill="#1a1a1a" stroke="#1a1a1a" stroke-width="0.32" textLength="87" lengthAdjust="spacingAndGlyphs" transform="rotate(-90 6.80 491.00)">Relative mRNA level</text>
<text x="112.00" y="429.50" font-size="10" font-weight="bold" text-anchor="start" fill="#1a1a1a" stroke="#1a1a1a" stroke-width="0.35">J</text>
<text x="147.60" y="441.60" font-size="8.6" font-weight="bold" text-anchor="start" fill="#1a1a1a" stroke="#1a1a1a" stroke-width="0.30" transform="rotate(-52 147.60 441.60)">NC</text>
<text x="171.50" y="443.00" font-size="7.0" font-weight="bold" text-anchor="start" fill="#1a1a1a" stroke="#1a1a1a" stroke-width="0.24" textLength="33.5" lengthAdjust="spacingAndGlyphs" transform="rotate(-52 171.50 443.00)">siRNA-504</text>
<text x="199.10" y="443.00" font-size="7.0" font-weight="bold" text-anchor="start" fill="#1a1a1a" stroke="#1a1a1a" stroke-width="0.24" textLength="33.5" lengthAdjust="spacingAndGlyphs" transform="rotate(-52 199.10 443.00)">siRNA-912</text>
<text x="93.00" y="457.80" font-size="9" font-weight="bold" text-anchor="start" fill="#1a1a1a" stroke="#1a1a1a" stroke-width="0.32" textLength="30.8" lengthAdjust="spacingAndGlyphs">WNT7B</text>
<text x="93.00" y="473.30" font-size="9" font-weight="bold" text-anchor="start" fill="#1a1a1a" stroke="#1a1a1a" stroke-width="0.32" textLength="31" lengthAdjust="spacingAndGlyphs">GAPDH</text>
<text x="220.20" y="455.90" font-size="9" font-weight="bold" text-anchor="start" fill="#1a1a1a" stroke="#1a1a1a" stroke-width="0.32" textLength="26" lengthAdjust="spacingAndGlyphs">42kDa</text>
<text x="220.20" y="474.80" font-size="9" font-weight="bold" text-anchor="start" fill="#1a1a1a" stroke="#1a1a1a" stroke-width="0.32" textLength="26" lengthAdjust="spacingAndGlyphs">36kDa</text>
<text x="171.60" y="489.40" font-size="10" font-weight="bold" text-anchor="middle" fill="#1a1a1a" stroke="#1a1a1a" stroke-width="0.35">HN6</text>
<clipPath id="cl5"><rect x="126.6" y="443.9" width="89.20000000000002" height="16.700000000000045"/></clipPath>
<g clip-path="url(#cl5)">
<rect x="126.60" y="443.90" width="89.20" height="16.70" fill="#e4e4e4"/>
<rect x="130.40" y="451.00" width="24.70" height="4.80" rx="2.40" fill="#141414" opacity="1" filter="url(#bl1)"/>
<rect x="158.90" y="452.00" width="25.60" height="3.40" rx="1.70" fill="#4a4a4a" opacity="1" filter="url(#bl1)"/>
<rect x="188.30" y="450.60" width="25.70" height="4.40" rx="2.20" fill="#333333" opacity="1" filter="url(#bl1)"/>
</g>
<rect x="126.6" y="443.9" width="89.20000000000002" height="16.700000000000045" fill="none" stroke="#333" stroke-width="1.0"/>
<clipPath id="cl6"><rect x="126.6" y="463.4" width="91.1" height="13.700000000000045"/></clipPath>
<g clip-path="url(#cl6)">
<rect x="126.60" y="463.40" width="91.10" height="13.70" fill="#dcdcdc"/>
<rect x="130.40" y="466.50" width="25.60" height="8.10" rx="3.00" fill="#080808" opacity="1" filter="url(#bl1)"/>
<rect x="159.50" y="467.00" width="25.00" height="7.00" rx="3.00" fill="#262626" opacity="1" filter="url(#bl1)"/>
<rect x="186.00" y="465.80" width="23.20" height="7.70" rx="3.00" fill="#050505" opacity="1" filter="url(#bl1)"/>
</g>
<rect x="126.6" y="463.4" width="91.1" height="13.700000000000045" fill="none" stroke="#333" stroke-width="1.0"/>
<line x1="152.40" y1="564.50" x2="152.40" y2="500.79" stroke="#222" stroke-width="1.2"/>
<line x1="147.40" y1="563.90" x2="152.40" y2="563.90" stroke="#222" stroke-width="1.2"/>
<text x="146.00" y="566.13" font-size="6.2" font-weight="700" text-anchor="end" fill="#1a1a1a" textLength="13.5" lengthAdjust="spacingAndGlyphs">0.0</text>
<line x1="147.40" y1="542.87" x2="152.40" y2="542.87" stroke="#222" stroke-width="1.2"/>
<text x="146.00" y="545.10" font-size="6.2" font-weight="700" text-anchor="end" fill="#1a1a1a" textLength="13.5" lengthAdjust="spacingAndGlyphs">0.5</text>
<line x1="147.40" y1="521.83" x2="152.40" y2="521.83" stroke="#222" stroke-width="1.2"/>
<text x="146.00" y="524.06" font-size="6.2" font-weight="700" text-anchor="end" fill="#1a1a1a" textLength="13.5" lengthAdjust="spacingAndGlyphs">1.0</text>
<line x1="147.40" y1="500.79" x2="152.40" y2="500.79" stroke="#222" stroke-width="1.2"/>
<text x="146.00" y="503.03" font-size="6.2" font-weight="700" text-anchor="end" fill="#1a1a1a" textLength="13.5" lengthAdjust="spacingAndGlyphs">1.5</text>
<line x1="147.40" y1="563.90" x2="241.10" y2="563.90" stroke="#222" stroke-width="1.2"/>
<rect x="161.30" y="511.10" width="17.70" height="52.80" fill="#d4d4d4" stroke="#777" stroke-width="0.8"/>
<rect x="188.30" y="532.98" width="17.40" height="30.92" fill="#808080" stroke="#444" stroke-width="0.8"/>
<rect x="215.10" y="537.61" width="17.60" height="26.29" fill="#5f5f5f" stroke="#333" stroke-width="0.8"/>
<line x1="170.15" y1="511.10" x2="170.15" y2="508.79" stroke="#222" stroke-width="0.8"/>
<line x1="166.65" y1="508.79" x2="173.65" y2="508.79" stroke="#222" stroke-width="0.8"/>
<line x1="197.00" y1="532.98" x2="197.00" y2="531.09" stroke="#222" stroke-width="0.8"/>
<line x1="193.50" y1="531.09" x2="200.50" y2="531.09" stroke="#222" stroke-width="0.8"/>
<line x1="223.90" y1="537.61" x2="223.90" y2="535.29" stroke="#222" stroke-width="0.8"/>
<line x1="220.40" y1="535.29" x2="227.40" y2="535.29" stroke="#222" stroke-width="0.8"/>
<polyline points="170.15,507.30 170.15,504.80 197.00,504.80 197.00,531.00" fill="none" stroke="#555" stroke-width="0.8"/>
<polyline points="170.15,503.80 170.15,501.20 223.90,501.20 223.90,535.30" fill="none" stroke="#555" stroke-width="0.8"/>
<text x="183.80" y="507.80" font-size="8.5" font-weight="normal" text-anchor="middle" fill="#333">***</text>
<text x="196.50" y="502.60" font-size="8.5" font-weight="normal" text-anchor="middle" fill="#333">***</text>
<line x1="170.15" y1="563.90" x2="170.15" y2="566.90" stroke="#222" stroke-width="1.0"/>
<line x1="197.00" y1="563.90" x2="197.00" y2="566.90" stroke="#222" stroke-width="1.0"/>
<line x1="223.90" y1="563.90" x2="223.90" y2="566.90" stroke="#222" stroke-width="1.0"/>
<text x="171.95" y="572.70" font-size="5.5" font-weight="bold" text-anchor="end" fill="#1a1a1a" stroke="#1a1a1a" stroke-width="0.19" textLength="10" lengthAdjust="spacingAndGlyphs" transform="rotate(-23 171.95 572.70)">NC</text>
<text x="198.80" y="572.70" font-size="5.5" font-weight="bold" text-anchor="end" fill="#1a1a1a" stroke="#1a1a1a" stroke-width="0.19" textLength="31" lengthAdjust="spacingAndGlyphs" transform="rotate(-23 198.80 572.70)">siRNA-504</text>
<text x="225.70" y="572.70" font-size="5.5" font-weight="bold" text-anchor="end" fill="#1a1a1a" stroke="#1a1a1a" stroke-width="0.19" textLength="31" lengthAdjust="spacingAndGlyphs" transform="rotate(-23 225.70 572.70)">siRNA-912</text>
<text x="125.30" y="532.40" font-size="7.2" font-weight="700" text-anchor="middle" fill="#1a1a1a" textLength="55" lengthAdjust="spacingAndGlyphs" transform="rotate(-90 125.30 532.40)">Relative proteinexpression</text>
<text x="264.50" y="429.60" font-size="10" font-weight="bold" text-anchor="start" fill="#1a1a1a" stroke="#1a1a1a" stroke-width="0.35">K</text>
<line x1="287.00" y1="565.65" x2="287.00" y2="460.00" stroke="#222" stroke-width="1.3"/>
<line x1="284.00" y1="565.00" x2="287.00" y2="565.00" stroke="#222" stroke-width="1.3"/>
<text x="283.20" y="568.17" font-size="8.8" font-weight="bold" text-anchor="end" fill="#1a1a1a" stroke="#1a1a1a" stroke-width="0.31">0.0</text>
<line x1="284.00" y1="538.75" x2="287.00" y2="538.75" stroke="#222" stroke-width="1.3"/>
<text x="283.20" y="541.92" font-size="8.8" font-weight="bold" text-anchor="end" fill="#1a1a1a" stroke="#1a1a1a" stroke-width="0.31">0.5</text>
<line x1="284.00" y1="512.50" x2="287.00" y2="512.50" stroke="#222" stroke-width="1.3"/>
<text x="283.20" y="515.67" font-size="8.8" font-weight="bold" text-anchor="end" fill="#1a1a1a" stroke="#1a1a1a" stroke-width="0.31">1.0</text>
<line x1="284.00" y1="486.25" x2="287.00" y2="486.25" stroke="#222" stroke-width="1.3"/>
<text x="283.20" y="489.42" font-size="8.8" font-weight="bold" text-anchor="end" fill="#1a1a1a" stroke="#1a1a1a" stroke-width="0.31">1.5</text>
<line x1="284.00" y1="460.00" x2="287.00" y2="460.00" stroke="#222" stroke-width="1.3"/>
<text x="283.20" y="463.17" font-size="8.8" font-weight="bold" text-anchor="end" fill="#1a1a1a" stroke="#1a1a1a" stroke-width="0.31">2.0</text>
<line x1="284.00" y1="565.00" x2="408.75" y2="565.00" stroke="#222" stroke-width="1.3"/>
<line x1="287.00" y1="565.00" x2="287.00" y2="568.50" stroke="#222" stroke-width="1.3"/>
<text x="286.50" y="578.00" font-size="8.8" font-weight="bold" text-anchor="middle" fill="#1a1a1a" stroke="#1a1a1a" stroke-width="0.31">0</text>
<line x1="311.35" y1="565.00" x2="311.35" y2="568.50" stroke="#222" stroke-width="1.3"/>
<text x="310.85" y="578.00" font-size="8.8" font-weight="bold" text-anchor="middle" fill="#1a1a1a" stroke="#1a1a1a" stroke-width="0.31">1</text>
<line x1="335.70" y1="565.00" x2="335.70" y2="568.50" stroke="#222" stroke-width="1.3"/>
<text x="335.20" y="578.00" font-size="8.8" font-weight="bold" text-anchor="middle" fill="#1a1a1a" stroke="#1a1a1a" stroke-width="0.31">2</text>
<line x1="360.05" y1="565.00" x2="360.05" y2="568.50" stroke="#222" stroke-width="1.3"/>
<text x="359.55" y="578.00" font-size="8.8" font-weight="bold" text-anchor="middle" fill="#1a1a1a" stroke="#1a1a1a" stroke-width="0.31">3</text>
<line x1="384.40" y1="565.00" x2="384.40" y2="568.50" stroke="#222" stroke-width="1.3"/>
<text x="383.90" y="578.00" font-size="8.8" font-weight="bold" text-anchor="middle" fill="#1a1a1a" stroke="#1a1a1a" stroke-width="0.31">4</text>
<line x1="408.75" y1="565.00" x2="408.75" y2="568.50" stroke="#222" stroke-width="1.3"/>
<text x="408.25" y="578.00" font-size="8.8" font-weight="bold" text-anchor="middle" fill="#1a1a1a" stroke="#1a1a1a" stroke-width="0.31">5</text>
<text x="347.50" y="589.00" font-size="9.2" font-weight="bold" text-anchor="middle" fill="#1a1a1a" stroke="#1a1a1a" stroke-width="0.32">Day</text>
<text x="266.00" y="512.50" font-size="8.5" font-weight="bold" text-anchor="middle" fill="#1a1a1a" stroke="#1a1a1a" stroke-width="0.30" textLength="68.8" lengthAdjust="spacingAndGlyphs" transform="rotate(-90 266.00 512.50)">OD value(450nm)</text>
<line x1="311.35" y1="553.45" x2="311.35" y2="555.55" stroke="#9ccaf5" stroke-width="0.9"/>
<line x1="309.55" y1="553.45" x2="313.15" y2="553.45" stroke="#9ccaf5" stroke-width="0.9"/>
<line x1="309.55" y1="555.55" x2="313.15" y2="555.55" stroke="#9ccaf5" stroke-width="0.9"/>
<line x1="335.70" y1="540.33" x2="335.70" y2="543.48" stroke="#9ccaf5" stroke-width="0.9"/>
<line x1="333.90" y1="540.33" x2="337.50" y2="540.33" stroke="#9ccaf5" stroke-width="0.9"/>
<line x1="333.90" y1="543.48" x2="337.50" y2="543.48" stroke="#9ccaf5" stroke-width="0.9"/>
<line x1="360.05" y1="523.00" x2="360.05" y2="528.25" stroke="#9ccaf5" stroke-width="0.9"/>
<line x1="358.25" y1="523.00" x2="361.85" y2="523.00" stroke="#9ccaf5" stroke-width="0.9"/>
<line x1="358.25" y1="528.25" x2="361.85" y2="528.25" stroke="#9ccaf5" stroke-width="0.9"/>
<line x1="384.40" y1="471.55" x2="384.40" y2="485.20" stroke="#9ccaf5" stroke-width="0.9"/>
<line x1="382.60" y1="471.55" x2="386.20" y2="471.55" stroke="#9ccaf5" stroke-width="0.9"/>
<line x1="382.60" y1="485.20" x2="386.20" y2="485.20" stroke="#9ccaf5" stroke-width="0.9"/>
<line x1="311.35" y1="553.45" x2="311.35" y2="555.55" stroke="#f5a0a0" stroke-width="0.9"/>
<line x1="309.55" y1="553.45" x2="313.15" y2="553.45" stroke="#f5a0a0" stroke-width="0.9"/>
<line x1="309.55" y1="555.55" x2="313.15" y2="555.55" stroke="#f5a0a0" stroke-width="0.9"/>
<line x1="335.70" y1="541.38" x2="335.70" y2="544.52" stroke="#f5a0a0" stroke-width="0.9"/>
<line x1="333.90" y1="541.38" x2="337.50" y2="541.38" stroke="#f5a0a0" stroke-width="0.9"/>
<line x1="333.90" y1="544.52" x2="337.50" y2="544.52" stroke="#f5a0a0" stroke-width="0.9"/>
<line x1="360.05" y1="526.15" x2="360.05" y2="531.40" stroke="#f5a0a0" stroke-width="0.9"/>
<line x1="358.25" y1="526.15" x2="361.85" y2="526.15" stroke="#f5a0a0" stroke-width="0.9"/>
<line x1="358.25" y1="531.40" x2="361.85" y2="531.40" stroke="#f5a0a0" stroke-width="0.9"/>
<line x1="384.40" y1="498.32" x2="384.40" y2="507.77" stroke="#f5a0a0" stroke-width="0.9"/>
<line x1="382.60" y1="498.32" x2="386.20" y2="498.32" stroke="#f5a0a0" stroke-width="0.9"/>
<line x1="382.60" y1="507.77" x2="386.20" y2="507.77" stroke="#f5a0a0" stroke-width="0.9"/>
<line x1="311.35" y1="554.50" x2="311.35" y2="556.60" stroke="#9be09b" stroke-width="0.9"/>
<line x1="309.55" y1="554.50" x2="313.15" y2="554.50" stroke="#9be09b" stroke-width="0.9"/>
<line x1="309.55" y1="556.60" x2="313.15" y2="556.60" stroke="#9be09b" stroke-width="0.9"/>
<line x1="335.70" y1="546.10" x2="335.70" y2="549.25" stroke="#9be09b" stroke-width="0.9"/>
<line x1="333.90" y1="546.10" x2="337.50" y2="546.10" stroke="#9be09b" stroke-width="0.9"/>
<line x1="333.90" y1="549.25" x2="337.50" y2="549.25" stroke="#9be09b" stroke-width="0.9"/>
<line x1="360.05" y1="535.60" x2="360.05" y2="538.75" stroke="#9be09b" stroke-width="0.9"/>
<line x1="358.25" y1="535.60" x2="361.85" y2="535.60" stroke="#9be09b" stroke-width="0.9"/>
<line x1="358.25" y1="538.75" x2="361.85" y2="538.75" stroke="#9be09b" stroke-width="0.9"/>
<line x1="384.40" y1="517.75" x2="384.40" y2="524.05" stroke="#9be09b" stroke-width="0.9"/>
<line x1="382.60" y1="517.75" x2="386.20" y2="517.75" stroke="#9be09b" stroke-width="0.9"/>
<line x1="382.60" y1="524.05" x2="386.20" y2="524.05" stroke="#9be09b" stroke-width="0.9"/>
<polyline points="311.35,555.55 335.70,547.67 360.05,537.17 384.40,520.90" fill="none" stroke="#12c212" stroke-width="1.5"/>
<polyline points="311.35,554.50 335.70,542.95 360.05,528.77 384.40,503.05" fill="none" stroke="#fc0808" stroke-width="1.5"/>
<polyline points="311.35,554.50 335.70,541.90 360.05,525.62 384.40,478.38" fill="none" stroke="#0a80ff" stroke-width="1.5"/>
<polygon points="311.35,552.80 314.10,557.55 308.60,557.55" fill="#12c212"/>
<polygon points="335.70,544.92 338.45,549.67 332.95,549.67" fill="#12c212"/>
<polygon points="360.05,534.42 362.80,539.17 357.30,539.17" fill="#12c212"/>
<polygon points="384.40,518.15 387.15,522.90 381.65,522.90" fill="#12c212"/>
<rect x="309.05" y="552.20" width="4.60" height="4.60" fill="#fc0808"/>
<rect x="333.40" y="540.65" width="4.60" height="4.60" fill="#fc0808"/>
<rect x="357.75" y="526.48" width="4.60" height="4.60" fill="#fc0808"/>
<rect x="382.10" y="500.75" width="4.60" height="4.60" fill="#fc0808"/>
<circle cx="311.35" cy="554.50" r="2.60" fill="#0a80ff"/>
<circle cx="335.70" cy="541.90" r="2.60" fill="#0a80ff"/>
<circle cx="360.05" cy="525.62" r="2.60" fill="#0a80ff"/>
<circle cx="384.40" cy="478.38" r="2.60" fill="#0a80ff"/>
<line x1="302.00" y1="463.75" x2="318.00" y2="463.75" stroke="#0a80ff" stroke-width="1.5"/>
<circle cx="310.00" cy="463.75" r="2.50" fill="#0a80ff"/>
<text x="322.50" y="467.30" font-size="9" font-weight="normal" text-anchor="start" fill="#1a1a1a">NC</text>
<line x1="302.00" y1="477.00" x2="318.00" y2="477.00" stroke="#fc0808" stroke-width="1.5"/>
<rect x="307.70" y="474.70" width="4.60" height="4.60" fill="#fc0808"/>
<text x="322.50" y="480.50" font-size="9" font-weight="normal" text-anchor="start" fill="#1a1a1a">Si504</text>
<line x1="302.00" y1="488.75" x2="318.00" y2="488.75" stroke="#12c212" stroke-width="1.5"/>
<polygon points="310.00,486.00 312.75,490.75 307.25,490.75" fill="#12c212"/>
<text x="322.50" y="492.30" font-size="9" font-weight="normal" text-anchor="start" fill="#1a1a1a">Si1102</text>
<polyline points="390.50,477.50 393.20,477.50 393.20,501.25 390.50,501.25" fill="none" stroke="#9a9a9a" stroke-width="0.8"/>
<polyline points="396.00,477.50 401.30,477.50 401.30,519.25 396.00,519.25" fill="none" stroke="#9a9a9a" stroke-width="0.8"/>
<text x="396.90" y="493.50" font-size="9" font-weight="bold" text-anchor="middle" fill="#1a1a1a" stroke="#1a1a1a" stroke-width="0.32">*</text>
<text x="407.50" y="501.00" font-size="9" font-weight="bold" text-anchor="middle" fill="#1a1a1a" stroke="#1a1a1a" stroke-width="0.32">**</text>
<text x="439.50" y="430.00" font-size="10" font-weight="bold" text-anchor="start" fill="#1a1a1a" stroke="#1a1a1a" stroke-width="0.35">L</text>
<text x="477.30" y="446.60" font-size="10" font-weight="bold" text-anchor="middle" fill="#1a1a1a" stroke="#1a1a1a" stroke-width="0.35" textLength="14.5" lengthAdjust="spacingAndGlyphs">NC</text>
<text x="561.30" y="446.60" font-size="10" font-weight="bold" text-anchor="middle" fill="#1a1a1a" stroke="#1a1a1a" stroke-width="0.35" textLength="51.4" lengthAdjust="spacingAndGlyphs">siRNA-504</text>
<text x="644.70" y="446.60" font-size="10" font-weight="bold" text-anchor="middle" fill="#1a1a1a" stroke="#1a1a1a" stroke-width="0.35" textLength="51.4" lengthAdjust="spacingAndGlyphs">siRNA-912</text>
<text x="417.50" y="487.00" font-size="9" font-weight="bold" text-anchor="start" fill="#1a1a1a" stroke="#1a1a1a" stroke-width="0.32" textLength="20.8" lengthAdjust="spacingAndGlyphs">HN6</text>
<clipPath id="pc5"><ellipse cx="477.7" cy="485.2" rx="38.3" ry="34.7"/></clipPath>
<ellipse cx="477.7" cy="485.2" rx="38.3" ry="34.7" fill="#7c808f"/>
<g clip-path="url(#pc5)">
<ellipse cx="477.7" cy="485.2" rx="35.699999999999996" ry="32.1" fill="none" stroke="#888c9b" stroke-opacity="0.6" stroke-width="1.6" filter="url(#bl05)"/>
<g fill="#68679c" filter="url(#bl07)">
<circle cx="480.8" cy="487.6" r="0.72"/>
<circle cx="497.5" cy="506.5" r="0.56"/>
<circle cx="478.6" cy="469.0" r="0.58"/>
<circle cx="460.9" cy="460.5" r="0.58"/>
<circle cx="452.0" cy="493.1" r="0.73"/>
<circle cx="508.6" cy="503.8" r="0.51"/>
<circle cx="448.2" cy="503.9" r="0.61"/>
<circle cx="463.6" cy="499.7" r="1.03"/>
<circle cx="481.2" cy="500.3" r="0.82"/>
<circle cx="504.0" cy="478.1" r="0.96"/>
<circle cx="484.0" cy="504.4" r="0.96"/>
<circle cx="514.0" cy="491.5" r="0.90"/>
<circle cx="457.6" cy="459.7" r="0.62"/>
<circle cx="473.5" cy="455.4" r="0.61"/>
<circle cx="483.4" cy="511.6" r="0.52"/>
<circle cx="466.8" cy="502.0" r="0.72"/>
<circle cx="493.1" cy="462.0" r="1.03"/>
<circle cx="514.4" cy="483.8" r="0.93"/>
<circle cx="486.9" cy="501.9" r="0.84"/>
<circle cx="465.2" cy="463.1" r="0.55"/>
<circle cx="492.0" cy="478.2" r="0.83"/>
<circle cx="503.3" cy="501.1" r="0.72"/>
<circle cx="456.7" cy="459.3" r="1.05"/>
<circle cx="461.9" cy="489.4" r="0.94"/>
<circle cx="483.7" cy="463.4" r="0.81"/>
<circle cx="488.1" cy="491.9" r="1.04"/>
<circle cx="482.1" cy="496.1" r="0.68"/>
<circle cx="496.8" cy="462.6" r="0.76"/>
<circle cx="484.0" cy="462.1" r="0.65"/>
<circle cx="460.5" cy="471.8" r="0.85"/>
<circle cx="483.2" cy="489.5" r="0.58"/>
<circle cx="466.6" cy="458.4" r="1.04"/>
<circle cx="476.7" cy="514.7" r="0.92"/>
<circle cx="456.3" cy="512.4" r="0.51"/>
<circle cx="473.1" cy="505.4" r="0.60"/>
<circle cx="483.3" cy="490.2" r="0.98"/>
<circle cx="471.4" cy="480.3" r="0.61"/>
<circle cx="484.7" cy="471.8" r="0.66"/>
<circle cx="462.4" cy="489.2" r="0.88"/>
<circle cx="494.8" cy="466.4" r="0.72"/>
<circle cx="472.2" cy="461.4" r="0.75"/>
<circle cx="446.9" cy="491.1" r="0.57"/>
<circle cx="480.4" cy="473.6" r="0.91"/>
<circle cx="464.4" cy="454.8" r="0.82"/>
<circle cx="486.8" cy="474.3" r="0.57"/>
<circle cx="493.1" cy="502.2" r="0.71"/>
<circle cx="459.3" cy="493.6" r="0.89"/>
<circle cx="478.9" cy="509.9" r="0.93"/>
<circle cx="492.6" cy="459.7" r="0.52"/>
<circle cx="500.8" cy="469.1" r="0.64"/>
<circle cx="484.2" cy="471.3" r="0.70"/>
<circle cx="487.4" cy="465.8" r="0.71"/>
<circle cx="481.4" cy="499.8" r="0.69"/>
<circle cx="456.7" cy="505.9" r="0.92"/>
<circle cx="477.8" cy="493.8" r="0.84"/>
<circle cx="452.0" cy="485.2" r="1.01"/>
<circle cx="485.9" cy="501.3" r="0.52"/>
<circle cx="470.2" cy="507.6" r="0.76"/>
<circle cx="480.5" cy="485.2" r="0.71"/>
<circle cx="467.6" cy="513.0" r="1.00"/>
<circle cx="454.5" cy="499.8" r="0.93"/>
<circle cx="463.5" cy="475.2" r="0.97"/>
<circle cx="466.1" cy="507.6" r="0.55"/>
<circle cx="488.5" cy="508.8" r="0.71"/>
<circle cx="503.2" cy="476.2" r="0.87"/>
<circle cx="494.6" cy="466.4" r="0.67"/>
<circle cx="467.5" cy="466.4" r="0.80"/>
<circle cx="462.9" cy="493.6" r="0.95"/>
<circle cx="472.7" cy="469.3" r="0.53"/>
<circle cx="463.1" cy="455.1" r="0.68"/>
<circle cx="488.3" cy="453.2" r="0.53"/>
<circle cx="459.2" cy="486.1" r="1.05"/>
<circle cx="491.0" cy="488.9" r="0.67"/>
<circle cx="471.1" cy="489.1" r="0.80"/>
<circle cx="493.3" cy="502.5" r="0.51"/>
<circle cx="446.7" cy="496.3" r="0.76"/>
<circle cx="467.6" cy="463.8" r="1.00"/>
<circle cx="472.9" cy="454.9" r="0.69"/>
<circle cx="490.6" cy="492.6" r="0.97"/>
<circle cx="469.7" cy="481.8" r="1.00"/>
<circle cx="461.5" cy="497.5" r="0.73"/>
<circle cx="463.2" cy="455.2" r="0.96"/>
<circle cx="476.8" cy="478.6" r="0.75"/>
<circle cx="487.3" cy="465.7" r="0.90"/>
<circle cx="475.1" cy="453.2" r="1.00"/>
<circle cx="454.9" cy="477.6" r="0.93"/>
<circle cx="494.0" cy="502.4" r="0.82"/>
<circle cx="501.5" cy="462.4" r="0.57"/>
<circle cx="480.8" cy="505.8" r="0.69"/>
<circle cx="445.7" cy="500.9" r="0.67"/>
<circle cx="459.7" cy="491.6" r="0.87"/>
<circle cx="486.2" cy="503.3" r="0.62"/>
<circle cx="493.4" cy="475.7" r="0.59"/>
<circle cx="502.8" cy="503.6" r="0.93"/>
<circle cx="481.2" cy="468.1" r="0.74"/>
<circle cx="486.3" cy="490.5" r="0.94"/>
<circle cx="450.5" cy="487.4" r="0.69"/>
<circle cx="447.0" cy="488.3" r="0.53"/>
<circle cx="466.5" cy="509.2" r="0.97"/>
<circle cx="481.8" cy="460.5" r="0.57"/>
<circle cx="453.7" cy="467.1" r="0.97"/>
<circle cx="444.6" cy="475.1" r="0.83"/>
<circle cx="474.9" cy="514.6" r="0.80"/>
<circle cx="450.4" cy="468.5" r="0.80"/>
<circle cx="511.7" cy="480.4" r="0.64"/>
<circle cx="470.0" cy="479.2" r="0.58"/>
<circle cx="441.6" cy="490.5" r="0.79"/>
<circle cx="500.7" cy="463.0" r="0.58"/>
<circle cx="488.3" cy="505.7" r="0.75"/>
<circle cx="487.4" cy="476.6" r="0.70"/>
<circle cx="496.2" cy="472.6" r="0.95"/>
<circle cx="456.2" cy="485.2" r="0.86"/>
<circle cx="488.3" cy="496.2" r="0.97"/>
<circle cx="473.8" cy="472.1" r="0.91"/>
<circle cx="461.5" cy="506.5" r="0.97"/>
<circle cx="507.4" cy="498.1" r="0.99"/>
<circle cx="470.4" cy="511.2" r="0.59"/>
<circle cx="482.1" cy="475.4" r="0.97"/>
<circle cx="487.0" cy="503.2" r="0.54"/>
<circle cx="470.6" cy="505.9" r="0.53"/>
<circle cx="486.5" cy="468.6" r="0.54"/>
<circle cx="454.2" cy="483.3" r="0.59"/>
<circle cx="484.0" cy="488.1" r="0.58"/>
<circle cx="501.4" cy="459.8" r="0.89"/>
<circle cx="461.6" cy="513.6" r="0.64"/>
<circle cx="450.5" cy="465.8" r="1.01"/>
<circle cx="458.7" cy="495.7" r="0.89"/>
<circle cx="495.3" cy="512.5" r="0.64"/>
<circle cx="473.7" cy="483.8" r="1.01"/>
<circle cx="494.4" cy="505.6" r="0.88"/>
<circle cx="501.3" cy="501.9" r="1.00"/>
<circle cx="447.6" cy="486.8" r="0.69"/>
<circle cx="463.1" cy="487.9" r="0.70"/>
<circle cx="466.8" cy="472.3" r="0.86"/>
<circle cx="513.3" cy="478.7" r="0.76"/>
<circle cx="455.5" cy="505.3" r="0.74"/>
<circle cx="505.5" cy="482.2" r="0.52"/>
<circle cx="464.6" cy="504.8" r="0.94"/>
<circle cx="442.0" cy="490.9" r="0.54"/>
<circle cx="453.3" cy="471.6" r="0.87"/>
<circle cx="445.8" cy="492.0" r="0.80"/>
<circle cx="509.8" cy="490.3" r="0.63"/>
<circle cx="508.2" cy="481.3" r="1.02"/>
<circle cx="497.1" cy="482.1" r="0.65"/>
<circle cx="491.3" cy="504.2" r="0.83"/>
<circle cx="468.5" cy="465.9" r="1.03"/>
<circle cx="470.4" cy="475.1" r="0.83"/>
<circle cx="496.7" cy="489.1" r="1.02"/>
<circle cx="455.8" cy="465.3" r="0.56"/>
<circle cx="449.3" cy="504.1" r="0.76"/>
<circle cx="451.6" cy="493.6" r="1.02"/>
<circle cx="466.5" cy="464.5" r="0.93"/>
<circle cx="494.9" cy="513.7" r="0.69"/>
<circle cx="449.2" cy="464.9" r="0.70"/>
<circle cx="503.3" cy="506.6" r="0.64"/>
<circle cx="473.0" cy="477.4" r="0.77"/>
<circle cx="458.7" cy="492.1" r="0.64"/>
<circle cx="479.6" cy="456.9" r="0.71"/>
<circle cx="511.0" cy="493.9" r="0.81"/>
<circle cx="488.5" cy="494.1" r="0.81"/>
<circle cx="487.5" cy="489.7" r="0.57"/>
<circle cx="488.7" cy="467.1" r="0.66"/>
<circle cx="479.1" cy="473.5" r="0.95"/>
<circle cx="513.0" cy="495.4" r="0.59"/>
<circle cx="502.1" cy="484.0" r="0.80"/>
<circle cx="483.3" cy="516.4" r="0.76"/>
<circle cx="482.2" cy="512.8" r="0.79"/>
<circle cx="491.2" cy="457.2" r="0.88"/>
<circle cx="511.5" cy="484.4" r="0.83"/>
<circle cx="480.9" cy="501.7" r="0.53"/>
<circle cx="445.6" cy="471.2" r="0.83"/>
<circle cx="465.1" cy="455.9" r="0.72"/>
<circle cx="502.4" cy="497.9" r="0.64"/>
<circle cx="483.7" cy="466.2" r="0.86"/>
<circle cx="454.9" cy="501.2" r="0.69"/>
<circle cx="499.6" cy="491.7" r="0.70"/>
<circle cx="491.8" cy="455.8" r="0.64"/>
<circle cx="476.8" cy="461.4" r="0.61"/>
<circle cx="458.7" cy="474.8" r="0.60"/>
<circle cx="512.9" cy="489.0" r="0.98"/>
<circle cx="453.4" cy="501.7" r="0.66"/>
<circle cx="469.4" cy="454.7" r="0.62"/>
<circle cx="495.1" cy="495.7" r="0.85"/>
<circle cx="467.7" cy="505.2" r="0.89"/>
<circle cx="489.5" cy="498.4" r="0.94"/>
<circle cx="490.0" cy="455.5" r="0.81"/>
<circle cx="498.2" cy="463.6" r="0.52"/>
<circle cx="465.2" cy="499.7" r="0.90"/>
<circle cx="479.6" cy="465.8" r="0.64"/>
<circle cx="444.5" cy="498.2" r="0.82"/>
<circle cx="490.5" cy="461.2" r="0.81"/>
<circle cx="461.8" cy="490.8" r="0.81"/>
<circle cx="482.5" cy="477.2" r="0.67"/>
<circle cx="453.0" cy="508.5" r="1.02"/>
<circle cx="453.0" cy="503.0" r="0.89"/>
<circle cx="478.2" cy="485.5" r="0.82"/>
<circle cx="460.5" cy="495.5" r="0.89"/>
<circle cx="458.2" cy="470.2" r="0.91"/>
<circle cx="504.4" cy="504.2" r="0.96"/>
<circle cx="482.3" cy="513.9" r="0.55"/>
<circle cx="491.5" cy="493.1" r="0.81"/>
<circle cx="440.8" cy="488.2" r="0.65"/>
<circle cx="492.8" cy="482.8" r="0.80"/>
<circle cx="493.1" cy="476.5" r="0.73"/>
<circle cx="440.9" cy="482.9" r="0.64"/>
<circle cx="493.7" cy="486.7" r="0.95"/>
<circle cx="474.8" cy="466.1" r="0.96"/>
<circle cx="454.2" cy="483.8" r="0.90"/>
<circle cx="458.3" cy="505.7" r="0.61"/>
<circle cx="497.4" cy="487.5" r="0.85"/>
<circle cx="482.1" cy="458.6" r="0.74"/>
<circle cx="448.1" cy="474.7" r="0.97"/>
<circle cx="464.9" cy="463.1" r="0.83"/>
<circle cx="492.5" cy="492.3" r="0.95"/>
<circle cx="446.9" cy="483.4" r="1.00"/>
<circle cx="476.0" cy="470.9" r="0.78"/>
<circle cx="486.0" cy="493.1" r="0.51"/>
<circle cx="480.4" cy="470.8" r="0.76"/>
<circle cx="469.6" cy="485.5" r="1.04"/>
<circle cx="467.3" cy="513.5" r="0.77"/>
<circle cx="480.3" cy="505.4" r="0.86"/>
<circle cx="472.1" cy="486.1" r="1.01"/>
<circle cx="459.7" cy="460.9" r="0.96"/>
<circle cx="473.1" cy="517.8" r="1.02"/>
<circle cx="442.6" cy="486.4" r="0.57"/>
<circle cx="450.6" cy="485.7" r="1.05"/>
<circle cx="474.0" cy="468.8" r="0.92"/>
<circle cx="471.6" cy="510.7" r="1.00"/>
<circle cx="489.5" cy="472.0" r="0.99"/>
<circle cx="503.3" cy="493.1" r="0.65"/>
<circle cx="481.5" cy="493.2" r="0.70"/>
<circle cx="487.2" cy="461.2" r="0.53"/>
<circle cx="502.4" cy="503.7" r="0.89"/>
<circle cx="475.3" cy="487.9" r="1.01"/>
<circle cx="510.5" cy="495.5" r="0.71"/>
<circle cx="493.4" cy="514.1" r="0.75"/>
<circle cx="472.3" cy="501.7" r="0.77"/>
<circle cx="485.5" cy="495.5" r="1.04"/>
<circle cx="451.1" cy="468.3" r="0.57"/>
<circle cx="467.9" cy="476.7" r="0.84"/>
<circle cx="481.4" cy="484.4" r="0.71"/>
<circle cx="465.0" cy="472.1" r="1.00"/>
<circle cx="455.8" cy="483.9" r="0.53"/>
<circle cx="498.0" cy="471.4" r="1.02"/>
<circle cx="491.8" cy="469.9" r="1.05"/>
<circle cx="490.3" cy="470.6" r="0.65"/>
<circle cx="507.3" cy="465.8" r="1.03"/>
<circle cx="468.4" cy="465.4" r="0.89"/>
<circle cx="504.6" cy="493.4" r="0.87"/>
<circle cx="456.9" cy="461.7" r="1.00"/>
<circle cx="454.5" cy="459.7" r="0.70"/>
<circle cx="488.7" cy="507.0" r="0.62"/>
<circle cx="443.4" cy="497.1" r="0.76"/>
<circle cx="487.9" cy="454.9" r="0.52"/>
<circle cx="454.3" cy="480.9" r="0.63"/>
<circle cx="454.0" cy="465.1" r="0.97"/>
<circle cx="482.9" cy="496.6" r="0.67"/>
<circle cx="476.9" cy="509.4" r="0.78"/>
<circle cx="497.9" cy="492.7" r="0.95"/>
<circle cx="499.9" cy="470.7" r="0.79"/>
<circle cx="451.1" cy="465.4" r="0.77"/>
<circle cx="454.6" cy="510.2" r="1.04"/>
<circle cx="504.8" cy="477.1" r="0.55"/>
<circle cx="466.8" cy="507.9" r="0.95"/>
<circle cx="500.3" cy="460.4" r="0.71"/>
<circle cx="487.6" cy="483.7" r="0.61"/>
<circle cx="449.4" cy="468.4" r="0.90"/>
<circle cx="480.3" cy="513.4" r="0.71"/>
<circle cx="471.0" cy="465.2" r="0.87"/>
<circle cx="441.8" cy="477.4" r="0.69"/>
<circle cx="465.7" cy="489.3" r="0.83"/>
<circle cx="508.0" cy="490.1" r="0.61"/>
<circle cx="484.2" cy="459.0" r="1.02"/>
<circle cx="475.8" cy="472.8" r="0.75"/>
<circle cx="466.2" cy="461.5" r="0.72"/>
<circle cx="506.0" cy="479.6" r="0.51"/>
<circle cx="505.3" cy="485.2" r="0.98"/>
<circle cx="481.5" cy="468.7" r="1.00"/>
<circle cx="455.1" cy="478.6" r="0.66"/>
<circle cx="492.5" cy="516.0" r="0.89"/>
<circle cx="514.2" cy="480.0" r="0.97"/>
<circle cx="500.4" cy="476.8" r="0.97"/>
<circle cx="460.7" cy="500.6" r="0.68"/>
<circle cx="458.6" cy="477.0" r="0.73"/>
<circle cx="514.1" cy="485.4" r="0.83"/>
<circle cx="502.1" cy="484.9" r="1.05"/>
<circle cx="473.6" cy="457.0" r="0.71"/>
<circle cx="479.0" cy="513.3" r="0.95"/>
<circle cx="481.0" cy="510.5" r="0.62"/>
<circle cx="464.6" cy="502.5" r="0.87"/>
<circle cx="502.4" cy="490.1" r="0.68"/>
<circle cx="502.7" cy="483.7" r="1.01"/>
<circle cx="506.1" cy="479.3" r="0.58"/>
<circle cx="487.5" cy="497.6" r="0.64"/>
<circle cx="458.6" cy="480.8" r="0.99"/>
<circle cx="467.9" cy="503.1" r="0.76"/>
<circle cx="441.5" cy="483.9" r="1.04"/>
<circle cx="458.2" cy="479.2" r="0.85"/>
<circle cx="494.1" cy="460.8" r="0.57"/>
<circle cx="491.0" cy="494.6" r="0.93"/>
<circle cx="451.6" cy="486.2" r="0.52"/>
<circle cx="510.4" cy="479.7" r="0.51"/>
<circle cx="441.0" cy="488.6" r="0.56"/>
<circle cx="475.8" cy="479.7" r="0.94"/>
<circle cx="493.9" cy="469.4" r="0.50"/>
<circle cx="496.5" cy="511.5" r="0.60"/>
<circle cx="467.3" cy="502.3" r="0.99"/>
<circle cx="453.9" cy="495.5" r="0.95"/>
<circle cx="468.5" cy="505.7" r="0.69"/>
<circle cx="501.6" cy="471.4" r="1.01"/>
<circle cx="473.9" cy="489.0" r="0.88"/>
<circle cx="475.3" cy="461.6" r="1.02"/>
<circle cx="475.1" cy="478.4" r="0.63"/>
<circle cx="488.7" cy="510.5" r="0.58"/>
<circle cx="458.5" cy="459.5" r="0.85"/>
<circle cx="477.0" cy="507.3" r="0.53"/>
<circle cx="487.4" cy="453.6" r="0.91"/>
<circle cx="488.1" cy="485.9" r="0.76"/>
<circle cx="468.8" cy="478.2" r="0.67"/>
<circle cx="494.4" cy="510.7" r="0.77"/>
<circle cx="480.3" cy="506.7" r="0.68"/>
<circle cx="472.4" cy="499.1" r="0.74"/>
<circle cx="465.2" cy="467.4" r="0.98"/>
<circle cx="485.9" cy="507.9" r="0.78"/>
<circle cx="485.5" cy="474.2" r="0.51"/>
<circle cx="495.4" cy="477.3" r="0.82"/>
<circle cx="498.9" cy="489.5" r="0.60"/>
<circle cx="507.8" cy="499.5" r="0.88"/>
<circle cx="478.4" cy="471.6" r="0.56"/>
<circle cx="482.2" cy="496.6" r="1.02"/>
<circle cx="472.8" cy="485.8" r="1.00"/>
<circle cx="508.1" cy="487.9" r="0.86"/>
<circle cx="481.4" cy="503.6" r="0.57"/>
<circle cx="466.1" cy="480.8" r="0.92"/>
<circle cx="454.9" cy="460.9" r="0.74"/>
<circle cx="494.9" cy="513.3" r="1.01"/>
<circle cx="442.1" cy="476.8" r="0.91"/>
<circle cx="468.3" cy="460.2" r="0.87"/>
<circle cx="464.1" cy="460.1" r="0.77"/>
<circle cx="469.6" cy="497.8" r="0.68"/>
<circle cx="498.2" cy="506.0" r="0.88"/>
<circle cx="500.3" cy="474.4" r="0.73"/>
<circle cx="497.4" cy="508.2" r="0.58"/>
<circle cx="492.5" cy="457.2" r="0.63"/>
<circle cx="479.7" cy="463.4" r="0.55"/>
<circle cx="467.4" cy="459.0" r="1.02"/>
<circle cx="483.5" cy="452.0" r="0.56"/>
<circle cx="495.6" cy="510.9" r="0.65"/>
<circle cx="444.2" cy="486.3" r="0.73"/>
<circle cx="497.8" cy="459.3" r="0.66"/>
<circle cx="511.6" cy="483.6" r="0.88"/>
<circle cx="460.6" cy="481.9" r="0.81"/>
<circle cx="476.9" cy="467.2" r="0.57"/>
<circle cx="492.3" cy="480.9" r="0.69"/>
<circle cx="480.6" cy="472.5" r="0.94"/>
<circle cx="453.1" cy="486.9" r="0.51"/>
<circle cx="481.4" cy="482.8" r="1.02"/>
<circle cx="465.6" cy="458.9" r="0.72"/>
<circle cx="475.0" cy="466.8" r="0.93"/>
<circle cx="485.6" cy="491.7" r="0.54"/>
<circle cx="446.7" cy="488.3" r="0.54"/>
<circle cx="502.0" cy="476.0" r="0.92"/>
<circle cx="457.4" cy="463.1" r="0.61"/>
<circle cx="451.9" cy="493.5" r="1.02"/>
<circle cx="483.5" cy="486.0" r="0.52"/>
<circle cx="473.6" cy="493.6" r="0.85"/>
<circle cx="489.1" cy="457.9" r="0.54"/>
<circle cx="457.2" cy="473.9" r="0.69"/>
<circle cx="486.8" cy="500.7" r="0.69"/>
<circle cx="489.3" cy="485.1" r="0.90"/>
<circle cx="511.3" cy="497.5" r="0.56"/>
<circle cx="507.4" cy="481.2" r="0.72"/>
<circle cx="461.1" cy="496.5" r="0.50"/>
<circle cx="487.7" cy="497.4" r="0.58"/>
<circle cx="456.5" cy="458.1" r="0.96"/>
<circle cx="454.1" cy="480.5" r="0.70"/>
<circle cx="484.0" cy="463.0" r="0.87"/>
<circle cx="476.3" cy="498.4" r="0.86"/>
<circle cx="452.0" cy="479.6" r="0.53"/>
<circle cx="459.2" cy="491.8" r="1.00"/>
<circle cx="509.0" cy="502.5" r="0.73"/>
<circle cx="463.9" cy="492.7" r="0.83"/>
<circle cx="450.4" cy="470.3" r="0.84"/>
<circle cx="489.4" cy="508.8" r="0.60"/>
<circle cx="501.1" cy="495.6" r="0.71"/>
<circle cx="498.3" cy="466.3" r="1.04"/>
<circle cx="495.4" cy="505.1" r="0.81"/>
<circle cx="483.8" cy="512.4" r="0.96"/>
<circle cx="467.9" cy="473.4" r="1.02"/>
<circle cx="478.9" cy="454.2" r="0.66"/>
<circle cx="496.3" cy="471.6" r="0.77"/>
<circle cx="468.8" cy="498.1" r="0.54"/>
<circle cx="451.4" cy="508.0" r="0.76"/>
<circle cx="471.2" cy="479.4" r="0.59"/>
<circle cx="480.0" cy="470.2" r="0.77"/>
<circle cx="474.0" cy="510.1" r="0.54"/>
<circle cx="461.7" cy="498.2" r="0.99"/>
<circle cx="447.3" cy="492.5" r="0.80"/>
<circle cx="476.9" cy="457.0" r="0.92"/>
<circle cx="462.1" cy="496.3" r="0.66"/>
<circle cx="488.1" cy="466.8" r="0.75"/>
<circle cx="477.1" cy="478.0" r="0.69"/>
<circle cx="504.7" cy="470.7" r="1.00"/>
<circle cx="505.4" cy="487.9" r="1.00"/>
<circle cx="469.5" cy="484.2" r="0.52"/>
<circle cx="483.9" cy="478.3" r="0.87"/>
<circle cx="489.4" cy="509.4" r="0.64"/>
<circle cx="484.8" cy="467.9" r="0.63"/>
<circle cx="494.8" cy="464.6" r="0.55"/>
<circle cx="477.9" cy="506.6" r="0.82"/>
<circle cx="498.4" cy="480.6" r="0.68"/>
<circle cx="449.4" cy="503.0" r="0.77"/>
<circle cx="473.5" cy="456.4" r="0.86"/>
<circle cx="460.6" cy="489.9" r="0.54"/>
<circle cx="460.7" cy="488.8" r="0.99"/>
<circle cx="474.4" cy="516.4" r="0.90"/>
<circle cx="463.4" cy="454.4" r="0.98"/>
<circle cx="486.0" cy="463.9" r="0.84"/>
<circle cx="451.2" cy="491.5" r="0.82"/>
<circle cx="452.9" cy="476.7" r="0.52"/>
<circle cx="490.3" cy="511.3" r="0.56"/>
<circle cx="494.5" cy="457.1" r="0.94"/>
<circle cx="491.7" cy="503.1" r="0.71"/>
<circle cx="465.3" cy="489.2" r="0.64"/>
<circle cx="497.4" cy="472.2" r="1.02"/>
<circle cx="465.7" cy="477.6" r="0.97"/>
<circle cx="442.1" cy="476.7" r="0.91"/>
<circle cx="473.7" cy="496.0" r="0.90"/>
<circle cx="501.1" cy="508.6" r="0.97"/>
<circle cx="506.5" cy="501.8" r="0.84"/>
<circle cx="486.6" cy="468.7" r="0.71"/>
<circle cx="469.5" cy="454.2" r="0.64"/>
<circle cx="453.7" cy="476.1" r="0.73"/>
<circle cx="500.7" cy="507.9" r="0.99"/>
<circle cx="464.7" cy="515.4" r="0.87"/>
<circle cx="502.6" cy="470.8" r="0.59"/>
<circle cx="477.6" cy="454.1" r="0.91"/>
<circle cx="452.7" cy="479.2" r="0.51"/>
<circle cx="472.1" cy="474.3" r="0.99"/>
<circle cx="499.1" cy="507.5" r="0.67"/>
<circle cx="450.0" cy="489.2" r="0.96"/>
<circle cx="501.7" cy="468.0" r="0.98"/>
<circle cx="486.2" cy="456.7" r="1.02"/>
<circle cx="462.7" cy="492.1" r="1.00"/>
<circle cx="465.3" cy="501.1" r="0.55"/>
<circle cx="498.3" cy="464.9" r="0.60"/>
<circle cx="487.8" cy="498.9" r="0.96"/>
<circle cx="490.4" cy="475.0" r="1.02"/>
<circle cx="505.4" cy="474.8" r="0.98"/>
<circle cx="455.2" cy="472.9" r="0.58"/>
<circle cx="509.6" cy="471.8" r="0.56"/>
<circle cx="491.8" cy="493.9" r="0.88"/>
<circle cx="496.0" cy="485.2" r="1.04"/>
<circle cx="460.2" cy="479.9" r="0.90"/>
<circle cx="513.3" cy="487.3" r="0.56"/>
<circle cx="460.5" cy="472.9" r="0.95"/>
<circle cx="506.0" cy="466.6" r="0.88"/>
<circle cx="490.7" cy="473.8" r="0.87"/>
<circle cx="473.7" cy="511.2" r="0.65"/>
<circle cx="442.6" cy="477.5" r="0.77"/>
<circle cx="477.3" cy="501.8" r="0.58"/>
<circle cx="452.6" cy="467.1" r="0.69"/>
<circle cx="459.1" cy="477.4" r="0.69"/>
<circle cx="511.3" cy="480.4" r="0.72"/>
<circle cx="451.2" cy="503.2" r="1.05"/>
<circle cx="475.2" cy="466.8" r="0.84"/>
<circle cx="497.4" cy="513.2" r="0.64"/>
<circle cx="489.3" cy="462.8" r="0.87"/>
<circle cx="460.5" cy="482.1" r="0.94"/>
<circle cx="449.2" cy="466.7" r="0.78"/>
<circle cx="459.6" cy="479.1" r="0.69"/>
<circle cx="504.0" cy="467.6" r="0.94"/>
<circle cx="488.6" cy="477.9" r="0.52"/>
<circle cx="476.8" cy="516.3" r="0.58"/>
<circle cx="464.9" cy="492.4" r="0.85"/>
<circle cx="489.1" cy="487.9" r="0.68"/>
<circle cx="473.8" cy="510.5" r="0.60"/>
<circle cx="483.8" cy="496.6" r="1.03"/>
<circle cx="504.5" cy="494.5" r="0.95"/>
<circle cx="461.9" cy="469.9" r="0.78"/>
<circle cx="464.5" cy="482.6" r="0.69"/>
<circle cx="449.9" cy="505.5" r="0.63"/>
<circle cx="493.5" cy="499.0" r="0.52"/>
<circle cx="502.9" cy="473.1" r="0.88"/>
<circle cx="497.7" cy="492.9" r="0.61"/>
<circle cx="460.6" cy="459.6" r="0.81"/>
<circle cx="461.7" cy="507.3" r="0.75"/>
<circle cx="472.2" cy="495.4" r="0.83"/>
<circle cx="488.4" cy="515.2" r="0.79"/>
<circle cx="493.7" cy="466.6" r="0.87"/>
<circle cx="499.8" cy="492.0" r="1.00"/>
<circle cx="467.3" cy="472.7" r="0.95"/>
<circle cx="465.9" cy="453.9" r="0.79"/>
<circle cx="458.1" cy="470.4" r="0.57"/>
<circle cx="507.8" cy="502.9" r="1.01"/>
<circle cx="502.9" cy="509.1" r="0.63"/>
<circle cx="510.8" cy="491.5" r="0.95"/>
<circle cx="487.9" cy="464.0" r="0.83"/>
<circle cx="478.3" cy="514.7" r="0.85"/>
<circle cx="461.9" cy="478.2" r="0.53"/>
<circle cx="493.5" cy="456.8" r="0.67"/>
<circle cx="476.3" cy="481.4" r="0.57"/>
<circle cx="479.2" cy="514.1" r="0.92"/>
<circle cx="513.2" cy="479.2" r="0.90"/>
<circle cx="455.2" cy="477.3" r="0.57"/>
<circle cx="457.2" cy="483.0" r="0.68"/>
<circle cx="466.0" cy="515.8" r="0.89"/>
<circle cx="484.0" cy="453.7" r="0.97"/>
<circle cx="463.9" cy="457.6" r="0.50"/>
<circle cx="481.0" cy="491.3" r="0.82"/>
<circle cx="448.8" cy="465.4" r="0.68"/>
<circle cx="510.1" cy="485.5" r="0.77"/>
<circle cx="470.1" cy="499.7" r="0.73"/>
<circle cx="488.7" cy="501.3" r="0.99"/>
<circle cx="469.8" cy="505.7" r="0.83"/>
<circle cx="444.0" cy="476.0" r="0.73"/>
<circle cx="461.6" cy="514.8" r="0.69"/>
<circle cx="492.4" cy="495.2" r="0.65"/>
<circle cx="447.6" cy="474.8" r="0.99"/>
<circle cx="487.8" cy="494.6" r="0.87"/>
<circle cx="493.1" cy="479.6" r="1.03"/>
<circle cx="472.3" cy="487.6" r="0.91"/>
<circle cx="503.2" cy="500.7" r="0.69"/>
<circle cx="507.0" cy="477.5" r="0.89"/>
<circle cx="483.6" cy="461.3" r="0.60"/>
<circle cx="499.0" cy="492.5" r="0.68"/>
<circle cx="468.5" cy="460.6" r="0.85"/>
<circle cx="478.0" cy="495.7" r="1.03"/>
<circle cx="453.3" cy="484.0" r="0.99"/>
<circle cx="501.1" cy="469.7" r="0.59"/>
<circle cx="449.0" cy="484.8" r="0.78"/>
<circle cx="500.8" cy="465.5" r="0.57"/>
<circle cx="490.1" cy="498.1" r="0.58"/>
<circle cx="483.4" cy="517.6" r="0.67"/>
<circle cx="503.4" cy="496.7" r="1.04"/>
<circle cx="491.6" cy="511.8" r="0.59"/>
<circle cx="465.0" cy="487.6" r="0.81"/>
<circle cx="502.1" cy="475.7" r="0.71"/>
<circle cx="451.8" cy="502.8" r="0.68"/>
<circle cx="450.1" cy="480.0" r="0.97"/>
<circle cx="466.8" cy="502.5" r="0.82"/>
<circle cx="456.7" cy="499.7" r="0.96"/>
<circle cx="474.0" cy="500.0" r="0.57"/>
<circle cx="479.8" cy="483.5" r="1.04"/>
<circle cx="488.8" cy="475.1" r="1.03"/>
<circle cx="492.9" cy="506.2" r="0.94"/>
<circle cx="453.0" cy="461.1" r="0.93"/>
<circle cx="446.2" cy="500.1" r="1.02"/>
<circle cx="446.8" cy="493.6" r="0.88"/>
<circle cx="491.9" cy="475.8" r="0.94"/>
<circle cx="455.1" cy="508.0" r="0.53"/>
<circle cx="475.6" cy="515.5" r="0.57"/>
<circle cx="492.3" cy="510.9" r="0.91"/>
<circle cx="485.6" cy="503.4" r="1.03"/>
<circle cx="499.8" cy="477.0" r="0.90"/>
<circle cx="460.7" cy="504.4" r="0.59"/>
<circle cx="502.4" cy="503.8" r="0.95"/>
<circle cx="473.4" cy="506.3" r="0.93"/>
<circle cx="479.1" cy="454.1" r="0.51"/>
<circle cx="459.7" cy="486.4" r="0.85"/>
<circle cx="503.2" cy="503.3" r="1.04"/>
<circle cx="450.4" cy="467.1" r="0.84"/>
<circle cx="469.2" cy="509.1" r="0.67"/>
<circle cx="492.1" cy="469.4" r="0.71"/>
<circle cx="455.3" cy="485.6" r="0.72"/>
<circle cx="464.5" cy="466.4" r="0.84"/>
<circle cx="476.1" cy="511.4" r="0.72"/>
<circle cx="454.1" cy="470.5" r="0.92"/>
<circle cx="463.6" cy="499.9" r="0.64"/>
<circle cx="471.2" cy="491.2" r="0.96"/>
<circle cx="507.4" cy="476.3" r="0.90"/>
<circle cx="445.7" cy="479.4" r="0.56"/>
<circle cx="447.7" cy="469.2" r="0.88"/>
<circle cx="460.1" cy="470.7" r="1.03"/>
<circle cx="467.9" cy="500.2" r="0.87"/>
<circle cx="508.2" cy="497.0" r="0.98"/>
<circle cx="447.0" cy="483.5" r="0.68"/>
<circle cx="478.2" cy="493.3" r="0.98"/>
<circle cx="475.4" cy="467.4" r="0.66"/>
<circle cx="452.1" cy="474.5" r="0.50"/>
<circle cx="463.6" cy="462.9" r="0.67"/>
<circle cx="472.9" cy="485.2" r="0.86"/>
<circle cx="463.9" cy="516.4" r="0.56"/>
<circle cx="501.1" cy="492.2" r="0.99"/>
<circle cx="499.9" cy="462.7" r="0.61"/>
<circle cx="498.6" cy="473.6" r="0.94"/>
<circle cx="498.4" cy="501.7" r="0.99"/>
<circle cx="486.8" cy="488.6" r="0.66"/>
<circle cx="472.4" cy="504.8" r="0.53"/>
<circle cx="475.4" cy="453.3" r="0.91"/>
<circle cx="471.9" cy="514.7" r="0.84"/>
<circle cx="455.3" cy="467.2" r="0.55"/>
<circle cx="458.8" cy="505.5" r="0.95"/>
<circle cx="500.3" cy="494.7" r="1.05"/>
<circle cx="483.0" cy="457.1" r="0.54"/>
<circle cx="467.1" cy="509.6" r="0.98"/>
<circle cx="500.5" cy="497.8" r="0.85"/>
<circle cx="454.7" cy="473.2" r="0.78"/>
<circle cx="503.9" cy="484.0" r="0.78"/>
<circle cx="505.4" cy="477.9" r="0.57"/>
</g>
<g fill="#7a78a6" filter="url(#bl07)">
<circle cx="475.7" cy="503.8" r="0.61"/>
<circle cx="453.0" cy="484.8" r="0.61"/>
<circle cx="489.6" cy="504.9" r="0.58"/>
<circle cx="492.9" cy="486.2" r="0.50"/>
<circle cx="474.4" cy="459.3" r="0.56"/>
<circle cx="502.3" cy="486.1" r="0.62"/>
<circle cx="505.9" cy="491.8" r="0.44"/>
<circle cx="462.8" cy="494.2" r="0.46"/>
<circle cx="477.7" cy="461.4" r="0.50"/>
<circle cx="468.5" cy="499.8" r="0.67"/>
<circle cx="478.0" cy="458.5" r="0.50"/>
<circle cx="456.7" cy="476.7" r="0.44"/>
<circle cx="470.6" cy="487.7" r="0.44"/>
<circle cx="495.8" cy="499.5" r="0.49"/>
<circle cx="493.7" cy="477.0" r="0.44"/>
<circle cx="495.8" cy="468.8" r="0.48"/>
<circle cx="492.2" cy="465.1" r="0.51"/>
<circle cx="443.7" cy="494.7" r="0.60"/>
<circle cx="497.1" cy="484.3" r="0.42"/>
<circle cx="490.6" cy="494.3" r="0.63"/>
<circle cx="452.2" cy="484.1" r="0.56"/>
<circle cx="487.6" cy="513.5" r="0.56"/>
<circle cx="487.9" cy="489.8" r="0.52"/>
<circle cx="475.9" cy="455.6" r="0.59"/>
<circle cx="469.5" cy="500.9" r="0.53"/>
<circle cx="478.2" cy="514.1" r="0.44"/>
<circle cx="495.8" cy="467.4" r="0.46"/>
<circle cx="490.8" cy="467.4" r="0.57"/>
<circle cx="453.4" cy="464.2" r="0.60"/>
<circle cx="457.9" cy="464.7" r="0.68"/>
<circle cx="454.8" cy="470.8" r="0.58"/>
<circle cx="447.0" cy="491.1" r="0.58"/>
<circle cx="511.5" cy="482.5" r="0.49"/>
<circle cx="479.1" cy="474.1" r="0.47"/>
<circle cx="502.5" cy="481.4" r="0.63"/>
<circle cx="506.9" cy="470.4" r="0.67"/>
<circle cx="482.9" cy="462.2" r="0.49"/>
<circle cx="493.9" cy="471.6" r="0.54"/>
<circle cx="473.0" cy="467.8" r="0.49"/>
<circle cx="484.6" cy="460.4" r="0.43"/>
<circle cx="506.7" cy="467.9" r="0.55"/>
<circle cx="453.0" cy="462.5" r="0.41"/>
<circle cx="462.5" cy="487.9" r="0.54"/>
<circle cx="512.2" cy="484.0" r="0.51"/>
<circle cx="453.4" cy="498.0" r="0.49"/>
<circle cx="469.5" cy="479.8" r="0.48"/>
<circle cx="492.4" cy="470.5" r="0.50"/>
<circle cx="447.1" cy="492.5" r="0.55"/>
<circle cx="510.1" cy="498.2" r="0.58"/>
<circle cx="469.7" cy="503.0" r="0.65"/>
<circle cx="470.1" cy="484.1" r="0.63"/>
<circle cx="478.7" cy="469.4" r="0.62"/>
<circle cx="513.6" cy="489.5" r="0.44"/>
<circle cx="483.9" cy="508.0" r="0.69"/>
<circle cx="492.0" cy="461.9" r="0.59"/>
<circle cx="444.8" cy="492.3" r="0.42"/>
<circle cx="514.3" cy="479.3" r="0.49"/>
<circle cx="495.6" cy="514.5" r="0.57"/>
<circle cx="451.1" cy="467.4" r="0.50"/>
<circle cx="498.8" cy="478.6" r="0.64"/>
<circle cx="457.7" cy="472.9" r="0.67"/>
<circle cx="474.3" cy="475.6" r="0.51"/>
<circle cx="507.8" cy="496.7" r="0.54"/>
<circle cx="501.6" cy="478.3" r="0.41"/>
<circle cx="459.9" cy="501.8" r="0.61"/>
<circle cx="481.4" cy="480.0" r="0.49"/>
<circle cx="454.9" cy="473.0" r="0.60"/>
<circle cx="480.8" cy="516.8" r="0.42"/>
<circle cx="502.7" cy="464.4" r="0.45"/>
<circle cx="459.9" cy="485.3" r="0.51"/>
<circle cx="487.3" cy="457.0" r="0.69"/>
<circle cx="447.2" cy="495.7" r="0.63"/>
<circle cx="508.9" cy="470.8" r="0.64"/>
<circle cx="448.5" cy="485.3" r="0.62"/>
<circle cx="484.5" cy="486.2" r="0.52"/>
<circle cx="470.0" cy="494.8" r="0.68"/>
<circle cx="494.0" cy="495.5" r="0.55"/>
<circle cx="454.3" cy="489.4" r="0.69"/>
<circle cx="476.7" cy="502.7" r="0.48"/>
<circle cx="494.0" cy="492.2" r="0.55"/>
<circle cx="510.1" cy="472.7" r="0.52"/>
<circle cx="497.8" cy="493.8" r="0.69"/>
<circle cx="460.4" cy="506.1" r="0.53"/>
<circle cx="440.7" cy="487.7" r="0.67"/>
<circle cx="502.6" cy="492.8" r="0.51"/>
<circle cx="449.0" cy="492.7" r="0.48"/>
<circle cx="484.6" cy="465.7" r="0.68"/>
<circle cx="452.9" cy="470.7" r="0.66"/>
<circle cx="478.5" cy="505.8" r="0.54"/>
<circle cx="472.7" cy="457.0" r="0.65"/>
<circle cx="465.1" cy="455.5" r="0.61"/>
<circle cx="497.7" cy="473.8" r="0.53"/>
<circle cx="467.9" cy="516.5" r="0.47"/>
<circle cx="470.1" cy="489.5" r="0.41"/>
<circle cx="465.6" cy="511.8" r="0.63"/>
<circle cx="462.1" cy="464.5" r="0.60"/>
<circle cx="446.2" cy="489.6" r="0.66"/>
<circle cx="465.7" cy="487.1" r="0.62"/>
<circle cx="475.8" cy="475.5" r="0.49"/>
<circle cx="488.9" cy="459.3" r="0.61"/>
<circle cx="480.5" cy="487.5" r="0.50"/>
<circle cx="447.4" cy="479.5" r="0.50"/>
<circle cx="479.5" cy="457.8" r="0.57"/>
<circle cx="471.1" cy="514.3" r="0.60"/>
<circle cx="466.5" cy="483.6" r="0.44"/>
<circle cx="467.9" cy="514.7" r="0.56"/>
<circle cx="460.4" cy="487.5" r="0.41"/>
<circle cx="479.4" cy="484.1" r="0.54"/>
<circle cx="481.6" cy="455.5" r="0.68"/>
<circle cx="498.9" cy="497.9" r="0.69"/>
<circle cx="448.4" cy="488.3" r="0.44"/>
<circle cx="497.9" cy="475.8" r="0.64"/>
<circle cx="511.7" cy="497.0" r="0.64"/>
<circle cx="496.4" cy="485.4" r="0.69"/>
<circle cx="492.9" cy="462.3" r="0.43"/>
<circle cx="476.2" cy="499.5" r="0.65"/>
<circle cx="480.5" cy="481.8" r="0.66"/>
<circle cx="462.0" cy="479.3" r="0.69"/>
<circle cx="456.6" cy="458.4" r="0.48"/>
<circle cx="498.6" cy="470.3" r="0.64"/>
<circle cx="512.2" cy="492.7" r="0.51"/>
<circle cx="476.4" cy="469.7" r="0.64"/>
<circle cx="504.0" cy="486.1" r="0.48"/>
<circle cx="464.4" cy="469.5" r="0.51"/>
<circle cx="466.2" cy="496.0" r="0.65"/>
<circle cx="473.3" cy="510.1" r="0.67"/>
<circle cx="467.3" cy="490.4" r="0.67"/>
<circle cx="459.0" cy="510.4" r="0.55"/>
<circle cx="461.1" cy="500.4" r="0.42"/>
<circle cx="472.6" cy="488.6" r="0.51"/>
<circle cx="510.0" cy="494.2" r="0.50"/>
<circle cx="454.6" cy="475.5" r="0.41"/>
<circle cx="469.0" cy="509.5" r="0.43"/>
<circle cx="455.8" cy="477.3" r="0.42"/>
<circle cx="453.6" cy="491.3" r="0.41"/>
<circle cx="468.3" cy="473.1" r="0.52"/>
<circle cx="500.6" cy="510.7" r="0.47"/>
<circle cx="506.3" cy="506.0" r="0.45"/>
<circle cx="481.6" cy="454.4" r="0.46"/>
<circle cx="502.3" cy="476.4" r="0.54"/>
<circle cx="461.9" cy="514.3" r="0.55"/>
<circle cx="503.0" cy="500.0" r="0.58"/>
<circle cx="457.9" cy="476.6" r="0.53"/>
<circle cx="463.3" cy="491.1" r="0.43"/>
<circle cx="486.8" cy="514.7" r="0.62"/>
<circle cx="490.0" cy="516.1" r="0.61"/>
<circle cx="459.5" cy="457.8" r="0.62"/>
<circle cx="497.9" cy="496.8" r="0.41"/>
<circle cx="493.1" cy="472.7" r="0.67"/>
<circle cx="472.2" cy="458.5" r="0.59"/>
<circle cx="467.0" cy="502.2" r="0.41"/>
<circle cx="463.7" cy="454.5" r="0.58"/>
<circle cx="448.6" cy="492.5" r="0.56"/>
<circle cx="491.9" cy="457.4" r="0.66"/>
<circle cx="501.4" cy="485.5" r="0.52"/>
<circle cx="474.9" cy="465.2" r="0.54"/>
<circle cx="506.5" cy="479.8" r="0.46"/>
<circle cx="461.5" cy="482.0" r="0.40"/>
<circle cx="466.3" cy="483.4" r="0.45"/>
<circle cx="477.4" cy="494.7" r="0.60"/>
<circle cx="502.6" cy="507.9" r="0.68"/>
<circle cx="485.0" cy="507.3" r="0.57"/>
<circle cx="498.5" cy="471.8" r="0.57"/>
<circle cx="441.4" cy="488.9" r="0.62"/>
<circle cx="485.1" cy="484.4" r="0.50"/>
<circle cx="472.4" cy="479.0" r="0.46"/>
<circle cx="462.3" cy="467.6" r="0.65"/>
<circle cx="501.9" cy="506.0" r="0.69"/>
<circle cx="498.8" cy="459.2" r="0.56"/>
<circle cx="459.7" cy="462.0" r="0.49"/>
<circle cx="487.7" cy="487.8" r="0.51"/>
<circle cx="487.2" cy="499.4" r="0.57"/>
<circle cx="460.6" cy="503.1" r="0.69"/>
<circle cx="471.9" cy="454.8" r="0.51"/>
<circle cx="474.6" cy="502.7" r="0.55"/>
<circle cx="460.7" cy="458.4" r="0.58"/>
<circle cx="466.8" cy="474.9" r="0.57"/>
<circle cx="513.8" cy="477.4" r="0.57"/>
<circle cx="478.9" cy="458.9" r="0.47"/>
<circle cx="510.9" cy="483.0" r="0.53"/>
<circle cx="490.9" cy="507.3" r="0.53"/>
<circle cx="448.3" cy="504.5" r="0.64"/>
<circle cx="480.1" cy="518.2" r="0.49"/>
<circle cx="492.8" cy="462.8" r="0.56"/>
<circle cx="450.7" cy="466.2" r="0.65"/>
<circle cx="472.3" cy="458.4" r="0.50"/>
<circle cx="505.9" cy="503.1" r="0.46"/>
<circle cx="489.4" cy="469.6" r="0.64"/>
<circle cx="446.5" cy="484.2" r="0.65"/>
<circle cx="468.3" cy="467.3" r="0.59"/>
<circle cx="450.4" cy="505.5" r="0.59"/>
<circle cx="468.1" cy="513.7" r="0.64"/>
<circle cx="480.1" cy="456.3" r="0.44"/>
<circle cx="457.0" cy="503.8" r="0.69"/>
<circle cx="483.0" cy="467.9" r="0.59"/>
<circle cx="510.7" cy="494.6" r="0.64"/>
<circle cx="443.8" cy="476.8" r="0.60"/>
<circle cx="464.3" cy="494.0" r="0.64"/>
<circle cx="445.1" cy="489.3" r="0.57"/>
<circle cx="466.5" cy="479.0" r="0.42"/>
</g>
</g>
<ellipse cx="477.7" cy="485.2" rx="37.9" ry="34.300000000000004" fill="none" stroke="#6e7280" stroke-opacity="0.8" stroke-width="0.9"/>
<clipPath id="pc6"><ellipse cx="560.9" cy="485.7" rx="38.3" ry="35.2"/></clipPath>
<ellipse cx="560.9" cy="485.7" rx="38.3" ry="35.2" fill="#838993"/>
<g clip-path="url(#pc6)">
<ellipse cx="560.9" cy="485.7" rx="35.699999999999996" ry="32.6" fill="none" stroke="#9298a3" stroke-opacity="0.6" stroke-width="1.6" filter="url(#bl05)"/>
<ellipse cx="560" cy="483" rx="5" ry="4.5" fill="none" stroke="#9298a3" stroke-opacity="0.8" stroke-width="1.3" filter="url(#bl05)"/>
<g fill="#68679c" filter="url(#bl07)">
<circle cx="563.2" cy="495.0" r="0.67"/>
<circle cx="525.7" cy="486.5" r="0.90"/>
<circle cx="549.2" cy="485.1" r="0.96"/>
<circle cx="586.2" cy="477.3" r="0.98"/>
<circle cx="583.5" cy="485.8" r="0.92"/>
<circle cx="574.1" cy="486.4" r="0.90"/>
<circle cx="578.6" cy="458.9" r="1.02"/>
<circle cx="575.4" cy="493.2" r="0.57"/>
<circle cx="588.9" cy="507.5" r="0.59"/>
<circle cx="565.9" cy="487.2" r="0.52"/>
<circle cx="572.3" cy="503.0" r="0.67"/>
<circle cx="578.6" cy="514.3" r="0.95"/>
<circle cx="531.9" cy="473.5" r="0.82"/>
<circle cx="533.1" cy="470.1" r="0.63"/>
<circle cx="561.7" cy="505.3" r="0.72"/>
<circle cx="527.8" cy="500.8" r="0.54"/>
<circle cx="570.7" cy="463.9" r="0.75"/>
<circle cx="587.1" cy="501.2" r="0.53"/>
<circle cx="589.7" cy="494.0" r="0.67"/>
<circle cx="568.9" cy="505.6" r="0.52"/>
<circle cx="563.8" cy="484.9" r="0.88"/>
<circle cx="524.7" cy="487.4" r="1.02"/>
<circle cx="535.5" cy="464.3" r="0.79"/>
<circle cx="565.0" cy="509.8" r="0.71"/>
<circle cx="571.6" cy="513.0" r="0.97"/>
<circle cx="539.9" cy="470.9" r="0.95"/>
<circle cx="580.3" cy="506.6" r="0.64"/>
<circle cx="562.1" cy="485.9" r="1.02"/>
<circle cx="589.0" cy="480.6" r="0.93"/>
<circle cx="581.3" cy="481.8" r="1.01"/>
<circle cx="582.6" cy="497.2" r="0.68"/>
<circle cx="550.8" cy="496.1" r="0.55"/>
<circle cx="592.0" cy="482.0" r="0.62"/>
<circle cx="532.6" cy="470.4" r="0.77"/>
<circle cx="535.5" cy="508.4" r="0.95"/>
<circle cx="567.7" cy="484.3" r="0.60"/>
<circle cx="562.6" cy="484.3" r="0.90"/>
<circle cx="564.0" cy="457.8" r="0.71"/>
<circle cx="555.7" cy="496.2" r="1.02"/>
<circle cx="565.5" cy="519.3" r="0.74"/>
<circle cx="581.5" cy="472.7" r="0.50"/>
<circle cx="560.2" cy="516.8" r="0.80"/>
<circle cx="572.4" cy="491.9" r="0.99"/>
<circle cx="586.8" cy="481.4" r="0.98"/>
<circle cx="589.6" cy="499.1" r="0.82"/>
<circle cx="523.9" cy="485.1" r="0.54"/>
<circle cx="576.8" cy="484.6" r="1.04"/>
<circle cx="553.2" cy="501.1" r="0.89"/>
<circle cx="571.3" cy="508.1" r="1.04"/>
<circle cx="541.5" cy="505.9" r="0.51"/>
<circle cx="561.2" cy="461.3" r="0.60"/>
<circle cx="559.1" cy="475.7" r="1.01"/>
<circle cx="538.4" cy="489.2" r="0.85"/>
<circle cx="579.4" cy="503.5" r="0.65"/>
<circle cx="566.4" cy="500.4" r="0.55"/>
<circle cx="565.4" cy="506.7" r="0.97"/>
<circle cx="581.4" cy="481.3" r="0.95"/>
<circle cx="571.8" cy="500.3" r="0.81"/>
<circle cx="535.9" cy="480.6" r="0.57"/>
<circle cx="562.5" cy="460.9" r="0.74"/>
<circle cx="577.5" cy="477.6" r="0.66"/>
<circle cx="547.0" cy="454.1" r="0.50"/>
<circle cx="575.6" cy="504.1" r="0.93"/>
<circle cx="581.6" cy="497.0" r="1.02"/>
<circle cx="535.0" cy="466.6" r="0.81"/>
<circle cx="571.0" cy="484.7" r="0.67"/>
<circle cx="534.1" cy="487.2" r="0.76"/>
<circle cx="564.8" cy="482.8" r="0.77"/>
<circle cx="575.8" cy="469.3" r="0.97"/>
<circle cx="587.2" cy="469.8" r="0.69"/>
<circle cx="554.0" cy="494.7" r="0.83"/>
<circle cx="557.7" cy="455.6" r="0.85"/>
<circle cx="546.4" cy="462.8" r="0.82"/>
<circle cx="556.5" cy="484.5" r="0.65"/>
<circle cx="553.3" cy="479.7" r="0.96"/>
<circle cx="551.4" cy="469.8" r="0.84"/>
<circle cx="582.2" cy="465.4" r="0.88"/>
<circle cx="553.1" cy="479.2" r="0.69"/>
<circle cx="550.0" cy="466.1" r="0.60"/>
<circle cx="588.1" cy="475.5" r="0.54"/>
<circle cx="552.0" cy="455.3" r="0.72"/>
<circle cx="589.5" cy="500.0" r="0.59"/>
<circle cx="534.2" cy="462.1" r="0.59"/>
<circle cx="548.3" cy="489.7" r="0.80"/>
<circle cx="575.3" cy="517.0" r="0.85"/>
<circle cx="537.8" cy="477.7" r="1.02"/>
<circle cx="567.4" cy="475.6" r="0.90"/>
<circle cx="574.9" cy="497.8" r="0.91"/>
<circle cx="541.5" cy="511.7" r="0.58"/>
<circle cx="547.7" cy="463.4" r="0.70"/>
<circle cx="580.0" cy="498.8" r="0.58"/>
<circle cx="561.8" cy="469.6" r="0.57"/>
<circle cx="544.8" cy="489.1" r="0.62"/>
<circle cx="559.4" cy="469.0" r="0.63"/>
<circle cx="584.9" cy="498.6" r="0.78"/>
<circle cx="531.5" cy="494.9" r="0.60"/>
<circle cx="559.9" cy="491.6" r="0.72"/>
<circle cx="550.3" cy="490.5" r="0.78"/>
<circle cx="556.1" cy="478.3" r="1.03"/>
<circle cx="531.3" cy="494.6" r="0.96"/>
<circle cx="595.2" cy="475.4" r="1.02"/>
<circle cx="591.4" cy="475.3" r="0.92"/>
<circle cx="575.0" cy="500.3" r="0.77"/>
<circle cx="557.2" cy="514.1" r="0.70"/>
<circle cx="571.2" cy="488.2" r="0.64"/>
<circle cx="592.7" cy="497.3" r="0.58"/>
<circle cx="583.9" cy="481.4" r="0.62"/>
<circle cx="568.3" cy="487.9" r="0.69"/>
<circle cx="559.6" cy="483.5" r="0.53"/>
<circle cx="575.3" cy="492.6" r="0.65"/>
<circle cx="566.6" cy="494.4" r="0.61"/>
<circle cx="549.0" cy="473.4" r="0.70"/>
<circle cx="577.8" cy="486.9" r="0.98"/>
<circle cx="593.4" cy="475.6" r="0.89"/>
<circle cx="549.4" cy="505.5" r="0.61"/>
<circle cx="539.4" cy="496.8" r="1.02"/>
<circle cx="555.7" cy="471.2" r="0.90"/>
<circle cx="538.1" cy="467.6" r="0.52"/>
<circle cx="546.8" cy="484.2" r="0.83"/>
<circle cx="569.0" cy="453.0" r="0.62"/>
<circle cx="563.0" cy="472.7" r="0.51"/>
<circle cx="591.2" cy="502.6" r="0.83"/>
<circle cx="590.4" cy="501.5" r="0.56"/>
<circle cx="555.3" cy="459.0" r="0.51"/>
<circle cx="567.8" cy="463.2" r="0.93"/>
<circle cx="584.2" cy="486.8" r="0.84"/>
<circle cx="536.9" cy="497.5" r="0.83"/>
<circle cx="532.7" cy="488.8" r="0.80"/>
<circle cx="564.7" cy="460.4" r="0.94"/>
<circle cx="562.1" cy="480.8" r="0.63"/>
<circle cx="565.8" cy="507.4" r="0.67"/>
<circle cx="538.4" cy="491.8" r="0.56"/>
<circle cx="541.5" cy="490.7" r="0.71"/>
<circle cx="585.4" cy="496.1" r="0.81"/>
<circle cx="558.4" cy="453.3" r="0.81"/>
<circle cx="536.6" cy="506.7" r="0.60"/>
<circle cx="561.9" cy="512.4" r="0.65"/>
<circle cx="528.4" cy="483.9" r="0.60"/>
<circle cx="559.2" cy="469.9" r="0.86"/>
<circle cx="558.5" cy="453.4" r="0.66"/>
<circle cx="583.8" cy="466.3" r="0.98"/>
<circle cx="582.7" cy="511.5" r="0.64"/>
<circle cx="567.2" cy="472.7" r="0.88"/>
<circle cx="570.1" cy="509.8" r="0.73"/>
<circle cx="591.1" cy="491.4" r="0.99"/>
<circle cx="585.4" cy="468.0" r="1.02"/>
<circle cx="552.5" cy="509.0" r="0.71"/>
<circle cx="540.4" cy="471.1" r="0.65"/>
<circle cx="541.0" cy="484.3" r="0.91"/>
<circle cx="564.5" cy="483.4" r="0.86"/>
<circle cx="536.1" cy="477.6" r="0.95"/>
<circle cx="549.8" cy="505.6" r="0.55"/>
<circle cx="580.8" cy="493.1" r="0.64"/>
<circle cx="542.3" cy="507.0" r="1.00"/>
<circle cx="574.0" cy="465.6" r="0.61"/>
<circle cx="582.9" cy="458.7" r="1.00"/>
<circle cx="527.8" cy="482.1" r="0.59"/>
<circle cx="593.8" cy="477.2" r="0.75"/>
<circle cx="537.9" cy="464.6" r="0.92"/>
<circle cx="540.1" cy="459.4" r="0.58"/>
<circle cx="537.2" cy="479.8" r="0.62"/>
<circle cx="546.3" cy="511.1" r="0.55"/>
<circle cx="558.8" cy="465.3" r="0.85"/>
<circle cx="542.4" cy="495.1" r="0.88"/>
<circle cx="587.6" cy="505.4" r="0.61"/>
<circle cx="565.7" cy="507.2" r="0.60"/>
<circle cx="573.8" cy="500.3" r="0.52"/>
<circle cx="538.5" cy="494.3" r="0.84"/>
<circle cx="594.2" cy="473.6" r="0.76"/>
<circle cx="546.4" cy="473.5" r="0.74"/>
<circle cx="586.6" cy="474.2" r="0.92"/>
<circle cx="574.8" cy="454.3" r="0.92"/>
<circle cx="557.7" cy="451.8" r="0.91"/>
<circle cx="590.8" cy="480.3" r="0.79"/>
<circle cx="543.4" cy="471.7" r="0.60"/>
<circle cx="528.3" cy="481.4" r="0.70"/>
<circle cx="553.2" cy="458.5" r="0.84"/>
<circle cx="540.2" cy="483.4" r="0.51"/>
<circle cx="584.4" cy="488.9" r="0.83"/>
<circle cx="562.1" cy="495.2" r="0.93"/>
<circle cx="566.4" cy="514.0" r="0.52"/>
<circle cx="527.9" cy="499.8" r="0.53"/>
<circle cx="572.0" cy="463.2" r="0.83"/>
<circle cx="541.0" cy="484.0" r="0.70"/>
<circle cx="571.2" cy="453.9" r="0.61"/>
<circle cx="571.0" cy="460.7" r="0.61"/>
<circle cx="548.2" cy="480.3" r="0.85"/>
<circle cx="537.5" cy="480.1" r="0.83"/>
<circle cx="586.1" cy="502.3" r="0.69"/>
<circle cx="563.4" cy="498.6" r="1.00"/>
<circle cx="575.6" cy="462.4" r="0.72"/>
<circle cx="575.7" cy="493.7" r="0.93"/>
<circle cx="556.9" cy="454.2" r="0.62"/>
<circle cx="586.0" cy="466.8" r="0.67"/>
<circle cx="586.9" cy="483.3" r="0.61"/>
<circle cx="565.9" cy="458.5" r="0.81"/>
<circle cx="525.3" cy="485.6" r="0.59"/>
<circle cx="552.1" cy="504.6" r="0.78"/>
<circle cx="571.9" cy="467.4" r="0.84"/>
<circle cx="534.0" cy="467.8" r="0.54"/>
<circle cx="572.0" cy="495.9" r="0.89"/>
<circle cx="570.9" cy="467.3" r="0.99"/>
<circle cx="542.6" cy="459.1" r="0.63"/>
<circle cx="550.3" cy="486.2" r="0.94"/>
<circle cx="591.8" cy="500.6" r="0.53"/>
<circle cx="542.1" cy="472.1" r="0.68"/>
<circle cx="562.5" cy="457.4" r="0.96"/>
<circle cx="577.6" cy="514.8" r="1.02"/>
<circle cx="553.4" cy="480.0" r="0.93"/>
<circle cx="559.6" cy="497.2" r="0.88"/>
<circle cx="579.7" cy="499.8" r="0.53"/>
<circle cx="579.7" cy="506.0" r="0.58"/>
<circle cx="542.3" cy="481.9" r="0.54"/>
<circle cx="556.3" cy="504.9" r="0.64"/>
<circle cx="529.5" cy="492.3" r="0.93"/>
<circle cx="594.7" cy="474.8" r="0.63"/>
<circle cx="580.8" cy="507.1" r="0.52"/>
<circle cx="531.9" cy="480.7" r="0.59"/>
<circle cx="556.7" cy="467.6" r="0.84"/>
<circle cx="568.6" cy="476.9" r="0.51"/>
<circle cx="542.8" cy="471.8" r="0.63"/>
<circle cx="546.3" cy="483.8" r="1.00"/>
<circle cx="572.4" cy="494.3" r="0.67"/>
<circle cx="596.0" cy="494.9" r="0.83"/>
<circle cx="589.2" cy="476.8" r="0.57"/>
<circle cx="532.0" cy="498.6" r="0.99"/>
<circle cx="534.2" cy="463.7" r="0.85"/>
<circle cx="556.2" cy="496.5" r="1.00"/>
<circle cx="559.4" cy="513.0" r="0.61"/>
<circle cx="569.6" cy="455.9" r="0.85"/>
<circle cx="569.8" cy="515.4" r="0.77"/>
<circle cx="555.2" cy="454.3" r="0.71"/>
<circle cx="576.2" cy="469.7" r="0.88"/>
<circle cx="552.4" cy="498.1" r="0.64"/>
<circle cx="539.8" cy="491.4" r="0.51"/>
<circle cx="560.5" cy="482.4" r="0.74"/>
<circle cx="556.9" cy="486.7" r="0.85"/>
<circle cx="567.0" cy="504.8" r="0.98"/>
<circle cx="527.5" cy="485.0" r="0.87"/>
<circle cx="533.5" cy="473.5" r="0.68"/>
<circle cx="563.0" cy="506.6" r="0.69"/>
<circle cx="563.9" cy="476.5" r="0.66"/>
<circle cx="562.5" cy="490.6" r="0.95"/>
<circle cx="569.8" cy="510.6" r="0.53"/>
<circle cx="539.0" cy="478.1" r="0.83"/>
<circle cx="562.5" cy="473.6" r="0.96"/>
<circle cx="587.7" cy="480.9" r="0.63"/>
<circle cx="566.1" cy="501.8" r="0.99"/>
<circle cx="568.9" cy="516.5" r="0.90"/>
<circle cx="568.5" cy="466.9" r="0.66"/>
<circle cx="538.8" cy="468.1" r="0.83"/>
<circle cx="534.4" cy="465.5" r="0.63"/>
<circle cx="557.8" cy="506.1" r="0.78"/>
<circle cx="536.6" cy="486.0" r="0.68"/>
<circle cx="529.1" cy="494.8" r="0.76"/>
<circle cx="536.1" cy="485.5" r="0.69"/>
<circle cx="586.2" cy="488.6" r="0.78"/>
<circle cx="547.4" cy="495.8" r="0.56"/>
<circle cx="553.9" cy="493.1" r="0.84"/>
<circle cx="562.4" cy="484.9" r="0.61"/>
<circle cx="560.4" cy="504.8" r="1.02"/>
<circle cx="594.5" cy="478.8" r="0.91"/>
<circle cx="587.1" cy="503.7" r="0.65"/>
<circle cx="527.9" cy="497.1" r="0.59"/>
<circle cx="538.0" cy="490.0" r="0.87"/>
<circle cx="530.3" cy="486.3" r="0.63"/>
<circle cx="546.9" cy="463.0" r="0.71"/>
<circle cx="525.2" cy="495.0" r="0.55"/>
<circle cx="538.2" cy="482.5" r="0.69"/>
<circle cx="553.3" cy="456.4" r="0.74"/>
<circle cx="569.2" cy="457.6" r="0.62"/>
<circle cx="598.0" cy="486.8" r="1.03"/>
<circle cx="573.1" cy="458.2" r="0.50"/>
<circle cx="567.0" cy="516.5" r="0.64"/>
<circle cx="526.1" cy="488.2" r="1.03"/>
<circle cx="583.8" cy="466.6" r="0.84"/>
<circle cx="537.3" cy="460.2" r="0.71"/>
<circle cx="541.9" cy="479.8" r="0.63"/>
<circle cx="594.9" cy="472.2" r="1.00"/>
<circle cx="581.5" cy="462.4" r="0.84"/>
<circle cx="588.2" cy="508.6" r="0.62"/>
<circle cx="579.2" cy="502.1" r="0.53"/>
<circle cx="564.0" cy="458.1" r="1.02"/>
<circle cx="587.6" cy="470.2" r="0.66"/>
<circle cx="542.5" cy="488.4" r="0.50"/>
<circle cx="555.8" cy="494.3" r="0.83"/>
<circle cx="526.9" cy="493.4" r="0.83"/>
<circle cx="575.3" cy="479.2" r="0.90"/>
<circle cx="584.5" cy="487.7" r="0.91"/>
<circle cx="564.3" cy="464.8" r="0.62"/>
<circle cx="533.6" cy="465.9" r="0.78"/>
<circle cx="554.8" cy="506.9" r="0.69"/>
<circle cx="540.7" cy="479.2" r="0.55"/>
<circle cx="565.6" cy="473.9" r="0.58"/>
<circle cx="562.3" cy="485.0" r="0.63"/>
<circle cx="548.2" cy="513.1" r="1.03"/>
<circle cx="560.5" cy="497.7" r="0.86"/>
<circle cx="551.7" cy="497.0" r="0.73"/>
<circle cx="541.2" cy="460.7" r="0.76"/>
<circle cx="578.0" cy="493.4" r="1.04"/>
<circle cx="577.1" cy="499.4" r="0.73"/>
<circle cx="550.5" cy="493.0" r="0.62"/>
<circle cx="531.6" cy="483.9" r="1.03"/>
<circle cx="547.7" cy="516.6" r="0.83"/>
<circle cx="574.5" cy="484.8" r="0.97"/>
<circle cx="558.3" cy="463.3" r="0.62"/>
<circle cx="564.4" cy="486.2" r="0.67"/>
<circle cx="560.7" cy="510.0" r="0.63"/>
<circle cx="565.2" cy="514.2" r="0.66"/>
<circle cx="582.2" cy="489.2" r="1.02"/>
<circle cx="589.3" cy="494.4" r="0.52"/>
<circle cx="572.4" cy="498.4" r="0.64"/>
<circle cx="581.2" cy="462.8" r="0.92"/>
<circle cx="559.9" cy="481.0" r="0.88"/>
<circle cx="571.4" cy="510.2" r="0.83"/>
<circle cx="547.9" cy="484.1" r="0.95"/>
<circle cx="577.5" cy="460.6" r="1.01"/>
<circle cx="563.6" cy="504.3" r="0.69"/>
<circle cx="558.7" cy="514.3" r="0.57"/>
<circle cx="567.8" cy="459.4" r="0.51"/>
<circle cx="545.1" cy="506.9" r="0.70"/>
<circle cx="573.7" cy="460.1" r="0.70"/>
<circle cx="564.0" cy="500.3" r="1.03"/>
<circle cx="546.6" cy="481.6" r="0.71"/>
<circle cx="534.0" cy="503.1" r="0.92"/>
<circle cx="588.1" cy="508.6" r="0.81"/>
<circle cx="576.1" cy="456.4" r="0.98"/>
<circle cx="531.2" cy="479.7" r="0.65"/>
<circle cx="583.4" cy="500.3" r="0.82"/>
<circle cx="582.6" cy="473.4" r="1.02"/>
</g>
<g fill="#7c7aa6" filter="url(#bl07)">
<circle cx="543.1" cy="501.4" r="0.66"/>
<circle cx="540.3" cy="474.4" r="0.46"/>
<circle cx="539.3" cy="461.7" r="0.54"/>
<circle cx="559.8" cy="486.5" r="0.65"/>
<circle cx="594.0" cy="481.4" r="0.48"/>
<circle cx="568.6" cy="508.0" r="0.62"/>
<circle cx="583.6" cy="491.9" r="0.55"/>
<circle cx="568.3" cy="472.6" r="0.63"/>
<circle cx="553.3" cy="483.9" r="0.56"/>
<circle cx="582.9" cy="495.2" r="0.50"/>
<circle cx="572.0" cy="484.6" r="0.44"/>
<circle cx="558.0" cy="493.5" r="0.56"/>
<circle cx="557.6" cy="466.7" r="0.67"/>
<circle cx="558.4" cy="505.7" r="0.43"/>
<circle cx="549.9" cy="506.4" r="0.43"/>
<circle cx="588.4" cy="477.2" r="0.62"/>
<circle cx="560.8" cy="469.2" r="0.58"/>
<circle cx="594.3" cy="490.6" r="0.53"/>
<circle cx="570.0" cy="510.4" r="0.45"/>
<circle cx="542.9" cy="484.2" r="0.65"/>
<circle cx="531.8" cy="489.7" r="0.59"/>
<circle cx="553.8" cy="504.2" r="0.59"/>
<circle cx="581.9" cy="501.4" r="0.68"/>
<circle cx="560.0" cy="504.2" r="0.48"/>
<circle cx="589.1" cy="466.8" r="0.59"/>
<circle cx="560.4" cy="489.9" r="0.41"/>
<circle cx="568.4" cy="509.5" r="0.47"/>
<circle cx="590.3" cy="498.2" r="0.66"/>
<circle cx="575.7" cy="482.8" r="0.60"/>
<circle cx="550.0" cy="515.3" r="0.57"/>
<circle cx="587.0" cy="469.6" r="0.55"/>
<circle cx="573.1" cy="484.8" r="0.44"/>
<circle cx="536.8" cy="499.6" r="0.60"/>
<circle cx="572.1" cy="493.6" r="0.49"/>
<circle cx="568.8" cy="498.2" r="0.51"/>
<circle cx="586.9" cy="479.5" r="0.59"/>
<circle cx="570.2" cy="481.9" r="0.70"/>
<circle cx="559.3" cy="476.3" r="0.58"/>
<circle cx="549.1" cy="459.8" r="0.50"/>
<circle cx="574.2" cy="459.7" r="0.50"/>
<circle cx="565.8" cy="473.5" r="0.56"/>
<circle cx="590.1" cy="505.9" r="0.41"/>
<circle cx="531.2" cy="490.4" r="0.48"/>
<circle cx="584.4" cy="472.6" r="0.49"/>
<circle cx="544.2" cy="511.2" r="0.63"/>
<circle cx="576.5" cy="504.9" r="0.61"/>
<circle cx="575.3" cy="466.1" r="0.69"/>
<circle cx="548.2" cy="491.6" r="0.64"/>
<circle cx="573.0" cy="493.8" r="0.70"/>
<circle cx="549.5" cy="484.7" r="0.60"/>
<circle cx="531.8" cy="491.6" r="0.59"/>
<circle cx="556.0" cy="470.0" r="0.51"/>
<circle cx="577.6" cy="491.2" r="0.46"/>
<circle cx="526.3" cy="485.6" r="0.68"/>
<circle cx="537.9" cy="486.8" r="0.68"/>
<circle cx="556.6" cy="509.5" r="0.45"/>
<circle cx="595.9" cy="496.5" r="0.64"/>
<circle cx="570.4" cy="469.1" r="0.56"/>
<circle cx="578.9" cy="479.9" r="0.61"/>
<circle cx="587.1" cy="505.6" r="0.65"/>
<circle cx="552.7" cy="498.6" r="0.42"/>
<circle cx="549.6" cy="462.7" r="0.63"/>
<circle cx="562.2" cy="486.9" r="0.52"/>
<circle cx="560.9" cy="516.5" r="0.67"/>
<circle cx="544.5" cy="494.3" r="0.60"/>
<circle cx="578.0" cy="486.6" r="0.43"/>
<circle cx="585.6" cy="463.0" r="0.47"/>
<circle cx="557.9" cy="485.6" r="0.68"/>
<circle cx="596.7" cy="489.4" r="0.45"/>
<circle cx="538.9" cy="464.5" r="0.61"/>
<circle cx="574.2" cy="512.5" r="0.59"/>
<circle cx="579.3" cy="462.5" r="0.67"/>
<circle cx="555.5" cy="472.3" r="0.52"/>
<circle cx="567.5" cy="474.1" r="0.49"/>
<circle cx="550.4" cy="470.4" r="0.45"/>
<circle cx="544.3" cy="513.9" r="0.50"/>
<circle cx="577.1" cy="509.1" r="0.69"/>
<circle cx="591.6" cy="494.6" r="0.45"/>
<circle cx="571.5" cy="456.6" r="0.40"/>
<circle cx="530.8" cy="494.5" r="0.60"/>
<circle cx="575.0" cy="505.8" r="0.66"/>
<circle cx="590.2" cy="489.7" r="0.49"/>
<circle cx="589.1" cy="467.1" r="0.65"/>
<circle cx="534.5" cy="501.1" r="0.64"/>
<circle cx="589.4" cy="483.9" r="0.49"/>
<circle cx="533.9" cy="464.9" r="0.46"/>
<circle cx="546.5" cy="472.3" r="0.46"/>
<circle cx="540.2" cy="506.4" r="0.45"/>
<circle cx="592.1" cy="476.8" r="0.64"/>
<circle cx="534.5" cy="497.4" r="0.55"/>
<circle cx="587.7" cy="469.4" r="0.63"/>
<circle cx="583.8" cy="493.9" r="0.64"/>
<circle cx="580.6" cy="480.8" r="0.60"/>
<circle cx="557.9" cy="508.8" r="0.57"/>
<circle cx="526.0" cy="489.8" r="0.66"/>
<circle cx="549.9" cy="458.0" r="0.60"/>
<circle cx="573.4" cy="479.9" r="0.41"/>
<circle cx="557.8" cy="517.5" r="0.60"/>
<circle cx="582.6" cy="508.9" r="0.44"/>
<circle cx="532.6" cy="473.8" r="0.67"/>
<circle cx="540.4" cy="466.5" r="0.49"/>
<circle cx="549.7" cy="475.0" r="0.69"/>
<circle cx="546.0" cy="505.7" r="0.68"/>
<circle cx="569.9" cy="457.5" r="0.62"/>
<circle cx="579.9" cy="484.0" r="0.55"/>
<circle cx="545.2" cy="505.8" r="0.48"/>
<circle cx="547.0" cy="459.0" r="0.67"/>
<circle cx="550.4" cy="510.6" r="0.52"/>
<circle cx="589.6" cy="479.2" r="0.44"/>
<circle cx="555.5" cy="494.2" r="0.47"/>
<circle cx="575.0" cy="502.0" r="0.67"/>
<circle cx="569.7" cy="477.7" r="0.61"/>
<circle cx="541.4" cy="458.0" r="0.43"/>
<circle cx="569.8" cy="482.7" r="0.57"/>
<circle cx="530.0" cy="470.1" r="0.53"/>
<circle cx="566.5" cy="454.0" r="0.57"/>
<circle cx="572.0" cy="465.9" r="0.59"/>
<circle cx="539.9" cy="495.7" r="0.53"/>
<circle cx="566.2" cy="500.7" r="0.67"/>
<circle cx="577.9" cy="512.9" r="0.45"/>
</g>
</g>
<ellipse cx="560.9" cy="485.7" rx="37.9" ry="34.800000000000004" fill="none" stroke="#777d89" stroke-opacity="0.8" stroke-width="0.9"/>
<clipPath id="pc7"><ellipse cx="642.1" cy="485.7" rx="37.4" ry="35.2"/></clipPath>
<ellipse cx="642.1" cy="485.7" rx="37.4" ry="35.2" fill="#838993"/>
<g clip-path="url(#pc7)">
<ellipse cx="642.1" cy="485.7" rx="34.8" ry="32.6" fill="none" stroke="#9298a3" stroke-opacity="0.6" stroke-width="1.6" filter="url(#bl05)"/>
<ellipse cx="642" cy="483" rx="5" ry="4.5" fill="none" stroke="#9298a3" stroke-opacity="0.8" stroke-width="1.3" filter="url(#bl05)"/>
<g fill="#68679c" filter="url(#bl07)">
<circle cx="623.6" cy="466.7" r="0.95"/>
<circle cx="631.1" cy="471.0" r="0.99"/>
<circle cx="655.5" cy="515.7" r="0.86"/>
<circle cx="613.6" cy="485.1" r="1.03"/>
<circle cx="617.3" cy="494.1" r="1.02"/>
<circle cx="632.9" cy="511.5" r="0.67"/>
<circle cx="666.3" cy="493.5" r="0.83"/>
<circle cx="614.3" cy="498.8" r="0.97"/>
<circle cx="609.3" cy="474.4" r="0.87"/>
<circle cx="653.8" cy="489.7" r="1.04"/>
<circle cx="646.5" cy="503.4" r="0.99"/>
<circle cx="664.6" cy="506.4" r="0.68"/>
<circle cx="639.6" cy="502.3" r="0.50"/>
<circle cx="633.3" cy="509.0" r="0.72"/>
<circle cx="654.1" cy="495.1" r="0.52"/>
<circle cx="641.5" cy="453.8" r="0.81"/>
<circle cx="649.7" cy="495.4" r="0.57"/>
<circle cx="661.2" cy="492.5" r="0.65"/>
<circle cx="647.8" cy="500.1" r="0.86"/>
<circle cx="617.9" cy="489.5" r="0.70"/>
<circle cx="647.9" cy="461.2" r="0.67"/>
<circle cx="632.6" cy="486.8" r="0.71"/>
<circle cx="666.7" cy="505.1" r="0.98"/>
<circle cx="637.8" cy="484.6" r="0.74"/>
<circle cx="657.7" cy="473.4" r="0.89"/>
<circle cx="627.5" cy="486.1" r="0.84"/>
<circle cx="647.8" cy="489.0" r="0.83"/>
<circle cx="612.0" cy="492.5" r="0.73"/>
<circle cx="640.4" cy="510.0" r="0.98"/>
<circle cx="606.8" cy="489.5" r="0.51"/>
<circle cx="649.6" cy="465.4" r="0.68"/>
<circle cx="646.8" cy="495.9" r="0.89"/>
<circle cx="635.7" cy="511.9" r="0.84"/>
<circle cx="673.0" cy="479.4" r="0.96"/>
<circle cx="650.8" cy="464.8" r="1.01"/>
<circle cx="642.2" cy="453.9" r="0.82"/>
<circle cx="657.4" cy="466.0" r="0.84"/>
<circle cx="646.4" cy="514.4" r="0.55"/>
<circle cx="625.8" cy="476.8" r="0.82"/>
<circle cx="648.2" cy="499.8" r="1.02"/>
<circle cx="650.8" cy="481.6" r="0.92"/>
<circle cx="669.6" cy="485.0" r="0.87"/>
<circle cx="644.9" cy="484.7" r="0.73"/>
<circle cx="655.7" cy="455.6" r="0.58"/>
<circle cx="649.3" cy="486.6" r="0.93"/>
<circle cx="646.5" cy="515.8" r="0.56"/>
<circle cx="648.8" cy="466.0" r="0.91"/>
<circle cx="675.2" cy="479.4" r="0.92"/>
<circle cx="675.1" cy="488.9" r="0.50"/>
<circle cx="617.4" cy="464.2" r="0.68"/>
<circle cx="635.7" cy="496.3" r="0.69"/>
<circle cx="617.8" cy="493.1" r="0.61"/>
<circle cx="645.1" cy="495.1" r="0.57"/>
<circle cx="632.2" cy="491.2" r="0.57"/>
<circle cx="610.9" cy="477.2" r="0.75"/>
<circle cx="644.8" cy="512.9" r="0.51"/>
<circle cx="636.8" cy="493.9" r="0.70"/>
<circle cx="635.8" cy="501.8" r="0.96"/>
<circle cx="638.9" cy="486.7" r="0.71"/>
<circle cx="639.1" cy="467.8" r="0.62"/>
<circle cx="646.1" cy="491.6" r="1.04"/>
<circle cx="657.9" cy="499.2" r="1.03"/>
<circle cx="670.2" cy="478.3" r="0.68"/>
<circle cx="673.7" cy="493.6" r="0.63"/>
<circle cx="609.9" cy="482.6" r="0.93"/>
<circle cx="658.2" cy="470.8" r="0.54"/>
<circle cx="652.9" cy="510.7" r="0.61"/>
<circle cx="611.2" cy="499.4" r="0.95"/>
<circle cx="639.7" cy="467.6" r="1.00"/>
<circle cx="644.9" cy="512.6" r="0.87"/>
<circle cx="653.3" cy="454.1" r="0.74"/>
<circle cx="660.8" cy="498.2" r="0.92"/>
<circle cx="644.9" cy="499.0" r="0.52"/>
<circle cx="631.2" cy="494.9" r="0.76"/>
<circle cx="628.6" cy="492.2" r="0.92"/>
<circle cx="649.5" cy="493.7" r="0.79"/>
<circle cx="672.1" cy="469.7" r="0.81"/>
<circle cx="649.8" cy="478.3" r="1.05"/>
<circle cx="608.3" cy="479.4" r="0.71"/>
<circle cx="649.1" cy="460.4" r="1.05"/>
<circle cx="616.6" cy="484.7" r="0.67"/>
<circle cx="616.4" cy="478.9" r="0.66"/>
<circle cx="663.3" cy="474.0" r="0.63"/>
<circle cx="636.0" cy="501.9" r="0.97"/>
<circle cx="651.4" cy="469.1" r="1.01"/>
<circle cx="653.5" cy="455.6" r="0.61"/>
<circle cx="652.9" cy="465.2" r="0.64"/>
<circle cx="661.5" cy="466.5" r="1.01"/>
<circle cx="657.8" cy="499.5" r="0.52"/>
<circle cx="622.6" cy="480.1" r="0.65"/>
<circle cx="622.8" cy="460.6" r="0.84"/>
<circle cx="626.5" cy="513.1" r="0.86"/>
<circle cx="636.9" cy="505.3" r="0.56"/>
<circle cx="668.2" cy="467.9" r="0.52"/>
<circle cx="670.5" cy="496.7" r="0.73"/>
<circle cx="658.8" cy="474.7" r="0.74"/>
<circle cx="626.1" cy="504.9" r="0.64"/>
<circle cx="658.6" cy="492.1" r="0.51"/>
<circle cx="640.1" cy="460.4" r="0.87"/>
<circle cx="660.5" cy="484.4" r="0.54"/>
<circle cx="630.1" cy="505.1" r="0.60"/>
<circle cx="634.4" cy="453.0" r="0.57"/>
<circle cx="647.7" cy="472.3" r="0.70"/>
<circle cx="636.3" cy="503.6" r="0.68"/>
<circle cx="631.6" cy="510.0" r="0.83"/>
<circle cx="633.2" cy="483.8" r="0.82"/>
<circle cx="655.9" cy="471.4" r="1.01"/>
<circle cx="617.1" cy="500.3" r="0.59"/>
<circle cx="635.1" cy="511.9" r="0.59"/>
<circle cx="650.3" cy="509.4" r="0.85"/>
<circle cx="673.6" cy="487.9" r="0.85"/>
<circle cx="633.8" cy="498.5" r="0.90"/>
<circle cx="628.2" cy="516.6" r="0.91"/>
<circle cx="662.0" cy="478.4" r="0.60"/>
<circle cx="667.8" cy="499.5" r="0.81"/>
<circle cx="668.8" cy="470.4" r="0.92"/>
<circle cx="620.3" cy="500.6" r="0.85"/>
<circle cx="619.7" cy="468.0" r="0.89"/>
<circle cx="671.0" cy="474.3" r="0.84"/>
<circle cx="640.0" cy="453.8" r="0.71"/>
<circle cx="620.6" cy="508.6" r="0.96"/>
<circle cx="669.2" cy="466.4" r="1.00"/>
<circle cx="611.9" cy="486.0" r="0.66"/>
<circle cx="664.7" cy="468.6" r="0.70"/>
<circle cx="642.8" cy="470.1" r="1.00"/>
<circle cx="652.7" cy="497.6" r="0.56"/>
<circle cx="655.4" cy="463.6" r="0.64"/>
<circle cx="673.0" cy="494.4" r="0.62"/>
<circle cx="643.5" cy="460.5" r="0.77"/>
<circle cx="623.0" cy="507.6" r="0.71"/>
<circle cx="668.3" cy="486.0" r="0.61"/>
<circle cx="630.2" cy="468.9" r="0.61"/>
<circle cx="660.0" cy="484.7" r="0.86"/>
<circle cx="646.9" cy="464.3" r="0.89"/>
<circle cx="611.5" cy="474.6" r="0.84"/>
<circle cx="631.9" cy="490.3" r="0.72"/>
<circle cx="630.0" cy="498.7" r="0.99"/>
<circle cx="655.0" cy="496.3" r="0.68"/>
<circle cx="656.9" cy="487.8" r="1.00"/>
<circle cx="668.6" cy="489.9" r="0.79"/>
<circle cx="627.0" cy="487.2" r="1.02"/>
<circle cx="613.4" cy="506.0" r="0.93"/>
<circle cx="664.4" cy="497.3" r="0.72"/>
<circle cx="647.8" cy="455.4" r="0.90"/>
<circle cx="615.8" cy="508.9" r="0.89"/>
<circle cx="671.3" cy="471.6" r="0.98"/>
<circle cx="623.9" cy="512.6" r="0.71"/>
<circle cx="662.9" cy="504.1" r="0.67"/>
<circle cx="648.2" cy="505.7" r="0.60"/>
<circle cx="631.4" cy="511.4" r="0.53"/>
<circle cx="672.7" cy="475.6" r="0.62"/>
<circle cx="668.1" cy="499.8" r="0.62"/>
<circle cx="632.8" cy="474.9" r="0.81"/>
<circle cx="624.4" cy="459.6" r="0.92"/>
<circle cx="612.7" cy="469.7" r="0.62"/>
<circle cx="651.2" cy="474.9" r="0.95"/>
<circle cx="669.9" cy="477.5" r="0.94"/>
<circle cx="651.1" cy="505.6" r="0.73"/>
<circle cx="668.7" cy="464.7" r="0.50"/>
<circle cx="639.2" cy="486.7" r="1.00"/>
<circle cx="659.7" cy="458.3" r="0.54"/>
<circle cx="644.6" cy="470.4" r="0.74"/>
<circle cx="662.0" cy="481.0" r="0.51"/>
<circle cx="660.8" cy="469.7" r="0.89"/>
<circle cx="637.3" cy="517.6" r="0.81"/>
<circle cx="666.3" cy="510.7" r="0.74"/>
<circle cx="661.3" cy="514.5" r="0.93"/>
<circle cx="640.6" cy="515.2" r="1.04"/>
<circle cx="663.7" cy="507.9" r="1.04"/>
<circle cx="608.3" cy="489.8" r="0.52"/>
<circle cx="614.4" cy="470.3" r="0.91"/>
<circle cx="631.9" cy="486.9" r="0.94"/>
<circle cx="656.5" cy="511.5" r="0.68"/>
<circle cx="618.4" cy="491.5" r="1.04"/>
<circle cx="677.1" cy="486.0" r="0.84"/>
<circle cx="651.0" cy="476.2" r="0.79"/>
<circle cx="671.0" cy="468.2" r="1.01"/>
<circle cx="655.8" cy="491.2" r="0.93"/>
<circle cx="646.3" cy="462.8" r="0.74"/>
<circle cx="639.8" cy="463.8" r="0.70"/>
<circle cx="621.6" cy="500.1" r="0.87"/>
<circle cx="632.7" cy="487.8" r="0.82"/>
<circle cx="666.6" cy="469.4" r="0.70"/>
<circle cx="631.7" cy="453.7" r="0.71"/>
<circle cx="624.5" cy="505.2" r="0.86"/>
<circle cx="646.7" cy="482.5" r="0.70"/>
<circle cx="645.5" cy="487.6" r="0.69"/>
<circle cx="651.8" cy="470.8" r="0.71"/>
<circle cx="636.0" cy="517.9" r="0.69"/>
<circle cx="664.4" cy="459.9" r="1.02"/>
<circle cx="653.3" cy="490.5" r="0.88"/>
<circle cx="658.8" cy="497.8" r="0.55"/>
<circle cx="634.5" cy="503.7" r="0.87"/>
<circle cx="659.7" cy="515.4" r="0.94"/>
<circle cx="660.8" cy="466.1" r="1.05"/>
<circle cx="665.6" cy="509.8" r="0.91"/>
<circle cx="618.8" cy="506.2" r="0.52"/>
<circle cx="620.1" cy="464.3" r="0.92"/>
<circle cx="639.2" cy="456.1" r="0.52"/>
<circle cx="675.9" cy="476.6" r="0.69"/>
<circle cx="671.9" cy="474.2" r="0.74"/>
<circle cx="625.2" cy="473.9" r="0.93"/>
<circle cx="634.7" cy="464.9" r="1.02"/>
<circle cx="660.8" cy="474.5" r="0.58"/>
<circle cx="656.1" cy="462.9" r="0.72"/>
<circle cx="638.8" cy="503.6" r="0.70"/>
<circle cx="622.7" cy="496.7" r="0.63"/>
<circle cx="647.0" cy="511.6" r="0.64"/>
<circle cx="663.0" cy="473.3" r="0.65"/>
<circle cx="644.5" cy="471.3" r="0.82"/>
<circle cx="654.5" cy="483.7" r="0.61"/>
<circle cx="644.2" cy="512.8" r="0.95"/>
<circle cx="626.9" cy="470.7" r="0.94"/>
<circle cx="630.8" cy="512.3" r="0.67"/>
<circle cx="614.8" cy="481.5" r="0.89"/>
<circle cx="650.8" cy="489.2" r="0.50"/>
<circle cx="657.0" cy="512.9" r="0.91"/>
<circle cx="665.6" cy="479.2" r="0.85"/>
<circle cx="669.1" cy="504.2" r="0.99"/>
<circle cx="663.7" cy="491.2" r="0.97"/>
<circle cx="632.1" cy="472.2" r="0.51"/>
<circle cx="618.6" cy="490.6" r="0.75"/>
<circle cx="634.3" cy="515.9" r="1.00"/>
<circle cx="656.3" cy="483.0" r="0.66"/>
<circle cx="669.2" cy="473.8" r="0.87"/>
<circle cx="670.7" cy="502.1" r="1.03"/>
<circle cx="638.8" cy="479.5" r="0.95"/>
<circle cx="637.6" cy="456.1" r="0.83"/>
<circle cx="647.9" cy="519.2" r="1.00"/>
<circle cx="653.8" cy="514.3" r="0.75"/>
<circle cx="656.3" cy="503.9" r="0.97"/>
<circle cx="642.3" cy="454.1" r="0.52"/>
<circle cx="670.0" cy="472.9" r="0.89"/>
<circle cx="676.0" cy="477.5" r="0.89"/>
<circle cx="632.0" cy="513.5" r="0.92"/>
<circle cx="640.1" cy="504.7" r="0.68"/>
<circle cx="661.7" cy="490.2" r="0.58"/>
<circle cx="646.0" cy="503.3" r="0.51"/>
<circle cx="656.3" cy="459.6" r="0.68"/>
<circle cx="662.9" cy="464.5" r="0.52"/>
<circle cx="618.9" cy="471.9" r="0.59"/>
<circle cx="653.8" cy="455.2" r="0.79"/>
<circle cx="655.3" cy="464.0" r="0.53"/>
<circle cx="608.5" cy="480.9" r="0.67"/>
<circle cx="624.2" cy="481.2" r="0.56"/>
<circle cx="614.4" cy="502.5" r="0.99"/>
<circle cx="651.7" cy="453.6" r="0.56"/>
<circle cx="629.8" cy="473.4" r="1.02"/>
<circle cx="623.7" cy="506.4" r="0.94"/>
<circle cx="621.2" cy="473.3" r="0.75"/>
<circle cx="615.3" cy="464.0" r="0.56"/>
<circle cx="618.2" cy="501.4" r="0.59"/>
<circle cx="639.6" cy="509.6" r="1.02"/>
<circle cx="625.8" cy="481.3" r="0.50"/>
<circle cx="630.5" cy="470.4" r="0.77"/>
<circle cx="615.7" cy="473.3" r="0.84"/>
<circle cx="658.4" cy="477.8" r="0.86"/>
<circle cx="645.2" cy="480.8" r="0.59"/>
<circle cx="628.2" cy="468.0" r="0.99"/>
<circle cx="637.8" cy="499.2" r="0.78"/>
<circle cx="612.9" cy="492.1" r="0.89"/>
<circle cx="675.1" cy="499.4" r="0.72"/>
<circle cx="654.1" cy="457.5" r="1.03"/>
<circle cx="642.2" cy="505.5" r="0.87"/>
<circle cx="652.0" cy="456.1" r="0.79"/>
<circle cx="638.1" cy="474.0" r="0.64"/>
<circle cx="647.9" cy="485.8" r="0.69"/>
<circle cx="620.8" cy="479.8" r="0.75"/>
<circle cx="624.7" cy="467.6" r="0.60"/>
<circle cx="626.6" cy="458.9" r="0.95"/>
<circle cx="615.7" cy="479.3" r="0.96"/>
<circle cx="639.1" cy="513.3" r="0.98"/>
<circle cx="639.6" cy="500.5" r="0.95"/>
<circle cx="656.2" cy="504.5" r="0.99"/>
<circle cx="669.9" cy="488.8" r="0.69"/>
<circle cx="638.2" cy="505.4" r="0.90"/>
<circle cx="657.1" cy="493.9" r="0.97"/>
<circle cx="614.9" cy="489.5" r="0.99"/>
<circle cx="660.0" cy="463.1" r="0.68"/>
<circle cx="632.2" cy="502.1" r="0.76"/>
<circle cx="650.8" cy="510.3" r="0.81"/>
<circle cx="641.9" cy="452.6" r="0.50"/>
<circle cx="625.0" cy="468.5" r="0.53"/>
<circle cx="650.4" cy="452.6" r="0.81"/>
<circle cx="625.1" cy="467.1" r="0.72"/>
<circle cx="614.6" cy="484.6" r="0.69"/>
<circle cx="665.3" cy="494.2" r="0.84"/>
<circle cx="640.4" cy="502.2" r="0.58"/>
<circle cx="612.0" cy="494.1" r="0.82"/>
<circle cx="620.0" cy="473.0" r="0.70"/>
<circle cx="644.1" cy="468.4" r="0.90"/>
<circle cx="651.0" cy="496.1" r="0.69"/>
<circle cx="630.2" cy="514.0" r="0.62"/>
<circle cx="618.3" cy="485.7" r="0.85"/>
<circle cx="625.5" cy="497.0" r="1.04"/>
<circle cx="648.1" cy="514.9" r="0.78"/>
<circle cx="656.1" cy="484.0" r="0.64"/>
<circle cx="649.4" cy="517.8" r="0.62"/>
<circle cx="632.3" cy="503.4" r="0.69"/>
<circle cx="623.0" cy="497.3" r="0.56"/>
<circle cx="631.9" cy="460.4" r="0.62"/>
<circle cx="655.1" cy="488.4" r="0.60"/>
<circle cx="623.6" cy="468.4" r="1.02"/>
<circle cx="659.9" cy="511.7" r="0.64"/>
<circle cx="656.7" cy="492.1" r="0.52"/>
<circle cx="667.7" cy="478.7" r="1.04"/>
<circle cx="642.1" cy="491.0" r="0.69"/>
<circle cx="669.1" cy="504.6" r="0.74"/>
<circle cx="648.9" cy="454.4" r="0.60"/>
<circle cx="631.0" cy="463.4" r="0.57"/>
<circle cx="627.3" cy="457.2" r="0.70"/>
<circle cx="659.9" cy="496.2" r="1.00"/>
<circle cx="628.6" cy="477.9" r="0.88"/>
<circle cx="650.2" cy="460.3" r="0.65"/>
<circle cx="649.1" cy="512.8" r="0.89"/>
<circle cx="611.3" cy="492.0" r="0.90"/>
<circle cx="671.8" cy="488.4" r="0.62"/>
<circle cx="636.1" cy="471.1" r="0.96"/>
<circle cx="657.6" cy="478.2" r="0.61"/>
<circle cx="656.0" cy="467.5" r="0.66"/>
<circle cx="674.4" cy="494.4" r="0.66"/>
<circle cx="623.5" cy="459.8" r="0.57"/>
<circle cx="617.1" cy="481.6" r="0.52"/>
<circle cx="676.7" cy="490.9" r="1.01"/>
<circle cx="625.4" cy="462.0" r="0.70"/>
<circle cx="624.1" cy="486.4" r="1.02"/>
<circle cx="631.0" cy="487.2" r="0.83"/>
<circle cx="632.0" cy="453.4" r="1.02"/>
<circle cx="614.2" cy="497.0" r="1.01"/>
<circle cx="642.0" cy="478.9" r="0.51"/>
<circle cx="652.4" cy="488.9" r="0.75"/>
<circle cx="651.3" cy="456.5" r="0.84"/>
<circle cx="636.3" cy="505.7" r="0.75"/>
<circle cx="621.3" cy="484.0" r="0.86"/>
<circle cx="652.0" cy="481.2" r="0.57"/>
<circle cx="675.8" cy="488.8" r="0.50"/>
<circle cx="625.2" cy="515.1" r="0.72"/>
<circle cx="669.9" cy="500.3" r="0.83"/>
<circle cx="608.5" cy="489.1" r="0.51"/>
<circle cx="652.2" cy="476.4" r="0.61"/>
</g>
<g fill="#7c7aa6" filter="url(#bl07)">
<circle cx="622.7" cy="463.6" r="0.63"/>
<circle cx="613.8" cy="479.4" r="0.64"/>
<circle cx="646.2" cy="514.4" r="0.42"/>
<circle cx="617.3" cy="473.9" r="0.60"/>
<circle cx="661.6" cy="484.1" r="0.58"/>
<circle cx="653.4" cy="505.1" r="0.46"/>
<circle cx="634.5" cy="469.4" r="0.52"/>
<circle cx="628.4" cy="513.7" r="0.65"/>
<circle cx="624.7" cy="456.3" r="0.64"/>
<circle cx="623.2" cy="490.3" r="0.52"/>
<circle cx="664.7" cy="482.0" r="0.50"/>
<circle cx="638.2" cy="452.4" r="0.48"/>
<circle cx="620.5" cy="495.3" r="0.54"/>
<circle cx="618.9" cy="460.6" r="0.55"/>
<circle cx="626.8" cy="507.5" r="0.44"/>
<circle cx="650.1" cy="465.8" r="0.64"/>
<circle cx="637.8" cy="481.0" r="0.63"/>
<circle cx="669.8" cy="478.2" r="0.49"/>
<circle cx="630.1" cy="493.8" r="0.41"/>
<circle cx="610.5" cy="496.5" r="0.60"/>
<circle cx="616.7" cy="481.7" r="0.51"/>
<circle cx="664.3" cy="463.8" r="0.70"/>
<circle cx="615.4" cy="491.1" r="0.57"/>
<circle cx="624.7" cy="514.9" r="0.40"/>
<circle cx="658.4" cy="466.9" r="0.44"/>
<circle cx="627.2" cy="471.3" r="0.59"/>
<circle cx="642.9" cy="466.1" r="0.65"/>
<circle cx="663.2" cy="465.1" r="0.44"/>
<circle cx="622.3" cy="497.4" r="0.49"/>
<circle cx="663.6" cy="476.4" r="0.62"/>
<circle cx="636.6" cy="471.8" r="0.60"/>
<circle cx="632.0" cy="499.9" r="0.44"/>
<circle cx="640.2" cy="462.8" r="0.51"/>
<circle cx="642.8" cy="504.7" r="0.69"/>
<circle cx="625.1" cy="491.8" r="0.47"/>
<circle cx="647.0" cy="462.2" r="0.66"/>
<circle cx="667.1" cy="474.6" r="0.49"/>
<circle cx="621.7" cy="506.6" r="0.48"/>
<circle cx="648.3" cy="506.4" r="0.59"/>
<circle cx="638.4" cy="472.4" r="0.62"/>
<circle cx="638.3" cy="489.1" r="0.60"/>
<circle cx="620.8" cy="467.0" r="0.40"/>
<circle cx="662.5" cy="508.1" r="0.41"/>
<circle cx="613.3" cy="497.7" r="0.46"/>
<circle cx="632.2" cy="494.5" r="0.60"/>
<circle cx="635.5" cy="485.0" r="0.54"/>
<circle cx="611.9" cy="500.1" r="0.45"/>
<circle cx="665.6" cy="499.9" r="0.43"/>
<circle cx="610.4" cy="473.2" r="0.51"/>
<circle cx="652.5" cy="498.1" r="0.52"/>
<circle cx="664.2" cy="478.1" r="0.54"/>
<circle cx="619.5" cy="485.9" r="0.49"/>
<circle cx="622.2" cy="501.0" r="0.46"/>
<circle cx="645.6" cy="465.1" r="0.43"/>
<circle cx="667.4" cy="473.9" r="0.58"/>
<circle cx="658.7" cy="468.7" r="0.62"/>
<circle cx="663.2" cy="485.8" r="0.67"/>
<circle cx="631.8" cy="506.4" r="0.40"/>
<circle cx="640.4" cy="469.8" r="0.58"/>
<circle cx="642.8" cy="472.2" r="0.64"/>
<circle cx="633.9" cy="478.8" r="0.50"/>
<circle cx="636.8" cy="506.2" r="0.56"/>
<circle cx="652.6" cy="483.2" r="0.44"/>
<circle cx="677.7" cy="491.2" r="0.52"/>
<circle cx="661.0" cy="484.7" r="0.50"/>
<circle cx="616.7" cy="510.0" r="0.43"/>
<circle cx="662.6" cy="494.0" r="0.55"/>
<circle cx="644.8" cy="499.2" r="0.44"/>
<circle cx="662.7" cy="484.8" r="0.56"/>
<circle cx="655.9" cy="461.9" r="0.53"/>
<circle cx="671.5" cy="488.2" r="0.56"/>
<circle cx="621.3" cy="509.9" r="0.44"/>
<circle cx="649.8" cy="453.8" r="0.50"/>
<circle cx="633.0" cy="493.6" r="0.54"/>
<circle cx="653.4" cy="471.8" r="0.57"/>
<circle cx="609.9" cy="480.9" r="0.68"/>
<circle cx="613.2" cy="485.6" r="0.55"/>
<circle cx="618.0" cy="463.7" r="0.57"/>
<circle cx="653.0" cy="476.2" r="0.60"/>
<circle cx="612.1" cy="504.4" r="0.46"/>
<circle cx="637.9" cy="492.5" r="0.55"/>
<circle cx="639.2" cy="468.9" r="0.46"/>
<circle cx="662.1" cy="512.5" r="0.45"/>
<circle cx="645.1" cy="474.3" r="0.66"/>
<circle cx="643.9" cy="514.0" r="0.65"/>
<circle cx="641.5" cy="514.2" r="0.67"/>
<circle cx="638.1" cy="515.3" r="0.56"/>
<circle cx="644.8" cy="487.8" r="0.42"/>
<circle cx="610.8" cy="495.0" r="0.58"/>
<circle cx="634.2" cy="517.5" r="0.44"/>
<circle cx="659.2" cy="478.8" r="0.50"/>
<circle cx="649.0" cy="488.7" r="0.51"/>
<circle cx="647.4" cy="517.5" r="0.63"/>
<circle cx="663.7" cy="482.8" r="0.58"/>
<circle cx="633.9" cy="500.5" r="0.56"/>
<circle cx="620.2" cy="492.1" r="0.69"/>
<circle cx="637.7" cy="490.8" r="0.62"/>
<circle cx="666.4" cy="462.7" r="0.51"/>
<circle cx="658.9" cy="472.7" r="0.57"/>
<circle cx="667.7" cy="508.8" r="0.63"/>
<circle cx="673.0" cy="484.7" r="0.48"/>
<circle cx="658.7" cy="464.4" r="0.54"/>
<circle cx="637.0" cy="474.7" r="0.45"/>
<circle cx="656.9" cy="485.2" r="0.54"/>
<circle cx="675.3" cy="473.8" r="0.44"/>
<circle cx="643.4" cy="469.2" r="0.45"/>
<circle cx="651.8" cy="491.7" r="0.66"/>
<circle cx="665.7" cy="462.2" r="0.52"/>
<circle cx="624.8" cy="482.3" r="0.41"/>
<circle cx="656.4" cy="477.6" r="0.70"/>
<circle cx="645.5" cy="506.3" r="0.58"/>
<circle cx="610.6" cy="472.4" r="0.56"/>
<circle cx="635.7" cy="458.5" r="0.49"/>
<circle cx="621.5" cy="488.6" r="0.54"/>
<circle cx="654.8" cy="517.5" r="0.41"/>
<circle cx="668.7" cy="481.6" r="0.68"/>
<circle cx="656.0" cy="485.5" r="0.67"/>
<circle cx="642.8" cy="503.2" r="0.46"/>
<circle cx="618.4" cy="477.5" r="0.46"/>
<circle cx="616.9" cy="481.5" r="0.45"/>
</g>
</g>
<ellipse cx="642.1" cy="485.7" rx="37.0" ry="34.800000000000004" fill="none" stroke="#777d89" stroke-opacity="0.8" stroke-width="0.9"/>
<line x1="527.00" y1="597.05" x2="527.00" y2="525.95" stroke="#222" stroke-width="1.3"/>
<line x1="523.20" y1="596.40" x2="527.00" y2="596.40" stroke="#222" stroke-width="1.3"/>
<text x="521.20" y="598.56" font-size="6.0" font-weight="bold" text-anchor="end" fill="#1a1a1a" stroke="#1a1a1a" stroke-width="0.21" textLength="4.2" lengthAdjust="spacingAndGlyphs">0</text>
<line x1="523.20" y1="582.31" x2="527.00" y2="582.31" stroke="#222" stroke-width="1.3"/>
<text x="521.20" y="584.47" font-size="6.0" font-weight="bold" text-anchor="end" fill="#1a1a1a" stroke="#1a1a1a" stroke-width="0.21" textLength="14" lengthAdjust="spacingAndGlyphs">200</text>
<line x1="523.20" y1="568.22" x2="527.00" y2="568.22" stroke="#222" stroke-width="1.3"/>
<text x="521.20" y="570.38" font-size="6.0" font-weight="bold" text-anchor="end" fill="#1a1a1a" stroke="#1a1a1a" stroke-width="0.21" textLength="14" lengthAdjust="spacingAndGlyphs">400</text>
<line x1="523.20" y1="554.13" x2="527.00" y2="554.13" stroke="#222" stroke-width="1.3"/>
<text x="521.20" y="556.29" font-size="6.0" font-weight="bold" text-anchor="end" fill="#1a1a1a" stroke="#1a1a1a" stroke-width="0.21" textLength="14" lengthAdjust="spacingAndGlyphs">600</text>
<line x1="523.20" y1="540.04" x2="527.00" y2="540.04" stroke="#222" stroke-width="1.3"/>
<text x="521.20" y="542.20" font-size="6.0" font-weight="bold" text-anchor="end" fill="#1a1a1a" stroke="#1a1a1a" stroke-width="0.21" textLength="14" lengthAdjust="spacingAndGlyphs">800</text>
<line x1="523.20" y1="525.95" x2="527.00" y2="525.95" stroke="#222" stroke-width="1.3"/>
<text x="521.20" y="528.11" font-size="6.0" font-weight="bold" text-anchor="end" fill="#1a1a1a" stroke="#1a1a1a" stroke-width="0.21" textLength="20.2" lengthAdjust="spacingAndGlyphs">1000</text>
<line x1="523.20" y1="596.40" x2="631.00" y2="596.40" stroke="#222" stroke-width="1.3"/>
<rect x="541.50" y="544.97" width="17.80" height="51.43" fill="#d4d4d4" stroke="#aaa" stroke-width="0.7"/>
<rect x="569.30" y="570.33" width="17.90" height="26.07" fill="#808080" stroke="#555" stroke-width="0.7"/>
<rect x="597.60" y="567.52" width="17.90" height="28.88" fill="#5f5f5f" stroke="#333" stroke-width="0.7"/>
<line x1="550.40" y1="544.97" x2="550.40" y2="537.22" stroke="#777" stroke-width="0.7"/>
<line x1="545.90" y1="537.22" x2="554.90" y2="537.22" stroke="#777" stroke-width="0.7"/>
<line x1="578.25" y1="570.33" x2="578.25" y2="567.52" stroke="#777" stroke-width="0.7"/>
<line x1="573.75" y1="567.52" x2="582.75" y2="567.52" stroke="#777" stroke-width="0.7"/>
<line x1="606.50" y1="567.52" x2="606.50" y2="565.40" stroke="#777" stroke-width="0.7"/>
<line x1="602.00" y1="565.40" x2="611.00" y2="565.40" stroke="#777" stroke-width="0.7"/>
<polyline points="550.40,538.50 550.40,536.20 578.25,536.20 578.25,567.00" fill="none" stroke="#999" stroke-width="0.7"/>
<polyline points="550.40,534.00 550.40,531.50 606.50,531.50 606.50,565.00" fill="none" stroke="#bbb" stroke-width="0.7"/>
<text x="565.00" y="537.30" font-size="7" font-weight="bold" text-anchor="middle" fill="#1a1a1a" stroke="#1a1a1a" stroke-width="0.24" textLength="8" lengthAdjust="spacingAndGlyphs">**</text>
<text x="578.80" y="532.50" font-size="7" font-weight="bold" text-anchor="middle" fill="#1a1a1a" stroke="#1a1a1a" stroke-width="0.24" textLength="8.5" lengthAdjust="spacingAndGlyphs">**</text>
<line x1="550.40" y1="596.40" x2="550.40" y2="599.50" stroke="#222" stroke-width="1.0"/>
<line x1="578.25" y1="596.40" x2="578.25" y2="599.50" stroke="#222" stroke-width="1.0"/>
<line x1="606.50" y1="596.40" x2="606.50" y2="599.50" stroke="#222" stroke-width="1.0"/>
<text x="553.00" y="603.20" font-size="6" font-weight="bold" text-anchor="end" fill="#1a1a1a" stroke="#1a1a1a" stroke-width="0.21" textLength="11.3" lengthAdjust="spacingAndGlyphs" transform="rotate(-29 553.00 603.20)">NC</text>
<text x="581.00" y="602.20" font-size="6" font-weight="bold" text-anchor="end" fill="#1a1a1a" stroke="#1a1a1a" stroke-width="0.21" textLength="39.5" lengthAdjust="spacingAndGlyphs" transform="rotate(-29 581.00 602.20)">siRNA-504</text>
<text x="609.00" y="602.20" font-size="6" font-weight="bold" text-anchor="end" fill="#1a1a1a" stroke="#1a1a1a" stroke-width="0.21" textLength="39.5" lengthAdjust="spacingAndGlyphs" transform="rotate(-29 609.00 602.20)">siRNA-912</text>
<text x="492.60" y="560.60" font-size="8.2" font-weight="bold" text-anchor="middle" fill="#1a1a1a" stroke="#1a1a1a" stroke-width="0.29" textLength="43" lengthAdjust="spacingAndGlyphs" transform="rotate(-90 492.60 560.60)">Colny Numbers</text>
<text x="3.00" y="617.40" font-size="10" font-weight="bold" text-anchor="start" fill="#1a1a1a" stroke="#1a1a1a" stroke-width="0.35">M</text>
<line x1="27.00" y1="755.15" x2="27.00" y2="629.25" stroke="#222" stroke-width="1.3"/>
<line x1="24.00" y1="754.50" x2="27.00" y2="754.50" stroke="#222" stroke-width="1.3"/>
<text x="23.20" y="757.52" font-size="8.4" font-weight="bold" text-anchor="end" fill="#1a1a1a" stroke="#1a1a1a" stroke-width="0.29" textLength="11" lengthAdjust="spacingAndGlyphs">0.0</text>
<line x1="24.00" y1="712.75" x2="27.00" y2="712.75" stroke="#222" stroke-width="1.3"/>
<text x="23.20" y="715.77" font-size="8.4" font-weight="bold" text-anchor="end" fill="#1a1a1a" stroke="#1a1a1a" stroke-width="0.29" textLength="11" lengthAdjust="spacingAndGlyphs">0.5</text>
<line x1="24.00" y1="671.00" x2="27.00" y2="671.00" stroke="#222" stroke-width="1.3"/>
<text x="23.20" y="674.02" font-size="8.4" font-weight="bold" text-anchor="end" fill="#1a1a1a" stroke="#1a1a1a" stroke-width="0.29" textLength="11" lengthAdjust="spacingAndGlyphs">1.0</text>
<line x1="24.00" y1="629.25" x2="27.00" y2="629.25" stroke="#222" stroke-width="1.3"/>
<text x="23.20" y="632.27" font-size="8.4" font-weight="bold" text-anchor="end" fill="#1a1a1a" stroke="#1a1a1a" stroke-width="0.29" textLength="11" lengthAdjust="spacingAndGlyphs">1.5</text>
<line x1="24.00" y1="754.50" x2="92.00" y2="754.50" stroke="#222" stroke-width="1.3"/>
<rect x="34.25" y="671.00" width="12.75" height="83.50" fill="#d4d4d4" stroke="#9a9a9a" stroke-width="0.8"/>
<rect x="53.25" y="724.02" width="13.00" height="30.48" fill="#808080" stroke="#555" stroke-width="0.8"/>
<rect x="73.00" y="717.76" width="12.75" height="36.74" fill="#5f5f5f" stroke="#333" stroke-width="0.8"/>
<line x1="59.75" y1="724.02" x2="59.75" y2="720.26" stroke="#222" stroke-width="0.8"/>
<line x1="56.25" y1="720.26" x2="63.25" y2="720.26" stroke="#222" stroke-width="0.8"/>
<line x1="79.38" y1="717.76" x2="79.38" y2="712.75" stroke="#222" stroke-width="0.8"/>
<line x1="75.88" y1="712.75" x2="82.88" y2="712.75" stroke="#222" stroke-width="0.8"/>
<polyline points="40.62,668.50 40.62,661.25 59.75,661.25 59.75,718.50" fill="none" stroke="#555" stroke-width="0.9"/>
<polyline points="40.62,658.50 40.62,652.50 79.38,652.50 79.38,712.00" fill="none" stroke="#555" stroke-width="0.9"/>
<text x="50.00" y="663.20" font-size="8" font-weight="bold" text-anchor="middle" fill="#1a1a1a" stroke="#1a1a1a" stroke-width="0.28">****</text>
<text x="60.00" y="652.50" font-size="8" font-weight="bold" text-anchor="middle" fill="#1a1a1a" stroke="#1a1a1a" stroke-width="0.28">****</text>
<line x1="40.62" y1="754.50" x2="40.62" y2="759.80" stroke="#222" stroke-width="1.2"/>
<line x1="59.75" y1="754.50" x2="59.75" y2="759.80" stroke="#222" stroke-width="1.2"/>
<line x1="79.38" y1="754.50" x2="79.38" y2="759.80" stroke="#222" stroke-width="1.2"/>
<text x="42.73" y="767.30" font-size="6.6" font-weight="bold" text-anchor="end" fill="#1a1a1a" font-style="italic" stroke="#1a1a1a" stroke-width="0.23" transform="rotate(-53 42.73 767.30)">NC</text>
<text x="61.85" y="767.30" font-size="6.6" font-weight="bold" text-anchor="end" fill="#1a1a1a" font-style="italic" stroke="#1a1a1a" stroke-width="0.23" transform="rotate(-53 61.85 767.30)">siRNA-504</text>
<text x="81.47" y="767.30" font-size="6.6" font-weight="bold" text-anchor="end" fill="#1a1a1a" font-style="italic" stroke="#1a1a1a" stroke-width="0.23" transform="rotate(-53 81.47 767.30)">siRNA-912</text>
<text x="9.30" y="692.50" font-size="9" font-weight="bold" text-anchor="middle" fill="#1a1a1a" stroke="#1a1a1a" stroke-width="0.32" textLength="88" lengthAdjust="spacingAndGlyphs" transform="rotate(-90 9.30 692.50)">Relative mRNA level</text>
<text x="116.00" y="612.30" font-size="10" font-weight="bold" text-anchor="start" fill="#1a1a1a" stroke="#1a1a1a" stroke-width="0.35">N</text>
<text x="142.00" y="616.80" font-size="8.6" font-weight="bold" text-anchor="start" fill="#1a1a1a" stroke="#1a1a1a" stroke-width="0.30" transform="rotate(-52 142.00 616.80)">NC</text>
<text x="176.50" y="617.50" font-size="7.0" font-weight="bold" text-anchor="start" fill="#1a1a1a" stroke="#1a1a1a" stroke-width="0.24" textLength="33.5" lengthAdjust="spacingAndGlyphs" transform="rotate(-52 176.50 617.50)">siRNA-504</text>
<text x="205.00" y="617.50" font-size="7.0" font-weight="bold" text-anchor="start" fill="#1a1a1a" stroke="#1a1a1a" stroke-width="0.24" textLength="33.5" lengthAdjust="spacingAndGlyphs" transform="rotate(-52 205.00 617.50)">siRNA-912</text>
<text x="90.50" y="632.80" font-size="9" font-weight="bold" text-anchor="start" fill="#1a1a1a" stroke="#1a1a1a" stroke-width="0.32" textLength="31.5" lengthAdjust="spacingAndGlyphs">WNT7B</text>
<text x="90.50" y="653.30" font-size="9" font-weight="bold" text-anchor="start" fill="#1a1a1a" stroke="#1a1a1a" stroke-width="0.32" textLength="32" lengthAdjust="spacingAndGlyphs">GAPDH</text>
<text x="219.50" y="630.80" font-size="9" font-weight="bold" text-anchor="start" fill="#1a1a1a" stroke="#1a1a1a" stroke-width="0.32" textLength="25.5" lengthAdjust="spacingAndGlyphs">42kDa</text>
<text x="219.50" y="651.30" font-size="9" font-weight="bold" text-anchor="start" fill="#1a1a1a" stroke="#1a1a1a" stroke-width="0.32" textLength="25.5" lengthAdjust="spacingAndGlyphs">36kDa</text>
<text x="169.50" y="669.00" font-size="10" font-weight="bold" text-anchor="middle" fill="#1a1a1a" stroke="#1a1a1a" stroke-width="0.35">HN30</text>
<clipPath id="cl7"><rect x="134.5" y="620.75" width="82.25" height="16.75"/></clipPath>
<g clip-path="url(#cl7)">
<rect x="134.50" y="620.75" width="82.25" height="16.75" fill="#dedede"/>
<rect x="138.00" y="626.60" width="22.50" height="5.60" rx="2.80" fill="#151515" opacity="1" filter="url(#bl1)"/>
<rect x="165.00" y="627.60" width="21.50" height="4.80" rx="2.40" fill="#333333" opacity="1" filter="url(#bl1)"/>
<rect x="189.00" y="628.60" width="23.00" height="4.00" rx="2.00" fill="#6a6a6a" opacity="1" filter="url(#bl1)"/>
</g>
<rect x="134.5" y="620.75" width="82.25" height="16.75" fill="none" stroke="#333" stroke-width="1.0"/>
<clipPath id="cl8"><rect x="135" y="640.75" width="81.75" height="17.5"/></clipPath>
<g clip-path="url(#cl8)">
<rect x="135.00" y="640.75" width="81.75" height="17.50" fill="#d9d9d9"/>
<rect x="138.50" y="646.60" width="22.50" height="6.40" rx="3.00" fill="#0d0d0d" opacity="1" filter="url(#bl1)"/>
<rect x="164.00" y="646.80" width="22.50" height="6.20" rx="3.00" fill="#121212" opacity="1" filter="url(#bl1)"/>
<rect x="189.00" y="646.20" width="23.00" height="6.60" rx="3.00" fill="#080808" opacity="1" filter="url(#bl1)"/>
</g>
<rect x="135" y="640.75" width="81.75" height="17.5" fill="none" stroke="#333" stroke-width="1.0"/>
<line x1="157.00" y1="746.80" x2="157.00" y2="698.75" stroke="#222" stroke-width="1.1"/>
<line x1="153.50" y1="746.25" x2="157.00" y2="746.25" stroke="#222" stroke-width="1.1"/>
<text x="152.30" y="748.05" font-size="5.0" font-weight="700" text-anchor="end" fill="#1a1a1a" textLength="10.3" lengthAdjust="spacingAndGlyphs">0.0</text>
<line x1="153.50" y1="730.41" x2="157.00" y2="730.41" stroke="#222" stroke-width="1.1"/>
<text x="152.30" y="732.21" font-size="5.0" font-weight="700" text-anchor="end" fill="#1a1a1a" textLength="10.3" lengthAdjust="spacingAndGlyphs">0.5</text>
<line x1="153.50" y1="714.58" x2="157.00" y2="714.58" stroke="#222" stroke-width="1.1"/>
<text x="152.30" y="716.38" font-size="5.0" font-weight="700" text-anchor="end" fill="#1a1a1a" textLength="10.3" lengthAdjust="spacingAndGlyphs">1.0</text>
<line x1="153.50" y1="698.75" x2="157.00" y2="698.75" stroke="#222" stroke-width="1.1"/>
<text x="152.30" y="700.54" font-size="5.0" font-weight="700" text-anchor="end" fill="#1a1a1a" textLength="10.3" lengthAdjust="spacingAndGlyphs">1.5</text>
<line x1="153.50" y1="746.25" x2="218.25" y2="746.25" stroke="#222" stroke-width="1.1"/>
<rect x="163.75" y="704.13" width="12.50" height="42.12" fill="#d4d4d4" stroke="#777" stroke-width="0.7"/>
<rect x="182.50" y="720.91" width="12.00" height="25.34" fill="#a09fa4" stroke="#555" stroke-width="0.7"/>
<rect x="200.00" y="734.22" width="12.50" height="12.03" fill="#5f5f5f" stroke="#333" stroke-width="0.7"/>
<line x1="170.00" y1="704.13" x2="170.00" y2="702.55" stroke="#222" stroke-width="0.7"/>
<line x1="167.00" y1="702.55" x2="173.00" y2="702.55" stroke="#222" stroke-width="0.7"/>
<line x1="188.50" y1="720.91" x2="188.50" y2="719.65" stroke="#222" stroke-width="0.7"/>
<line x1="185.50" y1="719.65" x2="191.50" y2="719.65" stroke="#222" stroke-width="0.7"/>
<line x1="206.25" y1="734.22" x2="206.25" y2="732.95" stroke="#222" stroke-width="0.7"/>
<line x1="203.25" y1="732.95" x2="209.25" y2="732.95" stroke="#222" stroke-width="0.7"/>
<polyline points="170.00,702.00 170.00,698.25 188.50,698.25 188.50,720.00" fill="none" stroke="#444" stroke-width="0.8"/>
<polyline points="170.00,697.00 170.00,689.50 206.25,689.50 206.25,733.00" fill="none" stroke="#444" stroke-width="0.8"/>
<text x="178.50" y="698.30" font-size="7.5" font-weight="bold" text-anchor="middle" fill="#1a1a1a" stroke="#1a1a1a" stroke-width="0.26" textLength="14.2" lengthAdjust="spacingAndGlyphs">***</text>
<text x="187.60" y="689.80" font-size="7.5" font-weight="bold" text-anchor="middle" fill="#1a1a1a" stroke="#1a1a1a" stroke-width="0.26" textLength="14.9" lengthAdjust="spacingAndGlyphs">***</text>
<line x1="170.00" y1="746.25" x2="170.00" y2="748.75" stroke="#222" stroke-width="0.9"/>
<line x1="188.50" y1="746.25" x2="188.50" y2="748.75" stroke="#222" stroke-width="0.9"/>
<line x1="206.25" y1="746.25" x2="206.25" y2="748.75" stroke="#222" stroke-width="0.9"/>
<text x="171.20" y="754.00" font-size="5.2" font-weight="bold" text-anchor="end" fill="#1a1a1a" stroke="#1a1a1a" stroke-width="0.18" textLength="10.5" lengthAdjust="spacingAndGlyphs" transform="rotate(-24 171.20 754.00)">NC</text>
<text x="189.70" y="754.00" font-size="5.2" font-weight="bold" text-anchor="end" fill="#1a1a1a" stroke="#1a1a1a" stroke-width="0.18" textLength="28.35" lengthAdjust="spacingAndGlyphs" transform="rotate(-24 189.70 754.00)">siRNA-504</text>
<text x="207.45" y="754.00" font-size="5.2" font-weight="bold" text-anchor="end" fill="#1a1a1a" stroke="#1a1a1a" stroke-width="0.18" textLength="28.35" lengthAdjust="spacingAndGlyphs" transform="rotate(-24 207.45 754.00)">siRNA-912</text>
<text x="132.60" y="722.30" font-size="5.8" font-weight="bold" text-anchor="middle" fill="#1a1a1a" stroke="#1a1a1a" stroke-width="0.20" textLength="46.7" lengthAdjust="spacingAndGlyphs" transform="rotate(-90 132.60 722.30)">Relative protein level</text>
<text x="262.20" y="615.00" font-size="10" font-weight="bold" text-anchor="start" fill="#1a1a1a" stroke="#1a1a1a" stroke-width="0.35">O</text>
<line x1="287.90" y1="765.65" x2="287.90" y2="656.80" stroke="#222" stroke-width="1.3"/>
<line x1="285.10" y1="765.00" x2="287.90" y2="765.00" stroke="#222" stroke-width="1.3"/>
<text x="284.30" y="767.59" font-size="7.2" font-weight="bold" text-anchor="end" fill="#1a1a1a" stroke="#1a1a1a" stroke-width="0.25" textLength="12" lengthAdjust="spacingAndGlyphs">0.0</text>
<line x1="285.10" y1="737.95" x2="287.90" y2="737.95" stroke="#222" stroke-width="1.3"/>
<text x="284.30" y="740.54" font-size="7.2" font-weight="bold" text-anchor="end" fill="#1a1a1a" stroke="#1a1a1a" stroke-width="0.25" textLength="12" lengthAdjust="spacingAndGlyphs">0.1</text>
<line x1="285.10" y1="710.90" x2="287.90" y2="710.90" stroke="#222" stroke-width="1.3"/>
<text x="284.30" y="713.49" font-size="7.2" font-weight="bold" text-anchor="end" fill="#1a1a1a" stroke="#1a1a1a" stroke-width="0.25" textLength="12" lengthAdjust="spacingAndGlyphs">0.2</text>
<line x1="285.10" y1="683.85" x2="287.90" y2="683.85" stroke="#222" stroke-width="1.3"/>
<text x="284.30" y="686.44" font-size="7.2" font-weight="bold" text-anchor="end" fill="#1a1a1a" stroke="#1a1a1a" stroke-width="0.25" textLength="12" lengthAdjust="spacingAndGlyphs">0.3</text>
<line x1="285.10" y1="656.80" x2="287.90" y2="656.80" stroke="#222" stroke-width="1.3"/>
<text x="284.30" y="659.39" font-size="7.2" font-weight="bold" text-anchor="end" fill="#1a1a1a" stroke="#1a1a1a" stroke-width="0.25" textLength="12" lengthAdjust="spacingAndGlyphs">0.4</text>
<line x1="285.10" y1="765.00" x2="411.50" y2="765.00" stroke="#222" stroke-width="1.3"/>
<line x1="287.90" y1="765.00" x2="287.90" y2="768.50" stroke="#222" stroke-width="1.3"/>
<text x="287.40" y="777.50" font-size="7.8" font-weight="bold" text-anchor="middle" fill="#1a1a1a" stroke="#1a1a1a" stroke-width="0.27">0</text>
<line x1="312.62" y1="765.00" x2="312.62" y2="768.50" stroke="#222" stroke-width="1.3"/>
<text x="312.12" y="777.50" font-size="7.8" font-weight="bold" text-anchor="middle" fill="#1a1a1a" stroke="#1a1a1a" stroke-width="0.27">1</text>
<line x1="337.34" y1="765.00" x2="337.34" y2="768.50" stroke="#222" stroke-width="1.3"/>
<text x="336.84" y="777.50" font-size="7.8" font-weight="bold" text-anchor="middle" fill="#1a1a1a" stroke="#1a1a1a" stroke-width="0.27">2</text>
<line x1="362.06" y1="765.00" x2="362.06" y2="768.50" stroke="#222" stroke-width="1.3"/>
<text x="361.56" y="777.50" font-size="7.8" font-weight="bold" text-anchor="middle" fill="#1a1a1a" stroke="#1a1a1a" stroke-width="0.27">3</text>
<line x1="386.78" y1="765.00" x2="386.78" y2="768.50" stroke="#222" stroke-width="1.3"/>
<text x="386.28" y="777.50" font-size="7.8" font-weight="bold" text-anchor="middle" fill="#1a1a1a" stroke="#1a1a1a" stroke-width="0.27">4</text>
<line x1="411.50" y1="765.00" x2="411.50" y2="768.50" stroke="#222" stroke-width="1.3"/>
<text x="411.00" y="777.50" font-size="7.8" font-weight="bold" text-anchor="middle" fill="#1a1a1a" stroke="#1a1a1a" stroke-width="0.27">5</text>
<text x="349.60" y="789.50" font-size="8.5" font-weight="bold" text-anchor="middle" fill="#1a1a1a" stroke="#1a1a1a" stroke-width="0.30">Day</text>
<text x="265.20" y="710.40" font-size="7.8" font-weight="bold" text-anchor="middle" fill="#1a1a1a" stroke="#1a1a1a" stroke-width="0.27" textLength="64" lengthAdjust="spacingAndGlyphs" transform="rotate(-90 265.20 710.40)">OD value(450nm)</text>
<line x1="312.62" y1="754.99" x2="312.62" y2="757.16" stroke="#f5a0a0" stroke-width="0.9"/>
<line x1="310.82" y1="754.99" x2="314.42" y2="754.99" stroke="#f5a0a0" stroke-width="0.9"/>
<line x1="310.82" y1="757.16" x2="314.42" y2="757.16" stroke="#f5a0a0" stroke-width="0.9"/>
<line x1="337.34" y1="736.60" x2="337.34" y2="739.30" stroke="#f5a0a0" stroke-width="0.9"/>
<line x1="335.54" y1="736.60" x2="339.14" y2="736.60" stroke="#f5a0a0" stroke-width="0.9"/>
<line x1="335.54" y1="739.30" x2="339.14" y2="739.30" stroke="#f5a0a0" stroke-width="0.9"/>
<line x1="362.06" y1="716.31" x2="362.06" y2="721.72" stroke="#f5a0a0" stroke-width="0.9"/>
<line x1="360.26" y1="716.31" x2="363.86" y2="716.31" stroke="#f5a0a0" stroke-width="0.9"/>
<line x1="360.26" y1="721.72" x2="363.86" y2="721.72" stroke="#f5a0a0" stroke-width="0.9"/>
<line x1="386.78" y1="685.20" x2="386.78" y2="693.32" stroke="#f5a0a0" stroke-width="0.9"/>
<line x1="384.98" y1="685.20" x2="388.58" y2="685.20" stroke="#f5a0a0" stroke-width="0.9"/>
<line x1="384.98" y1="693.32" x2="388.58" y2="693.32" stroke="#f5a0a0" stroke-width="0.9"/>
<line x1="312.62" y1="756.34" x2="312.62" y2="758.51" stroke="#9ccaf5" stroke-width="0.9"/>
<line x1="310.82" y1="756.34" x2="314.42" y2="756.34" stroke="#9ccaf5" stroke-width="0.9"/>
<line x1="310.82" y1="758.51" x2="314.42" y2="758.51" stroke="#9ccaf5" stroke-width="0.9"/>
<line x1="337.34" y1="739.57" x2="337.34" y2="742.82" stroke="#9ccaf5" stroke-width="0.9"/>
<line x1="335.54" y1="739.57" x2="339.14" y2="739.57" stroke="#9ccaf5" stroke-width="0.9"/>
<line x1="335.54" y1="742.82" x2="339.14" y2="742.82" stroke="#9ccaf5" stroke-width="0.9"/>
<line x1="362.06" y1="725.78" x2="362.06" y2="731.19" stroke="#9ccaf5" stroke-width="0.9"/>
<line x1="360.26" y1="725.78" x2="363.86" y2="725.78" stroke="#9ccaf5" stroke-width="0.9"/>
<line x1="360.26" y1="731.19" x2="363.86" y2="731.19" stroke="#9ccaf5" stroke-width="0.9"/>
<line x1="386.78" y1="700.62" x2="386.78" y2="710.36" stroke="#9ccaf5" stroke-width="0.9"/>
<line x1="384.98" y1="700.62" x2="388.58" y2="700.62" stroke="#9ccaf5" stroke-width="0.9"/>
<line x1="384.98" y1="710.36" x2="388.58" y2="710.36" stroke="#9ccaf5" stroke-width="0.9"/>
<line x1="312.62" y1="757.43" x2="312.62" y2="759.59" stroke="#9be09b" stroke-width="0.9"/>
<line x1="310.82" y1="757.43" x2="314.42" y2="757.43" stroke="#9be09b" stroke-width="0.9"/>
<line x1="310.82" y1="759.59" x2="314.42" y2="759.59" stroke="#9be09b" stroke-width="0.9"/>
<line x1="337.34" y1="742.55" x2="337.34" y2="745.79" stroke="#9be09b" stroke-width="0.9"/>
<line x1="335.54" y1="742.55" x2="339.14" y2="742.55" stroke="#9be09b" stroke-width="0.9"/>
<line x1="335.54" y1="745.79" x2="339.14" y2="745.79" stroke="#9be09b" stroke-width="0.9"/>
<line x1="362.06" y1="730.38" x2="362.06" y2="734.70" stroke="#9be09b" stroke-width="0.9"/>
<line x1="360.26" y1="730.38" x2="363.86" y2="730.38" stroke="#9be09b" stroke-width="0.9"/>
<line x1="360.26" y1="734.70" x2="363.86" y2="734.70" stroke="#9be09b" stroke-width="0.9"/>
<line x1="386.78" y1="712.25" x2="386.78" y2="720.37" stroke="#9be09b" stroke-width="0.9"/>
<line x1="384.98" y1="712.25" x2="388.58" y2="712.25" stroke="#9be09b" stroke-width="0.9"/>
<line x1="384.98" y1="720.37" x2="388.58" y2="720.37" stroke="#9be09b" stroke-width="0.9"/>
<polyline points="312.62,758.51 337.34,744.17 362.06,732.54 386.78,716.31" fill="none" stroke="#12c212" stroke-width="1.4"/>
<polyline points="312.62,757.43 337.34,741.20 362.06,728.48 386.78,705.49" fill="none" stroke="#0a80ff" stroke-width="1.4"/>
<polyline points="312.62,756.07 337.34,737.95 362.06,719.01 386.78,689.26" fill="none" stroke="#fc0808" stroke-width="1.4"/>
<polygon points="312.62,755.98 315.15,760.35 310.09,760.35" fill="#12c212"/>
<polygon points="337.34,741.64 339.87,746.01 334.81,746.01" fill="#12c212"/>
<polygon points="362.06,730.01 364.59,734.38 359.53,734.38" fill="#12c212"/>
<polygon points="386.78,713.78 389.31,718.15 384.25,718.15" fill="#12c212"/>
<rect x="310.52" y="755.33" width="4.20" height="4.20" fill="#0a80ff"/>
<rect x="335.24" y="739.10" width="4.20" height="4.20" fill="#0a80ff"/>
<rect x="359.96" y="726.38" width="4.20" height="4.20" fill="#0a80ff"/>
<rect x="384.68" y="703.39" width="4.20" height="4.20" fill="#0a80ff"/>
<circle cx="312.62" cy="756.07" r="2.40" fill="#fc0808"/>
<circle cx="337.34" cy="737.95" r="2.40" fill="#fc0808"/>
<circle cx="362.06" cy="719.01" r="2.40" fill="#fc0808"/>
<circle cx="386.78" cy="689.26" r="2.40" fill="#fc0808"/>
<line x1="296.00" y1="662.70" x2="308.00" y2="662.70" stroke="#fc0808" stroke-width="1.4"/>
<circle cx="301.90" cy="662.70" r="2.30" fill="#fc0808"/>
<text x="314.40" y="665.90" font-size="8.8" font-weight="normal" text-anchor="start" fill="#1a1a1a">NC</text>
<line x1="296.00" y1="671.80" x2="308.00" y2="671.80" stroke="#0a80ff" stroke-width="1.4"/>
<rect x="299.90" y="669.80" width="4.00" height="4.00" fill="#0a80ff"/>
<text x="314.40" y="675.20" font-size="8.8" font-weight="normal" text-anchor="start" fill="#1a1a1a" textLength="42" lengthAdjust="spacingAndGlyphs">siRNA-504</text>
<line x1="296.00" y1="682.70" x2="308.00" y2="682.70" stroke="#12c212" stroke-width="1.4"/>
<polygon points="301.90,680.28 304.32,684.46 299.48,684.46" fill="#12c212"/>
<text x="314.40" y="685.60" font-size="8.8" font-weight="normal" text-anchor="start" fill="#1a1a1a" textLength="42" lengthAdjust="spacingAndGlyphs">siRNA-912</text>
<polyline points="394.50,683.00 397.20,683.00 397.20,703.00 394.50,703.00" fill="none" stroke="#9a9a9a" stroke-width="0.8"/>
<polyline points="400.50,683.00 406.40,683.00 406.40,713.00 400.50,713.00" fill="none" stroke="#9a9a9a" stroke-width="0.8"/>
<text x="401.80" y="697.00" font-size="9" font-weight="bold" text-anchor="middle" fill="#1a1a1a" stroke="#1a1a1a" stroke-width="0.32">*</text>
<text x="409.60" y="702.00" font-size="9" font-weight="bold" text-anchor="middle" fill="#1a1a1a" stroke="#1a1a1a" stroke-width="0.32">*</text>
<text x="439.50" y="617.40" font-size="10" font-weight="bold" text-anchor="start" fill="#1a1a1a" stroke="#1a1a1a" stroke-width="0.35">P</text>
<text x="482.50" y="635.60" font-size="10" font-weight="bold" text-anchor="middle" fill="#1a1a1a" stroke="#1a1a1a" stroke-width="0.35" textLength="14" lengthAdjust="spacingAndGlyphs">NC</text>
<text x="570.10" y="635.60" font-size="10" font-weight="bold" text-anchor="middle" fill="#1a1a1a" stroke="#1a1a1a" stroke-width="0.35" textLength="51" lengthAdjust="spacingAndGlyphs">siRNA-504</text>
<text x="653.20" y="635.60" font-size="10" font-weight="bold" text-anchor="middle" fill="#1a1a1a" stroke="#1a1a1a" stroke-width="0.35" textLength="51" lengthAdjust="spacingAndGlyphs">siRNA-912</text>
<text x="418.00" y="674.50" font-size="9" font-weight="bold" text-anchor="start" fill="#1a1a1a" stroke="#1a1a1a" stroke-width="0.32" textLength="25" lengthAdjust="spacingAndGlyphs">HN30</text>
<clipPath id="pc8"><ellipse cx="484.3" cy="672.5" rx="36.1" ry="35.0"/></clipPath>
<ellipse cx="484.3" cy="672.5" rx="36.1" ry="35.0" fill="#868c94"/>
<g clip-path="url(#pc8)">
<ellipse cx="484.3" cy="672.5" rx="33.5" ry="32.4" fill="none" stroke="#989ea8" stroke-opacity="0.6" stroke-width="1.6" filter="url(#bl05)"/>
<ellipse cx="496" cy="671" rx="4.5" ry="4.05" fill="none" stroke="#989ea8" stroke-opacity="0.8" stroke-width="1.3" filter="url(#bl05)"/>
<g fill="#68679c" filter="url(#bl07)">
<circle cx="486.9" cy="693.3" r="0.47"/>
<circle cx="454.8" cy="657.2" r="0.71"/>
<circle cx="464.9" cy="689.4" r="0.73"/>
<circle cx="489.5" cy="647.2" r="0.70"/>
<circle cx="454.5" cy="684.1" r="0.47"/>
<circle cx="482.0" cy="659.5" r="0.48"/>
<circle cx="463.7" cy="653.6" r="0.43"/>
<circle cx="514.6" cy="678.7" r="0.79"/>
<circle cx="491.1" cy="702.9" r="0.73"/>
<circle cx="505.5" cy="693.0" r="0.70"/>
<circle cx="494.8" cy="666.3" r="0.71"/>
<circle cx="517.0" cy="683.6" r="0.54"/>
<circle cx="462.9" cy="655.7" r="0.48"/>
<circle cx="503.1" cy="646.2" r="0.54"/>
<circle cx="477.7" cy="661.2" r="0.58"/>
<circle cx="455.8" cy="673.7" r="0.58"/>
<circle cx="487.7" cy="676.2" r="0.61"/>
<circle cx="457.6" cy="685.5" r="0.73"/>
<circle cx="503.1" cy="655.5" r="0.69"/>
<circle cx="497.1" cy="687.2" r="0.43"/>
<circle cx="488.8" cy="667.4" r="0.79"/>
<circle cx="507.8" cy="691.2" r="0.70"/>
<circle cx="493.9" cy="664.7" r="0.69"/>
<circle cx="460.8" cy="653.9" r="0.59"/>
<circle cx="515.6" cy="665.0" r="0.51"/>
<circle cx="481.9" cy="650.2" r="0.71"/>
<circle cx="463.0" cy="679.2" r="0.84"/>
<circle cx="488.7" cy="689.8" r="0.71"/>
<circle cx="499.0" cy="661.8" r="0.55"/>
<circle cx="459.8" cy="694.9" r="0.80"/>
<circle cx="480.9" cy="643.3" r="0.50"/>
<circle cx="498.2" cy="675.2" r="0.48"/>
<circle cx="510.6" cy="683.4" r="0.51"/>
<circle cx="499.1" cy="693.7" r="0.55"/>
<circle cx="476.8" cy="658.0" r="0.45"/>
<circle cx="455.8" cy="652.8" r="0.72"/>
<circle cx="458.3" cy="672.8" r="0.84"/>
<circle cx="498.8" cy="643.6" r="0.41"/>
<circle cx="509.4" cy="663.2" r="0.69"/>
<circle cx="469.5" cy="652.9" r="0.48"/>
<circle cx="490.6" cy="644.2" r="0.43"/>
<circle cx="463.6" cy="658.8" r="0.56"/>
<circle cx="509.8" cy="659.3" r="0.81"/>
<circle cx="495.5" cy="687.9" r="0.78"/>
<circle cx="497.4" cy="649.2" r="0.79"/>
<circle cx="468.5" cy="663.1" r="0.54"/>
<circle cx="473.1" cy="644.2" r="0.51"/>
<circle cx="463.7" cy="659.1" r="0.50"/>
<circle cx="469.5" cy="674.8" r="0.43"/>
<circle cx="507.2" cy="663.7" r="0.77"/>
<circle cx="488.0" cy="665.5" r="0.72"/>
<circle cx="513.4" cy="677.3" r="0.74"/>
<circle cx="489.4" cy="658.3" r="0.55"/>
<circle cx="494.2" cy="690.7" r="0.79"/>
<circle cx="495.8" cy="661.0" r="0.63"/>
<circle cx="476.7" cy="661.7" r="0.64"/>
<circle cx="486.9" cy="667.5" r="0.52"/>
<circle cx="484.9" cy="667.3" r="0.73"/>
<circle cx="492.8" cy="691.9" r="0.64"/>
<circle cx="474.3" cy="648.4" r="0.62"/>
</g>
<g fill="#68679c" filter="url(#bl07)">
<circle cx="464.9" cy="665.6" r="0.54"/>
<circle cx="486.0" cy="683.5" r="0.83"/>
<circle cx="487.6" cy="653.0" r="0.67"/>
<circle cx="479.5" cy="667.7" r="0.64"/>
<circle cx="499.5" cy="680.6" r="0.95"/>
<circle cx="471.9" cy="657.1" r="0.64"/>
<circle cx="482.0" cy="668.2" r="0.64"/>
<circle cx="467.9" cy="689.4" r="0.54"/>
<circle cx="483.2" cy="676.3" r="0.87"/>
<circle cx="471.3" cy="693.3" r="0.61"/>
<circle cx="484.4" cy="666.6" r="0.90"/>
<circle cx="502.6" cy="668.9" r="0.80"/>
<circle cx="499.8" cy="658.4" r="0.93"/>
<circle cx="477.3" cy="692.7" r="0.84"/>
<circle cx="477.0" cy="677.8" r="0.90"/>
<circle cx="467.6" cy="674.7" r="0.89"/>
<circle cx="472.5" cy="673.3" r="0.79"/>
<circle cx="472.2" cy="670.8" r="0.80"/>
<circle cx="487.4" cy="668.0" r="0.86"/>
<circle cx="481.0" cy="659.7" r="0.55"/>
<circle cx="476.2" cy="665.2" r="0.58"/>
<circle cx="485.9" cy="665.9" r="0.50"/>
<circle cx="500.5" cy="644.4" r="0.60"/>
<circle cx="469.5" cy="679.9" r="0.83"/>
<circle cx="496.3" cy="673.7" r="0.57"/>
<circle cx="490.8" cy="667.8" r="0.92"/>
<circle cx="465.7" cy="677.2" r="0.47"/>
<circle cx="483.3" cy="680.9" r="0.63"/>
<circle cx="486.0" cy="682.2" r="0.49"/>
<circle cx="455.3" cy="661.6" r="0.88"/>
</g>
<g fill="#68679c" filter="url(#bl07)">
<circle cx="515.8" cy="684.3" r="0.75"/>
<circle cx="510.7" cy="689.8" r="0.99"/>
<circle cx="516.4" cy="685.5" r="0.95"/>
<circle cx="516.2" cy="671.3" r="1.02"/>
<circle cx="514.5" cy="680.5" r="0.74"/>
<circle cx="512.2" cy="671.7" r="0.84"/>
<circle cx="514.9" cy="672.8" r="1.01"/>
<circle cx="514.3" cy="679.1" r="0.76"/>
<circle cx="513.0" cy="691.1" r="1.01"/>
<circle cx="517.2" cy="681.9" r="0.78"/>
<circle cx="515.5" cy="677.1" r="0.60"/>
<circle cx="517.9" cy="676.7" r="0.65"/>
<circle cx="513.9" cy="672.9" r="0.79"/>
<circle cx="511.3" cy="688.4" r="0.55"/>
<circle cx="516.4" cy="676.6" r="0.93"/>
<circle cx="511.4" cy="691.7" r="0.58"/>
<circle cx="512.8" cy="671.2" r="0.77"/>
<circle cx="510.7" cy="682.7" r="1.01"/>
<circle cx="516.3" cy="684.6" r="0.55"/>
<circle cx="517.9" cy="678.7" r="1.02"/>
<circle cx="511.2" cy="677.3" r="1.02"/>
<circle cx="516.0" cy="674.9" r="0.75"/>
<circle cx="514.3" cy="676.3" r="0.62"/>
<circle cx="510.7" cy="681.7" r="0.73"/>
<circle cx="512.8" cy="681.1" r="0.69"/>
<circle cx="513.1" cy="687.0" r="0.58"/>
</g>
<g fill="#68679c" filter="url(#bl07)">
<circle cx="477.0" cy="642.5" r="0.66"/>
<circle cx="481.2" cy="644.4" r="1.02"/>
<circle cx="485.0" cy="644.6" r="0.63"/>
<circle cx="479.8" cy="641.0" r="0.66"/>
<circle cx="478.9" cy="641.6" r="0.68"/>
<circle cx="486.3" cy="642.8" r="0.99"/>
<circle cx="481.8" cy="643.9" r="0.87"/>
<circle cx="482.5" cy="644.7" r="0.83"/>
<circle cx="481.5" cy="641.5" r="0.55"/>
<circle cx="480.7" cy="642.3" r="0.57"/>
<circle cx="486.5" cy="640.6" r="0.74"/>
<circle cx="478.7" cy="642.3" r="0.96"/>
<circle cx="486.6" cy="642.3" r="0.89"/>
<circle cx="485.8" cy="641.8" r="0.72"/>
<circle cx="480.8" cy="644.3" r="0.67"/>
<circle cx="485.9" cy="641.3" r="0.87"/>
</g>
</g>
<ellipse cx="484.3" cy="672.5" rx="35.7" ry="34.6" fill="none" stroke="#7e848f" stroke-opacity="0.8" stroke-width="0.9"/>
<clipPath id="pc9"><ellipse cx="564.1" cy="672.0" rx="37.4" ry="33.6"/></clipPath>
<ellipse cx="564.1" cy="672.0" rx="37.4" ry="33.6" fill="#888e95"/>
<g clip-path="url(#pc9)">
<ellipse cx="564.1" cy="672.0" rx="34.8" ry="31.0" fill="none" stroke="#979da5" stroke-opacity="0.6" stroke-width="1.6" filter="url(#bl05)"/>
<ellipse cx="577" cy="671" rx="4.5" ry="4.05" fill="none" stroke="#979da5" stroke-opacity="0.8" stroke-width="1.3" filter="url(#bl05)"/>
<g fill="#7c7aa6" filter="url(#bl07)">
<circle cx="592.8" cy="676.1" r="0.36"/>
<circle cx="562.6" cy="656.7" r="0.44"/>
<circle cx="593.4" cy="688.0" r="0.38"/>
<circle cx="565.3" cy="677.5" r="0.40"/>
<circle cx="566.0" cy="677.0" r="0.43"/>
<circle cx="569.0" cy="695.6" r="0.42"/>
<circle cx="596.7" cy="673.2" r="0.46"/>
<circle cx="547.8" cy="695.0" r="0.33"/>
</g>
</g>
<ellipse cx="564.1" cy="672.0" rx="37.0" ry="33.2" fill="none" stroke="#7d838b" stroke-opacity="0.8" stroke-width="0.9"/>
<clipPath id="pc10"><ellipse cx="644.0" cy="672.2" rx="37.2" ry="34.5"/></clipPath>
<ellipse cx="644.0" cy="672.2" rx="37.2" ry="34.5" fill="#8a9097"/>
<g clip-path="url(#pc10)">
<ellipse cx="644.0" cy="672.2" rx="34.6" ry="31.9" fill="none" stroke="#9aa0a9" stroke-opacity="0.6" stroke-width="1.6" filter="url(#bl05)"/>
<ellipse cx="656.6" cy="676" rx="4.5" ry="4.05" fill="none" stroke="#9aa0a9" stroke-opacity="0.8" stroke-width="1.3" filter="url(#bl05)"/>
<g fill="#68679c" filter="url(#bl07)">
<circle cx="641.7" cy="666.0" r="0.46"/>
<circle cx="632.4" cy="652.1" r="0.76"/>
<circle cx="619.7" cy="672.4" r="0.41"/>
<circle cx="627.5" cy="688.0" r="0.78"/>
<circle cx="644.9" cy="647.5" r="0.60"/>
<circle cx="653.0" cy="660.9" r="0.77"/>
<circle cx="662.2" cy="683.8" r="0.63"/>
<circle cx="647.5" cy="648.9" r="0.67"/>
<circle cx="621.1" cy="661.4" r="0.57"/>
<circle cx="651.4" cy="675.0" r="0.82"/>
<circle cx="634.5" cy="701.6" r="0.80"/>
<circle cx="664.8" cy="686.8" r="0.79"/>
<circle cx="669.2" cy="661.7" r="0.71"/>
<circle cx="636.1" cy="665.0" r="0.75"/>
<circle cx="627.3" cy="699.9" r="0.64"/>
<circle cx="659.1" cy="696.5" r="0.78"/>
<circle cx="674.3" cy="681.4" r="0.67"/>
<circle cx="652.6" cy="690.9" r="0.67"/>
<circle cx="610.4" cy="661.6" r="0.45"/>
<circle cx="648.6" cy="649.1" r="0.83"/>
<circle cx="673.5" cy="679.5" r="0.83"/>
<circle cx="668.2" cy="685.2" r="0.46"/>
<circle cx="638.6" cy="663.7" r="0.47"/>
<circle cx="669.1" cy="691.2" r="0.64"/>
<circle cx="667.3" cy="677.5" r="0.40"/>
<circle cx="677.9" cy="667.5" r="0.46"/>
<circle cx="674.9" cy="670.3" r="0.81"/>
<circle cx="626.2" cy="699.0" r="0.72"/>
<circle cx="667.5" cy="663.1" r="0.72"/>
<circle cx="664.7" cy="648.2" r="0.57"/>
<circle cx="669.4" cy="687.8" r="0.49"/>
<circle cx="615.2" cy="690.5" r="0.71"/>
<circle cx="642.2" cy="697.5" r="0.66"/>
<circle cx="627.9" cy="700.5" r="0.56"/>
<circle cx="650.8" cy="685.2" r="0.77"/>
<circle cx="673.6" cy="666.1" r="0.70"/>
<circle cx="650.2" cy="704.5" r="0.48"/>
<circle cx="631.5" cy="682.6" r="0.85"/>
<circle cx="627.5" cy="676.3" r="0.43"/>
<circle cx="638.3" cy="670.6" r="0.68"/>
<circle cx="666.2" cy="660.0" r="0.79"/>
<circle cx="613.0" cy="656.7" r="0.52"/>
<circle cx="645.2" cy="660.2" r="0.47"/>
<circle cx="643.1" cy="669.7" r="0.46"/>
<circle cx="652.6" cy="697.4" r="0.59"/>
<circle cx="640.9" cy="675.1" r="0.55"/>
<circle cx="656.3" cy="684.9" r="0.66"/>
<circle cx="653.3" cy="698.7" r="0.42"/>
<circle cx="638.2" cy="655.7" r="0.52"/>
<circle cx="670.0" cy="684.2" r="0.72"/>
</g>
<g fill="#68679c" filter="url(#bl07)">
<circle cx="646.1" cy="683.9" r="0.81"/>
<circle cx="621.9" cy="681.0" r="0.59"/>
<circle cx="634.9" cy="672.8" r="0.69"/>
<circle cx="613.3" cy="685.7" r="0.83"/>
<circle cx="616.3" cy="674.1" r="0.76"/>
<circle cx="637.7" cy="668.8" r="0.74"/>
<circle cx="647.1" cy="698.5" r="0.77"/>
<circle cx="647.8" cy="668.4" r="0.46"/>
<circle cx="661.2" cy="690.3" r="0.80"/>
<circle cx="663.0" cy="668.8" r="0.57"/>
<circle cx="658.1" cy="678.0" r="0.82"/>
<circle cx="630.3" cy="678.4" r="0.69"/>
<circle cx="629.7" cy="680.8" r="0.62"/>
<circle cx="630.7" cy="681.5" r="0.52"/>
<circle cx="644.4" cy="671.4" r="0.63"/>
<circle cx="644.5" cy="666.0" r="0.67"/>
<circle cx="631.8" cy="693.4" r="0.57"/>
<circle cx="628.0" cy="681.0" r="0.95"/>
<circle cx="641.4" cy="690.6" r="0.71"/>
<circle cx="648.1" cy="680.7" r="0.89"/>
<circle cx="642.5" cy="673.3" r="0.54"/>
<circle cx="656.4" cy="674.8" r="0.81"/>
<circle cx="648.7" cy="675.4" r="0.70"/>
<circle cx="647.4" cy="676.2" r="0.58"/>
<circle cx="658.7" cy="667.9" r="0.71"/>
<circle cx="656.7" cy="691.3" r="0.60"/>
<circle cx="640.7" cy="672.5" r="0.53"/>
<circle cx="635.7" cy="671.0" r="0.64"/>
<circle cx="626.9" cy="682.7" r="0.69"/>
<circle cx="636.6" cy="675.8" r="0.79"/>
<circle cx="616.3" cy="680.4" r="0.59"/>
<circle cx="635.9" cy="674.0" r="0.80"/>
<circle cx="633.4" cy="669.3" r="0.69"/>
<circle cx="652.0" cy="676.6" r="0.49"/>
<circle cx="638.4" cy="681.3" r="0.90"/>
</g>
<g fill="#68679c" filter="url(#bl07)">
<circle cx="618.5" cy="686.6" r="0.85"/>
<circle cx="614.7" cy="685.2" r="0.85"/>
<circle cx="619.4" cy="691.6" r="0.63"/>
<circle cx="618.0" cy="685.0" r="0.56"/>
<circle cx="613.7" cy="685.3" r="0.98"/>
<circle cx="617.0" cy="693.8" r="0.86"/>
<circle cx="613.0" cy="687.7" r="0.83"/>
<circle cx="618.1" cy="691.7" r="0.68"/>
<circle cx="618.2" cy="689.2" r="0.85"/>
<circle cx="618.6" cy="692.1" r="0.75"/>
<circle cx="616.3" cy="686.8" r="0.74"/>
<circle cx="618.5" cy="690.1" r="0.51"/>
<circle cx="618.3" cy="686.3" r="0.52"/>
<circle cx="616.2" cy="693.3" r="0.56"/>
<circle cx="615.0" cy="689.8" r="0.57"/>
<circle cx="616.7" cy="687.4" r="0.88"/>
</g>
<g fill="#68679c" filter="url(#bl07)">
<circle cx="650.0" cy="644.6" r="0.62"/>
<circle cx="652.6" cy="643.0" r="0.66"/>
<circle cx="646.0" cy="643.3" r="0.51"/>
<circle cx="650.2" cy="643.2" r="0.56"/>
<circle cx="649.3" cy="645.0" r="0.60"/>
<circle cx="651.6" cy="644.7" r="0.96"/>
</g>
</g>
<ellipse cx="644.0" cy="672.2" rx="36.800000000000004" ry="34.1" fill="none" stroke="#80868f" stroke-opacity="0.8" stroke-width="0.9"/>
<line x1="526.50" y1="775.25" x2="526.50" y2="707.50" stroke="#222" stroke-width="1.3"/>
<line x1="522.80" y1="774.60" x2="526.50" y2="774.60" stroke="#222" stroke-width="1.3"/>
<text x="521.20" y="776.76" font-size="6.0" font-weight="bold" text-anchor="end" fill="#1a1a1a" stroke="#1a1a1a" stroke-width="0.21" textLength="4.7" lengthAdjust="spacingAndGlyphs">0</text>
<line x1="522.80" y1="761.18" x2="526.50" y2="761.18" stroke="#222" stroke-width="1.3"/>
<text x="521.20" y="763.34" font-size="6.0" font-weight="bold" text-anchor="end" fill="#1a1a1a" stroke="#1a1a1a" stroke-width="0.21" textLength="10.2" lengthAdjust="spacingAndGlyphs">20</text>
<line x1="522.80" y1="747.76" x2="526.50" y2="747.76" stroke="#222" stroke-width="1.3"/>
<text x="521.20" y="749.92" font-size="6.0" font-weight="bold" text-anchor="end" fill="#1a1a1a" stroke="#1a1a1a" stroke-width="0.21" textLength="10.2" lengthAdjust="spacingAndGlyphs">40</text>
<line x1="522.80" y1="734.34" x2="526.50" y2="734.34" stroke="#222" stroke-width="1.3"/>
<text x="521.20" y="736.50" font-size="6.0" font-weight="bold" text-anchor="end" fill="#1a1a1a" stroke="#1a1a1a" stroke-width="0.21" textLength="10.2" lengthAdjust="spacingAndGlyphs">60</text>
<line x1="522.80" y1="720.92" x2="526.50" y2="720.92" stroke="#222" stroke-width="1.3"/>
<text x="521.20" y="723.08" font-size="6.0" font-weight="bold" text-anchor="end" fill="#1a1a1a" stroke="#1a1a1a" stroke-width="0.21" textLength="10.2" lengthAdjust="spacingAndGlyphs">80</text>
<line x1="522.80" y1="707.50" x2="526.50" y2="707.50" stroke="#222" stroke-width="1.3"/>
<text x="521.20" y="709.66" font-size="6.0" font-weight="bold" text-anchor="end" fill="#1a1a1a" stroke="#1a1a1a" stroke-width="0.21" textLength="15" lengthAdjust="spacingAndGlyphs">100</text>
<line x1="522.80" y1="774.60" x2="628.50" y2="774.60" stroke="#222" stroke-width="1.3"/>
<rect x="540.60" y="726.96" width="17.90" height="47.64" fill="#d4d4d4" stroke="#aaa" stroke-width="0.7"/>
<rect x="568.20" y="760.51" width="18.60" height="14.09" fill="#808080" stroke="#555" stroke-width="0.7"/>
<rect x="596.00" y="747.76" width="18.40" height="26.84" fill="#5f5f5f" stroke="#333" stroke-width="0.7"/>
<line x1="549.50" y1="726.96" x2="549.50" y2="722.26" stroke="#777" stroke-width="0.7"/>
<line x1="545.00" y1="722.26" x2="554.00" y2="722.26" stroke="#777" stroke-width="0.7"/>
<line x1="577.50" y1="760.51" x2="577.50" y2="758.16" stroke="#777" stroke-width="0.7"/>
<line x1="573.00" y1="758.16" x2="582.00" y2="758.16" stroke="#777" stroke-width="0.7"/>
<line x1="605.20" y1="747.76" x2="605.20" y2="746.42" stroke="#777" stroke-width="0.7"/>
<line x1="600.70" y1="746.42" x2="609.70" y2="746.42" stroke="#777" stroke-width="0.7"/>
<polyline points="549.50,721.00 549.50,718.80 577.70,718.80 577.70,758.00" fill="none" stroke="#888" stroke-width="0.7"/>
<polyline points="549.50,717.00 549.50,715.00 605.60,715.00 605.60,746.00" fill="none" stroke="#888" stroke-width="0.7"/>
<text x="563.50" y="721.50" font-size="8.5" font-weight="normal" text-anchor="middle" fill="#444">***</text>
<text x="576.70" y="717.00" font-size="8.5" font-weight="normal" text-anchor="middle" fill="#444">**</text>
<line x1="549.50" y1="774.60" x2="549.50" y2="777.50" stroke="#222" stroke-width="1.0"/>
<line x1="577.50" y1="774.60" x2="577.50" y2="777.50" stroke="#222" stroke-width="1.0"/>
<line x1="605.20" y1="774.60" x2="605.20" y2="777.50" stroke="#222" stroke-width="1.0"/>
<text x="551.70" y="781.60" font-size="6" font-weight="bold" text-anchor="end" fill="#1a1a1a" stroke="#1a1a1a" stroke-width="0.21" textLength="11.3" lengthAdjust="spacingAndGlyphs" transform="rotate(-29 551.70 781.60)">NC</text>
<text x="580.00" y="782.20" font-size="6" font-weight="bold" text-anchor="end" fill="#1a1a1a" stroke="#1a1a1a" stroke-width="0.21" textLength="39.5" lengthAdjust="spacingAndGlyphs" transform="rotate(-29 580.00 782.20)">siRNA-504</text>
<text x="608.00" y="782.20" font-size="6" font-weight="bold" text-anchor="end" fill="#1a1a1a" stroke="#1a1a1a" stroke-width="0.21" textLength="39.5" lengthAdjust="spacingAndGlyphs" transform="rotate(-29 608.00 782.20)">siRNA-912</text>
<text x="498.80" y="741.00" font-size="8.2" font-weight="bold" text-anchor="middle" fill="#1a1a1a" stroke="#1a1a1a" stroke-width="0.29" textLength="43" lengthAdjust="spacingAndGlyphs" transform="rotate(-90 498.80 741.00)">Colny Numbers</text>
</svg>
</body></html>
